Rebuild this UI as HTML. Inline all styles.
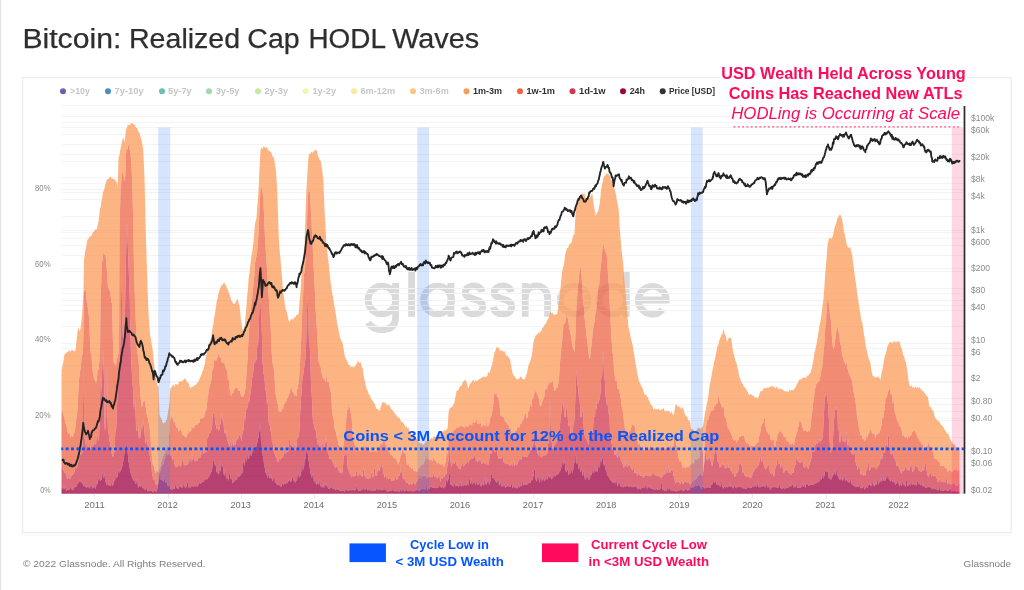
<!DOCTYPE html>
<html><head><meta charset="utf-8"><title>Bitcoin: Realized Cap HODL Waves</title>
<style>html,body{margin:0;padding:0;background:#fff;width:1024px;height:590px;overflow:hidden}svg{display:block;will-change:transform}text{font-family:"Liberation Sans",sans-serif}</style></head>
<body>
<svg width="1024" height="590" viewBox="0 0 1024 590" font-family="Liberation Sans, sans-serif">
<rect width="1024" height="590" fill="#fff"/>
<rect x="0" y="0" width="1.2" height="590" fill="#e4e4e4"/>
<path d="M23,535.6H1011" stroke="#f9f9f9" stroke-width="1.2"/><rect x="22.6" y="77.6" width="988.6" height="455.1" fill="#fff" stroke="#ededed" stroke-width="1.3"/>
<text x="22.4" y="48.1" font-size="28.2" fill="#2e2e2e" textLength="98.9" lengthAdjust="spacingAndGlyphs" stroke="#2e2e2e" stroke-width="0.25">Bitcoin:</text>
<text x="129.0" y="48.1" font-size="28.2" fill="#2e2e2e" textLength="111.1" lengthAdjust="spacingAndGlyphs" stroke="#2e2e2e" stroke-width="0.25">Realized</text>
<text x="247.3" y="48.1" font-size="28.2" fill="#2e2e2e" textLength="52.3" lengthAdjust="spacingAndGlyphs" stroke="#2e2e2e" stroke-width="0.25">Cap</text>
<text x="308.4" y="48.1" font-size="28.2" fill="#2e2e2e" textLength="77.6" lengthAdjust="spacingAndGlyphs" stroke="#2e2e2e" stroke-width="0.25">HODL</text>
<text x="392.2" y="48.1" font-size="28.2" fill="#2e2e2e" textLength="87.0" lengthAdjust="spacingAndGlyphs" stroke="#2e2e2e" stroke-width="0.25">Waves</text>
<g fill="none" stroke="#dadada" stroke-width="6.8"><circle cx="381.9" cy="300.0" r="13.9"/><path d="M395.6,283V317.5Q395.6,329.5 382,329.8Q372.5,329.8 368,322.5"/><path d="M411.6,270.8V316.8"/><circle cx="437.6" cy="300.0" r="13.9"/><path d="M450.9,283V316.8"/><path d="M482.3,292.0 C481.3,288.0 477.8,286.0 473.6,286.0 C468.3,286.0 465.3,288.8 465.3,292.3 C465.3,301.5 482.8,296.3 482.8,307.0 C482.8,311.5 478.8,313.9 473.8,313.9 C468.3,313.9 465.1,311.2 464.3,307.0"/><path d="M511.3,292.0 C510.3,288.0 506.8,286.0 502.6,286.0 C497.3,286.0 494.3,288.8 494.3,292.3 C494.3,301.5 511.8,296.3 511.8,307.0 C511.8,311.5 507.8,313.9 502.8,313.9 C497.3,313.9 494.1,311.2 493.3,307.0"/><path d="M525.2,283V316.8M525.2,298C525.2,290.5 530,286 536.5,286C543,286 547.6,290.5 547.6,298V316.8"/><circle cx="574.2" cy="300.0" r="13.9"/><circle cx="612.6" cy="300.0" r="13.9"/><path d="M626.3,270.8V316.8"/><path d="M639.5,300H666.2A13.9,13.9 0 1 0 662.5,309.7"/></g>
<g stroke="#f4f4f4" stroke-width="1" fill="none"><path d="M61.5,105.5H963.5"/><path d="M61.5,116.5H963.5"/><path d="M61.5,122.5H963.5"/><path d="M61.5,127.5H963.5"/><path d="M61.5,134.5H963.5"/><path d="M61.5,144.5H963.5"/><path d="M61.5,154.5H963.5"/><path d="M61.5,161.5H963.5"/><path d="M61.5,177.5H963.5"/><path d="M61.5,183.5H963.5"/><path d="M61.5,189.5H963.5"/><path d="M61.5,192.5H963.5"/><path d="M61.5,199.5H963.5"/><path d="M61.5,216.5H963.5"/><path d="M61.5,230.5H963.5"/><path d="M61.5,232.5H963.5"/><path d="M61.5,238.5H963.5"/><path d="M61.5,245.5H963.5"/><path d="M61.5,255.5H963.5"/><path d="M61.5,268.5H963.5"/><path d="M61.5,271.5H963.5"/><path d="M61.5,288.5H963.5"/><path d="M61.5,293.5H963.5"/><path d="M61.5,300.5H963.5"/><path d="M61.5,305.5H963.5"/><path d="M61.5,310.5H963.5"/><path d="M61.5,326.5H963.5"/><path d="M61.5,343.5H963.5"/><path d="M61.5,343.5H963.5"/><path d="M61.5,348.5H963.5"/><path d="M61.5,355.5H963.5"/><path d="M61.5,365.5H963.5"/><path d="M61.5,381.5H963.5"/><path d="M61.5,382.5H963.5"/><path d="M61.5,398.5H963.5"/><path d="M61.5,404.5H963.5"/><path d="M61.5,411.5H963.5"/><path d="M61.5,418.5H963.5"/><path d="M61.5,420.5H963.5"/><path d="M61.5,437.5H963.5"/><path d="M61.5,454.5H963.5"/><path d="M61.5,456.5H963.5"/><path d="M61.5,459.5H963.5"/><path d="M61.5,466.5H963.5"/><path d="M61.5,476.5H963.5"/><path d="M61.5,492.5H963.5"/></g>
<g fill-opacity="0.75" stroke="none">
<path fill="#FA9B58" d="M61.5,369.5L62.0,368.7L62.5,365.6L63.0,363.2L63.5,360.9L64.0,357.1L64.5,354.4L65.0,353.8L65.5,353.9L66.0,352.7L66.5,352.4L67.0,352.2L67.5,352.1L68.0,351.9L68.5,350.7L69.0,350.6L69.5,350.8L70.0,351.3L70.5,351.9L71.0,351.0L71.5,350.1L72.0,350.1L72.5,350.5L73.0,349.8L73.5,350.8L74.0,351.5L74.5,351.2L75.0,350.4L75.5,350.3L76.0,346.0L76.5,340.8L77.0,337.7L77.5,332.2L78.0,327.9L78.5,328.6L79.0,329.8L79.5,331.0L80.0,330.6L80.5,328.3L81.0,324.1L81.5,319.5L82.0,315.2L82.5,309.0L83.0,299.8L83.5,291.4L84.0,260.0L84.5,256.4L85.0,253.1L85.5,250.1L86.0,247.3L86.5,245.3L87.0,241.4L87.5,239.6L88.0,239.7L88.5,238.6L89.0,237.9L89.5,236.8L90.0,236.2L90.5,236.4L91.0,235.6L91.5,235.9L92.0,235.2L92.5,232.6L93.0,232.2L93.5,231.7L94.0,230.9L94.5,230.8L95.0,230.3L95.5,229.1L96.0,229.8L96.5,229.6L97.0,228.1L97.5,226.1L98.0,223.9L98.5,221.2L99.0,217.7L99.5,213.2L100.0,208.2L100.5,207.6L101.0,204.7L101.5,201.2L102.0,198.5L102.5,195.4L103.0,192.8L103.5,191.0L104.0,190.1L104.5,188.5L105.0,185.0L105.5,183.9L106.0,182.8L106.5,180.6L107.0,179.5L107.5,179.2L108.0,178.4L108.5,178.4L109.0,178.4L109.5,177.2L110.0,176.8L110.5,176.7L111.0,177.1L111.5,178.1L112.0,178.4L112.5,178.5L113.0,178.1L113.5,178.7L114.0,179.4L114.5,179.2L115.0,179.8L115.5,180.4L116.0,181.1L116.5,182.6L117.0,183.6L117.5,188.7L118.0,175.7L118.5,158.1L119.0,156.2L119.5,155.0L120.0,151.8L120.5,148.8L121.0,146.3L121.5,143.5L122.0,141.8L122.5,139.2L123.0,137.5L123.5,137.9L124.0,141.1L124.5,142.3L125.0,138.4L125.5,133.5L126.0,129.5L126.5,128.8L127.0,128.0L127.5,125.3L128.0,124.2L128.5,125.1L129.0,125.6L129.5,124.9L130.0,125.0L130.5,124.3L131.0,123.1L131.5,123.0L132.0,123.1L132.5,123.5L133.0,123.8L133.5,124.1L134.0,124.4L134.5,124.5L135.0,125.2L135.5,126.5L136.0,127.7L136.5,127.8L137.0,128.0L137.5,128.9L138.0,130.5L138.5,132.7L139.0,131.6L139.5,132.3L140.0,135.8L140.5,136.9L141.0,138.7L141.5,140.1L142.0,142.4L142.5,145.4L143.0,148.1L143.5,155.4L144.0,166.6L144.5,178.3L145.0,199.0L145.5,220.7L146.0,240.2L146.5,254.7L147.0,270.3L147.5,286.2L148.0,300.2L148.5,312.2L149.0,321.0L149.5,327.6L150.0,333.7L150.5,337.5L151.0,339.7L151.5,342.8L152.0,346.7L152.5,349.1L153.0,352.6L153.5,357.8L154.0,362.9L154.5,368.0L155.0,371.2L155.5,375.6L156.0,378.7L156.5,380.9L157.0,383.6L157.5,385.6L158.0,386.3L158.5,386.8L159.0,400.6L159.5,414.4L160.0,416.3L160.5,417.6L161.0,418.1L161.5,419.4L162.0,420.6L162.5,422.1L163.0,423.5L163.5,423.4L164.0,422.5L164.5,422.3L165.0,422.9L165.5,422.2L166.0,420.2L166.5,420.1L167.0,418.3L167.5,415.4L168.0,412.4L168.5,409.0L169.0,406.7L169.5,402.4L170.0,392.2L170.5,388.1L171.0,388.2L171.5,387.0L172.0,386.5L172.5,385.3L173.0,384.8L173.5,384.7L174.0,385.5L174.5,386.9L175.0,385.7L175.5,383.8L176.0,384.0L176.5,384.3L177.0,384.3L177.5,385.1L178.0,384.8L178.5,383.4L179.0,381.8L179.5,381.4L180.0,381.6L180.5,381.2L181.0,381.5L181.5,382.0L182.0,381.1L182.5,380.3L183.0,380.3L183.5,380.5L184.0,378.9L184.5,378.4L185.0,379.1L185.5,379.1L186.0,379.6L186.5,380.6L187.0,382.2L187.5,382.6L188.0,382.4L188.5,383.3L189.0,383.9L189.5,387.1L190.0,387.5L190.5,387.9L191.0,387.8L191.5,387.0L192.0,386.6L192.5,387.0L193.0,386.8L193.5,386.2L194.0,385.6L194.5,385.4L195.0,384.8L195.5,384.6L196.0,384.7L196.5,384.5L197.0,382.7L197.5,382.1L198.0,382.6L198.5,381.6L199.0,379.8L199.5,379.4L200.0,378.0L200.5,376.5L201.0,376.0L201.5,375.1L202.0,373.0L202.5,370.7L203.0,370.7L203.5,369.4L204.0,366.2L204.5,365.4L205.0,362.9L205.5,358.1L206.0,356.5L206.5,355.0L207.0,350.7L207.5,350.0L208.0,348.2L208.5,345.9L209.0,344.4L209.5,342.0L210.0,340.7L210.5,339.7L211.0,338.5L211.5,336.2L212.0,331.8L212.5,327.9L213.0,325.9L213.5,322.9L214.0,318.7L214.5,315.9L215.0,313.5L215.5,310.5L216.0,306.5L216.5,302.7L217.0,300.3L217.5,298.9L218.0,296.1L218.5,293.4L219.0,291.5L219.5,290.8L220.0,288.4L220.5,287.4L221.0,287.1L221.5,284.7L222.0,285.0L222.5,285.4L223.0,284.0L223.5,283.1L224.0,282.6L224.5,283.1L225.0,283.7L225.5,285.2L226.0,285.6L226.5,287.0L227.0,288.7L227.5,288.6L228.0,290.1L228.5,291.9L229.0,293.2L229.5,294.6L230.0,295.5L230.5,297.5L231.0,300.1L231.5,300.6L232.0,300.8L232.5,302.8L233.0,304.0L233.5,303.8L234.0,303.3L234.5,303.8L235.0,303.8L235.5,302.7L236.0,301.5L236.5,300.6L237.0,300.0L237.5,298.8L238.0,300.2L238.5,303.0L239.0,304.4L239.5,305.9L240.0,310.5L240.5,316.1L241.0,319.9L241.5,323.7L242.0,327.1L242.5,329.6L243.0,329.9L243.5,329.0L244.0,329.3L244.5,327.9L245.0,323.5L245.5,317.3L246.0,312.1L246.5,305.6L247.0,298.6L247.5,293.4L248.0,288.3L248.5,280.1L249.0,275.5L249.5,272.8L250.0,267.8L250.5,263.6L251.0,260.1L251.5,255.8L252.0,252.8L252.5,250.4L253.0,245.8L253.5,241.3L254.0,235.8L254.5,229.1L255.0,224.0L255.5,221.7L256.0,220.0L256.5,217.8L257.0,210.7L257.5,203.7L258.0,197.8L258.5,190.6L259.0,180.1L259.5,168.9L260.0,159.7L260.5,150.2L261.0,149.0L261.5,147.4L262.0,148.5L262.5,148.4L263.0,147.8L263.5,146.5L264.0,146.3L264.5,147.0L265.0,147.7L265.5,148.3L266.0,147.5L266.5,146.9L267.0,147.5L267.5,148.8L268.0,150.2L268.5,150.3L269.0,150.9L269.5,150.9L270.0,151.3L270.5,152.1L271.0,152.3L271.5,152.7L272.0,154.7L272.5,156.4L273.0,156.4L273.5,156.7L274.0,158.6L274.5,161.8L275.0,164.6L275.5,167.4L276.0,171.7L276.5,180.0L277.0,186.4L277.5,198.2L278.0,214.8L278.5,228.7L279.0,242.3L279.5,249.2L280.0,254.1L280.5,259.4L281.0,264.8L281.5,271.2L282.0,277.6L282.5,283.3L283.0,289.5L283.5,294.0L284.0,298.1L284.5,302.1L285.0,305.6L285.5,308.7L286.0,309.8L286.5,310.8L287.0,312.5L287.5,314.5L288.0,317.7L288.5,319.5L289.0,321.8L289.5,321.6L290.0,320.9L290.5,320.2L291.0,319.2L291.5,319.0L292.0,318.7L292.5,319.5L293.0,319.9L293.5,319.2L294.0,318.1L294.5,317.4L295.0,317.0L295.5,317.3L296.0,316.0L296.5,314.8L297.0,314.8L297.5,315.1L298.0,314.6L298.5,314.2L299.0,308.3L299.5,302.0L300.0,297.8L300.5,291.3L301.0,282.9L301.5,274.4L302.0,267.9L302.5,264.4L303.0,259.9L303.5,253.7L304.0,249.7L304.5,246.0L305.0,230.1L305.5,214.4L306.0,199.9L306.5,187.3L307.0,180.4L307.5,172.1L308.0,163.9L308.5,157.5L309.0,154.5L309.5,153.9L310.0,153.6L310.5,153.4L311.0,152.3L311.5,151.4L312.0,152.1L312.5,153.0L313.0,152.7L313.5,151.5L314.0,150.9L314.5,150.4L315.0,150.4L315.5,150.1L316.0,150.1L316.5,150.3L317.0,151.0L317.5,153.5L318.0,156.3L318.5,157.3L319.0,158.0L319.5,160.1L320.0,160.1L320.5,160.5L321.0,162.6L321.5,166.0L322.0,168.9L322.5,172.3L323.0,177.7L323.5,183.1L324.0,197.2L324.5,209.8L325.0,218.0L325.5,226.4L326.0,237.2L326.5,246.6L327.0,250.1L327.5,253.4L328.0,258.4L328.5,262.4L329.0,266.6L329.5,271.8L330.0,277.0L330.5,281.4L331.0,284.5L331.5,288.8L332.0,292.3L332.5,294.4L333.0,296.5L333.5,300.7L334.0,304.2L334.5,306.7L335.0,309.1L335.5,312.0L336.0,315.3L336.5,318.6L337.0,322.4L337.5,325.6L338.0,327.6L338.5,330.3L339.0,332.2L339.5,334.5L340.0,337.8L340.5,338.4L341.0,339.7L341.5,341.0L342.0,341.9L342.5,343.1L343.0,345.8L343.5,348.4L344.0,351.3L344.5,354.8L345.0,356.7L345.5,358.5L346.0,358.8L346.5,359.9L347.0,360.8L347.5,361.6L348.0,363.5L348.5,365.0L349.0,365.1L349.5,364.7L350.0,365.2L350.5,367.1L351.0,367.5L351.5,366.3L352.0,366.1L352.5,366.5L353.0,367.4L353.5,367.5L354.0,366.3L354.5,366.3L355.0,366.8L355.5,365.9L356.0,364.2L356.5,363.5L357.0,363.5L357.5,361.8L358.0,359.9L358.5,361.6L359.0,363.0L359.5,362.7L360.0,362.3L360.5,362.2L361.0,363.2L361.5,365.8L362.0,367.6L362.5,367.9L363.0,370.3L363.5,374.0L364.0,377.3L364.5,379.7L365.0,382.6L365.5,384.5L366.0,386.3L366.5,388.8L367.0,389.6L367.5,389.8L368.0,392.0L368.5,393.5L369.0,394.6L369.5,395.0L370.0,396.0L370.5,397.3L371.0,398.2L371.5,399.6L372.0,400.1L372.5,400.4L373.0,401.5L373.5,402.3L374.0,403.3L374.5,403.6L375.0,404.1L375.5,406.2L376.0,407.8L376.5,408.9L377.0,408.8L377.5,408.4L378.0,409.4L378.5,410.0L379.0,410.2L379.5,411.3L380.0,410.0L380.5,407.5L381.0,406.3L381.5,405.1L382.0,403.3L382.5,402.2L383.0,402.4L383.5,401.9L384.0,401.5L384.5,402.6L385.0,403.1L385.5,403.1L386.0,403.5L386.5,404.8L387.0,405.9L387.5,404.5L388.0,404.7L388.5,405.4L389.0,403.7L389.5,405.3L390.0,407.2L390.5,407.4L391.0,408.5L391.5,409.2L392.0,409.4L392.5,410.0L393.0,410.9L393.5,411.7L394.0,412.5L394.5,412.9L395.0,414.1L395.5,415.0L396.0,414.9L396.5,415.3L397.0,415.9L397.5,416.4L398.0,417.8L398.5,417.7L399.0,417.0L399.5,418.2L400.0,419.1L400.5,420.0L401.0,421.4L401.5,421.8L402.0,422.0L402.5,422.2L403.0,422.5L403.5,423.2L404.0,424.2L404.5,424.8L405.0,426.0L405.5,427.5L406.0,427.0L406.5,425.9L407.0,427.6L407.5,428.8L408.0,427.4L408.5,427.6L409.0,429.7L409.5,431.6L410.0,432.5L410.5,433.0L411.0,433.9L411.5,434.8L412.0,434.0L412.5,433.6L413.0,434.3L413.5,435.0L414.0,435.8L414.5,436.4L415.0,438.1L415.5,438.2L416.0,438.3L416.5,438.8L417.0,438.4L417.5,440.0L418.0,441.3L418.5,441.4L419.0,442.8L419.5,442.8L420.0,442.5L420.5,444.0L421.0,443.5L421.5,443.1L422.0,444.2L422.5,444.6L423.0,444.6L423.5,444.8L424.0,444.3L424.5,443.7L425.0,443.1L425.5,441.8L426.0,441.1L426.5,441.0L427.0,441.3L427.5,441.4L428.0,440.9L428.5,440.6L429.0,440.5L429.5,439.8L430.0,439.3L430.5,438.8L431.0,438.2L431.5,437.6L432.0,438.5L432.5,439.0L433.0,437.1L433.5,436.3L434.0,436.8L434.5,436.6L435.0,436.7L435.5,437.0L436.0,437.0L436.5,435.2L437.0,434.9L437.5,436.3L438.0,436.2L438.5,435.7L439.0,434.7L439.5,434.2L440.0,434.7L440.5,434.6L441.0,432.9L441.5,431.9L442.0,432.2L442.5,431.6L443.0,431.1L443.5,431.3L444.0,430.9L444.5,429.8L445.0,430.3L445.5,430.9L446.0,430.2L446.5,429.4L447.0,429.0L447.5,428.6L448.0,421.4L448.5,413.0L449.0,411.1L449.5,409.1L450.0,407.8L450.5,408.0L451.0,407.9L451.5,406.7L452.0,406.7L452.5,406.2L453.0,405.4L453.5,403.9L454.0,403.5L454.5,402.2L455.0,398.7L455.5,396.4L456.0,394.1L456.5,390.9L457.0,390.8L457.5,390.8L458.0,390.1L458.5,390.0L459.0,388.8L459.5,387.4L460.0,386.0L460.5,386.0L461.0,386.7L461.5,385.7L462.0,384.2L462.5,383.0L463.0,381.8L463.5,381.5L464.0,381.8L464.5,380.2L465.0,379.4L465.5,379.5L466.0,380.7L466.5,381.8L467.0,383.5L467.5,385.3L468.0,387.9L468.5,388.3L469.0,386.4L469.5,384.8L470.0,383.6L470.5,383.3L471.0,383.5L471.5,382.2L472.0,380.7L472.5,380.5L473.0,379.9L473.5,380.0L474.0,381.5L474.5,382.1L475.0,381.2L475.5,380.3L476.0,380.6L476.5,380.9L477.0,381.2L477.5,380.6L478.0,379.8L478.5,379.5L479.0,379.8L479.5,378.8L480.0,378.3L480.5,378.8L481.0,378.3L481.5,377.7L482.0,377.5L482.5,377.4L483.0,376.1L483.5,376.6L484.0,377.2L484.5,377.0L485.0,377.0L485.5,376.7L486.0,377.1L486.5,376.4L487.0,375.9L487.5,375.7L488.0,372.0L488.5,372.3L489.0,373.2L489.5,373.1L490.0,371.4L490.5,369.9L491.0,368.0L491.5,366.3L492.0,365.3L492.5,363.0L493.0,360.1L493.5,358.0L494.0,354.8L494.5,352.5L495.0,351.6L495.5,350.5L496.0,349.0L496.5,346.8L497.0,347.2L497.5,347.8L498.0,346.9L498.5,347.5L499.0,348.4L499.5,349.5L500.0,350.6L500.5,350.8L501.0,351.0L501.5,350.7L502.0,351.1L502.5,350.7L503.0,351.0L503.5,351.9L504.0,350.8L504.5,351.3L505.0,353.2L505.5,353.8L506.0,354.8L506.5,356.3L507.0,356.1L507.5,355.6L508.0,356.3L508.5,356.9L509.0,357.9L509.5,359.1L510.0,359.6L510.5,361.9L511.0,364.7L511.5,367.4L512.0,370.2L512.5,372.7L513.0,374.7L513.5,375.2L514.0,375.7L514.5,376.0L515.0,377.3L515.5,378.0L516.0,378.3L516.5,379.0L517.0,379.2L517.5,379.3L518.0,379.8L518.5,379.3L519.0,378.5L519.5,378.0L520.0,377.4L520.5,376.6L521.0,376.4L521.5,377.1L522.0,377.9L522.5,378.9L523.0,379.1L523.5,379.3L524.0,379.5L524.5,379.2L525.0,378.2L525.5,377.1L526.0,376.1L526.5,374.2L527.0,372.8L527.5,370.1L528.0,366.9L528.5,365.3L529.0,364.4L529.5,363.0L530.0,361.7L530.5,360.5L531.0,358.8L531.5,356.7L532.0,354.0L532.5,350.5L533.0,345.8L533.5,342.2L534.0,340.3L534.5,338.5L535.0,337.2L535.5,335.5L536.0,335.3L536.5,334.4L537.0,334.9L537.5,334.5L538.0,332.6L538.5,332.6L539.0,333.0L539.5,333.2L540.0,332.5L540.5,331.5L541.0,331.1L541.5,330.7L542.0,329.0L542.5,328.0L543.0,327.5L543.5,327.1L544.0,326.4L544.5,324.7L545.0,324.4L545.5,323.9L546.0,322.7L546.5,322.2L547.0,321.1L547.5,319.6L548.0,319.3L548.5,318.3L549.0,316.9L549.5,315.6L550.0,312.6L550.5,311.7L551.0,313.1L551.5,312.9L552.0,313.7L552.5,312.5L553.0,313.7L553.5,314.6L554.0,314.4L554.5,314.7L555.0,315.4L555.5,314.6L556.0,313.7L556.5,314.2L557.0,313.9L557.5,312.0L558.0,309.3L558.5,304.4L559.0,301.3L559.5,298.4L560.0,293.7L560.5,287.9L561.0,282.8L561.5,277.4L562.0,272.8L562.5,269.5L563.0,267.6L563.5,266.5L564.0,264.4L564.5,260.4L565.0,255.8L565.5,252.9L566.0,251.4L566.5,249.4L567.0,248.4L567.5,247.7L568.0,247.8L568.5,246.9L569.0,245.1L569.5,244.4L570.0,243.4L570.5,243.7L571.0,243.5L571.5,242.5L572.0,240.9L572.5,238.6L573.0,236.1L573.5,234.7L574.0,235.0L574.5,234.0L575.0,224.3L575.5,215.4L576.0,211.4L576.5,206.7L577.0,204.2L577.5,201.0L578.0,200.7L578.5,200.9L579.0,198.4L579.5,196.7L580.0,196.2L580.5,196.0L581.0,195.0L581.5,194.6L582.0,193.3L582.5,193.6L583.0,194.5L583.5,193.9L584.0,193.6L584.5,193.2L585.0,196.4L585.5,197.8L586.0,199.1L586.5,198.3L587.0,197.3L587.5,198.1L588.0,198.7L588.5,198.1L589.0,197.8L589.5,198.4L590.0,197.4L590.5,196.1L591.0,195.6L591.5,194.5L592.0,192.8L592.5,195.0L593.0,199.2L593.5,203.3L594.0,206.2L594.5,208.8L595.0,211.7L595.5,215.7L596.0,215.6L596.5,213.7L597.0,212.6L597.5,212.0L598.0,212.2L598.5,210.0L599.0,207.0L599.5,204.4L600.0,200.9L600.5,196.2L601.0,190.3L601.5,188.2L602.0,184.6L602.5,183.2L603.0,180.7L603.5,178.3L604.0,177.3L604.5,176.2L605.0,175.6L605.5,175.7L606.0,174.0L606.5,173.1L607.0,173.9L607.5,174.1L608.0,173.4L608.5,174.0L609.0,175.5L609.5,175.7L610.0,176.2L610.5,178.0L611.0,179.9L611.5,180.2L612.0,182.3L612.5,183.7L613.0,184.5L613.5,185.9L614.0,186.8L614.5,188.9L615.0,190.8L615.5,192.8L616.0,195.0L616.5,197.6L617.0,200.9L617.5,203.3L618.0,205.5L618.5,208.0L619.0,216.0L619.5,224.5L620.0,232.1L620.5,237.5L621.0,243.5L621.5,249.3L622.0,253.4L622.5,257.9L623.0,262.2L623.5,267.8L624.0,276.2L624.5,282.4L625.0,286.0L625.5,292.0L626.0,298.4L626.5,304.3L627.0,310.4L627.5,315.1L628.0,322.0L628.5,327.4L629.0,329.4L629.5,331.4L630.0,333.4L630.5,336.7L631.0,339.0L631.5,340.3L632.0,342.6L632.5,345.0L633.0,346.7L633.5,350.6L634.0,353.9L634.5,355.8L635.0,360.5L635.5,363.8L636.0,365.1L636.5,368.5L637.0,372.4L637.5,374.5L638.0,376.7L638.5,379.3L639.0,381.1L639.5,382.3L640.0,382.7L640.5,384.1L641.0,385.8L641.5,386.4L642.0,386.9L642.5,388.3L643.0,389.0L643.5,391.9L644.0,392.7L644.5,394.2L645.0,394.9L645.5,394.2L646.0,394.2L646.5,395.3L647.0,397.0L647.5,396.7L648.0,397.2L648.5,399.4L649.0,400.5L649.5,401.4L650.0,402.7L650.5,404.5L651.0,404.6L651.5,404.5L652.0,405.6L652.5,406.2L653.0,408.5L653.5,409.6L654.0,409.0L654.5,408.6L655.0,408.4L655.5,409.6L656.0,409.2L656.5,408.9L657.0,410.1L657.5,409.1L658.0,408.8L658.5,408.8L659.0,408.8L659.5,409.9L660.0,410.1L660.5,410.3L661.0,410.6L661.5,408.9L662.0,409.0L662.5,409.6L663.0,407.8L663.5,408.3L664.0,409.5L664.5,410.8L665.0,411.6L665.5,411.1L666.0,410.7L666.5,410.9L667.0,410.7L667.5,411.0L668.0,411.2L668.5,410.8L669.0,411.3L669.5,411.2L670.0,412.7L670.5,413.4L671.0,411.8L671.5,411.7L672.0,412.2L672.5,413.4L673.0,414.9L673.5,415.0L674.0,414.1L674.5,411.2L675.0,406.9L675.5,404.4L676.0,404.4L676.5,404.7L677.0,405.3L677.5,406.5L678.0,407.4L678.5,406.3L679.0,405.4L679.5,406.9L680.0,407.4L680.5,407.9L681.0,409.1L681.5,408.6L682.0,407.3L682.5,407.3L683.0,408.6L683.5,409.8L684.0,411.3L684.5,413.2L685.0,414.3L685.5,415.4L686.0,415.9L686.5,416.8L687.0,416.7L687.5,417.1L688.0,419.7L688.5,420.7L689.0,420.0L689.5,419.8L690.0,421.9L690.5,424.4L691.0,427.4L691.5,429.5L692.0,429.0L692.5,429.1L693.0,429.9L693.5,430.1L694.0,430.6L694.5,432.1L695.0,431.3L695.5,430.8L696.0,431.0L696.5,430.2L697.0,429.3L697.5,428.4L698.0,428.0L698.5,427.6L699.0,428.1L699.5,428.1L700.0,428.8L700.5,429.2L701.0,428.4L701.5,427.5L702.0,427.4L702.5,427.2L703.0,425.5L703.5,422.7L704.0,419.5L704.5,416.2L705.0,412.7L705.5,411.1L706.0,409.1L706.5,405.6L707.0,403.0L707.5,400.6L708.0,397.4L708.5,394.9L709.0,390.6L709.5,386.0L710.0,384.1L710.5,381.0L711.0,378.7L711.5,376.3L712.0,373.0L712.5,369.9L713.0,368.0L713.5,365.7L714.0,362.5L714.5,360.5L715.0,358.7L715.5,356.2L716.0,353.5L716.5,351.2L717.0,348.2L717.5,345.2L718.0,345.9L718.5,344.0L719.0,341.1L719.5,340.1L720.0,338.9L720.5,336.9L721.0,336.9L721.5,335.1L722.0,334.1L722.5,333.7L723.0,331.1L723.5,329.4L724.0,330.4L724.5,332.7L725.0,335.4L725.5,335.0L726.0,336.5L726.5,339.7L727.0,342.4L727.5,340.8L728.0,339.6L728.5,338.3L729.0,337.9L729.5,337.3L730.0,337.3L730.5,338.0L731.0,338.6L731.5,340.7L732.0,344.1L732.5,348.1L733.0,351.3L733.5,352.5L734.0,354.9L734.5,356.9L735.0,358.7L735.5,361.1L736.0,361.9L736.5,363.0L737.0,365.4L737.5,368.1L738.0,369.4L738.5,371.3L739.0,375.3L739.5,377.7L740.0,377.8L740.5,379.7L741.0,381.8L741.5,381.7L742.0,382.7L742.5,383.7L743.0,384.6L743.5,385.8L744.0,386.9L744.5,386.9L745.0,387.1L745.5,388.8L746.0,389.0L746.5,389.8L747.0,391.5L747.5,391.6L748.0,392.7L748.5,393.9L749.0,394.3L749.5,395.1L750.0,395.0L750.5,393.9L751.0,393.9L751.5,394.2L752.0,395.2L752.5,395.8L753.0,395.3L753.5,395.5L754.0,396.5L754.5,397.3L755.0,397.4L755.5,397.7L756.0,397.3L756.5,397.1L757.0,398.4L757.5,399.0L758.0,397.8L758.5,397.1L759.0,395.1L759.5,393.9L760.0,391.9L760.5,391.1L761.0,391.5L761.5,390.7L762.0,391.0L762.5,390.9L763.0,388.7L763.5,388.7L764.0,388.5L764.5,387.8L765.0,388.3L765.5,388.7L766.0,388.6L766.5,387.3L767.0,387.4L767.5,387.7L768.0,387.7L768.5,388.1L769.0,387.5L769.5,386.4L770.0,386.7L770.5,387.1L771.0,386.6L771.5,386.6L772.0,386.2L772.5,385.6L773.0,385.9L773.5,386.7L774.0,387.0L774.5,387.4L775.0,388.1L775.5,388.2L776.0,387.5L776.5,386.7L777.0,386.9L777.5,387.2L778.0,388.3L778.5,389.5L779.0,388.4L779.5,388.0L780.0,388.9L780.5,388.8L781.0,388.9L781.5,389.1L782.0,389.2L782.5,389.5L783.0,390.1L783.5,390.4L784.0,391.0L784.5,391.3L785.0,391.2L785.5,391.5L786.0,391.2L786.5,391.4L787.0,391.7L787.5,390.8L788.0,391.8L788.5,392.0L789.0,390.8L789.5,389.6L790.0,389.5L790.5,391.1L791.0,390.8L791.5,389.6L792.0,390.0L792.5,390.3L793.0,390.2L793.5,389.9L794.0,389.0L794.5,388.0L795.0,387.9L795.5,387.5L796.0,386.5L796.5,384.9L797.0,383.4L797.5,383.4L798.0,382.5L798.5,381.0L799.0,380.6L799.5,379.3L800.0,379.3L800.5,379.3L801.0,379.6L801.5,379.7L802.0,378.3L802.5,377.7L803.0,377.6L803.5,377.8L804.0,377.4L804.5,378.0L805.0,378.1L805.5,377.7L806.0,377.5L806.5,377.3L807.0,375.5L807.5,375.2L808.0,376.7L808.5,374.9L809.0,374.5L809.5,374.0L810.0,373.0L810.5,373.0L811.0,371.1L811.5,369.3L812.0,367.6L812.5,364.7L813.0,362.3L813.5,359.4L814.0,355.9L814.5,352.2L815.0,351.0L815.5,348.7L816.0,346.1L816.5,344.3L817.0,341.2L817.5,338.2L818.0,335.0L818.5,331.6L819.0,329.4L819.5,325.0L820.0,323.3L820.5,320.9L821.0,317.7L821.5,314.1L822.0,310.1L822.5,305.7L823.0,303.0L823.5,298.6L824.0,291.4L824.5,284.9L825.0,277.4L825.5,270.4L826.0,264.7L826.5,259.4L827.0,252.3L827.5,245.3L828.0,242.8L828.5,240.5L829.0,238.5L829.5,238.7L830.0,238.0L830.5,237.9L831.0,238.8L831.5,238.4L832.0,238.0L832.5,237.0L833.0,235.4L833.5,233.6L834.0,230.8L834.5,227.7L835.0,226.6L835.5,224.4L836.0,224.5L836.5,222.4L837.0,219.2L837.5,217.7L838.0,217.6L838.5,216.8L839.0,215.3L839.5,215.2L840.0,214.9L840.5,215.0L841.0,215.9L841.5,216.8L842.0,219.0L842.5,221.5L843.0,225.0L843.5,228.4L844.0,231.2L844.5,233.4L845.0,235.6L845.5,238.6L846.0,241.2L846.5,243.0L847.0,245.1L847.5,246.4L848.0,247.3L848.5,248.0L849.0,247.3L849.5,247.3L850.0,247.2L850.5,248.0L851.0,250.9L851.5,252.4L852.0,253.9L852.5,257.4L853.0,262.3L853.5,265.3L854.0,269.9L854.5,273.8L855.0,277.3L855.5,280.8L856.0,283.7L856.5,287.3L857.0,291.8L857.5,296.1L858.0,298.7L858.5,302.0L859.0,305.5L859.5,308.9L860.0,311.7L860.5,314.4L861.0,318.4L861.5,320.8L862.0,321.9L862.5,324.0L863.0,326.6L863.5,330.9L864.0,334.8L864.5,336.8L865.0,340.5L865.5,344.2L866.0,346.7L866.5,349.3L867.0,351.1L867.5,354.0L868.0,356.1L868.5,357.8L869.0,359.6L869.5,360.5L870.0,361.1L870.5,363.6L871.0,367.7L871.5,370.8L872.0,373.1L872.5,374.9L873.0,376.3L873.5,376.4L874.0,376.0L874.5,376.4L875.0,377.8L875.5,377.6L876.0,377.1L876.5,378.0L877.0,377.0L877.5,376.7L878.0,376.4L878.5,376.3L879.0,378.0L879.5,378.1L880.0,379.2L880.5,379.7L881.0,377.0L881.5,373.1L882.0,371.1L882.5,369.6L883.0,366.0L883.5,363.1L884.0,360.5L884.5,357.1L885.0,355.8L885.5,354.5L886.0,352.9L886.5,351.2L887.0,348.3L887.5,346.4L888.0,345.3L888.5,343.8L889.0,343.5L889.5,342.8L890.0,342.3L890.5,341.8L891.0,342.1L891.5,342.9L892.0,342.7L892.5,343.0L893.0,342.5L893.5,341.9L894.0,341.1L894.5,341.3L895.0,341.4L895.5,341.9L896.0,342.7L896.5,341.9L897.0,341.7L897.5,341.3L898.0,341.3L898.5,341.4L899.0,341.5L899.5,341.6L900.0,343.0L900.5,346.1L901.0,347.0L901.5,347.8L902.0,349.7L902.5,351.7L903.0,354.3L903.5,355.6L904.0,356.4L904.5,357.9L905.0,360.0L905.5,361.2L906.0,361.9L906.5,365.7L907.0,369.2L907.5,371.8L908.0,376.6L908.5,380.9L909.0,382.8L909.5,385.2L910.0,386.2L910.5,386.2L911.0,386.7L911.5,385.8L912.0,385.3L912.5,387.6L913.0,388.4L913.5,386.8L914.0,387.2L914.5,388.4L915.0,387.4L915.5,386.4L916.0,386.8L916.5,388.0L917.0,387.9L917.5,387.1L918.0,387.5L918.5,388.4L919.0,387.6L919.5,386.9L920.0,387.6L920.5,389.2L921.0,389.6L921.5,389.6L922.0,390.8L922.5,390.9L923.0,390.8L923.5,391.3L924.0,392.4L924.5,393.0L925.0,392.9L925.5,394.4L926.0,394.6L926.5,396.3L927.0,395.9L927.5,396.5L928.0,397.5L928.5,400.6L929.0,404.9L929.5,406.8L930.0,407.4L930.5,406.6L931.0,406.8L931.5,408.8L932.0,410.1L932.5,410.6L933.0,410.0L933.5,411.6L934.0,412.6L934.5,416.3L935.0,417.5L935.5,418.0L936.0,419.0L936.5,419.5L937.0,419.6L937.5,420.7L938.0,420.8L938.5,420.9L939.0,422.1L939.5,422.2L940.0,422.2L940.5,424.0L941.0,424.8L941.5,425.3L942.0,425.8L942.5,425.9L943.0,426.5L943.5,426.9L944.0,428.7L944.5,430.0L945.0,429.7L945.5,430.9L946.0,432.0L946.5,432.4L947.0,433.0L947.5,434.0L948.0,434.3L948.5,434.2L949.0,435.7L949.5,437.5L950.0,438.8L950.5,439.4L951.0,440.7L951.5,441.9L952.0,442.3L952.5,442.7L953.0,444.0L953.5,444.6L954.0,444.0L954.5,444.2L955.0,446.0L955.5,446.9L956.0,447.1L956.5,447.9L957.0,448.3L957.5,448.2L958.0,448.6L958.5,448.6L959.0,449.6L959.5,449.6L959.5,469.7L959.0,470.7L958.5,470.3L958.0,470.6L957.5,470.9L957.0,468.4L956.5,469.2L956.0,468.9L955.5,469.7L955.0,470.7L954.5,469.6L954.0,469.6L953.5,470.2L953.0,470.0L952.5,472.0L952.0,471.8L951.5,471.3L951.0,471.5L950.5,469.8L950.0,470.5L949.5,469.8L949.0,469.5L948.5,471.1L948.0,471.8L947.5,471.4L947.0,469.4L946.5,467.8L946.0,467.8L945.5,468.3L945.0,468.2L944.5,466.4L944.0,465.7L943.5,465.8L943.0,465.0L942.5,466.2L942.0,465.8L941.5,464.9L941.0,466.1L940.5,466.6L940.0,464.1L939.5,461.9L939.0,462.0L938.5,461.3L938.0,461.2L937.5,460.2L937.0,458.3L936.5,459.6L936.0,459.6L935.5,458.7L935.0,457.6L934.5,458.3L934.0,459.1L933.5,450.9L933.0,447.6L932.5,452.1L932.0,451.2L931.5,448.1L931.0,446.5L930.5,447.4L930.0,446.1L929.5,445.8L929.0,441.9L928.5,441.3L928.0,445.0L927.5,445.8L927.0,446.9L926.5,445.3L926.0,446.1L925.5,447.7L925.0,447.7L924.5,447.5L924.0,447.8L923.5,447.4L923.0,445.3L922.5,443.7L922.0,444.2L921.5,443.3L921.0,441.3L920.5,442.5L920.0,441.7L919.5,440.0L919.0,439.5L918.5,438.5L918.0,438.1L917.5,436.7L917.0,434.9L916.5,434.7L916.0,433.8L915.5,431.2L915.0,431.0L914.5,430.6L914.0,429.9L913.5,430.6L913.0,432.1L912.5,431.2L912.0,432.7L911.5,435.4L911.0,434.9L910.5,435.4L910.0,435.6L909.5,437.6L909.0,437.4L908.5,435.6L908.0,436.5L907.5,439.9L907.0,437.6L906.5,435.4L906.0,437.9L905.5,438.1L905.0,438.1L904.5,436.2L904.0,433.7L903.5,434.8L903.0,436.3L902.5,435.7L902.0,432.1L901.5,429.4L901.0,428.3L900.5,426.3L900.0,425.9L899.5,426.5L899.0,424.2L898.5,422.8L898.0,421.9L897.5,420.2L897.0,420.2L896.5,418.3L896.0,415.7L895.5,414.0L895.0,413.0L894.5,409.6L894.0,398.8L893.5,400.0L893.0,404.6L892.5,401.6L892.0,395.9L891.5,393.1L891.0,394.4L890.5,393.4L890.0,389.6L889.5,388.1L889.0,390.6L888.5,391.3L888.0,391.1L887.5,393.7L887.0,396.2L886.5,398.2L886.0,397.6L885.5,398.8L885.0,405.1L884.5,409.8L884.0,411.5L883.5,415.5L883.0,419.8L882.5,416.3L882.0,419.6L881.5,425.5L881.0,426.8L880.5,428.4L880.0,431.6L879.5,432.3L879.0,433.9L878.5,431.8L878.0,432.7L877.5,435.0L877.0,434.1L876.5,434.7L876.0,435.1L875.5,437.4L875.0,437.5L874.5,433.2L874.0,434.0L873.5,433.5L873.0,432.2L872.5,433.7L872.0,433.2L871.5,430.4L871.0,429.9L870.5,430.3L870.0,429.7L869.5,431.6L869.0,433.7L868.5,433.7L868.0,435.2L867.5,438.2L867.0,434.9L866.5,435.3L866.0,439.2L865.5,439.7L865.0,440.8L864.5,440.7L864.0,440.1L863.5,438.9L863.0,438.0L862.5,438.9L862.0,435.8L861.5,435.1L861.0,435.5L860.5,434.8L860.0,432.6L859.5,430.2L859.0,428.0L858.5,425.2L858.0,421.5L857.5,418.7L857.0,415.7L856.5,409.7L856.0,405.3L855.5,401.5L855.0,398.4L854.5,397.1L854.0,394.4L853.5,390.8L853.0,387.7L852.5,383.6L852.0,381.1L851.5,379.0L851.0,377.5L850.5,377.2L850.0,375.9L849.5,374.3L849.0,373.7L848.5,372.2L848.0,370.0L847.5,369.1L847.0,364.1L846.5,361.4L846.0,364.7L845.5,365.4L845.0,363.8L844.5,362.3L844.0,360.9L843.5,360.0L843.0,357.3L842.5,356.2L842.0,355.5L841.5,347.5L841.0,342.6L840.5,345.4L840.0,342.7L839.5,335.1L839.0,332.8L838.5,331.9L838.0,328.0L837.5,326.2L837.0,329.0L836.5,329.8L836.0,333.6L835.5,338.1L835.0,340.4L834.5,346.5L834.0,346.6L833.5,349.3L833.0,347.4L832.5,342.9L832.0,337.7L831.5,329.2L831.0,321.0L830.5,317.2L830.0,315.4L829.5,309.8L829.0,305.3L828.5,300.6L828.0,297.3L827.5,298.2L827.0,305.7L826.5,312.6L826.0,322.9L825.5,325.8L825.0,331.1L824.5,341.6L824.0,348.1L823.5,352.6L823.0,358.4L822.5,364.5L822.0,368.2L821.5,368.9L821.0,372.0L820.5,375.8L820.0,377.6L819.5,380.6L819.0,381.9L818.5,382.1L818.0,381.8L817.5,383.3L817.0,383.5L816.5,382.9L816.0,385.3L815.5,388.0L815.0,388.4L814.5,391.1L814.0,398.0L813.5,400.6L813.0,403.4L812.5,410.5L812.0,413.6L811.5,416.6L811.0,421.5L810.5,427.1L810.0,429.7L809.5,431.8L809.0,431.0L808.5,430.9L808.0,431.4L807.5,431.6L807.0,431.7L806.5,431.1L806.0,429.8L805.5,430.3L805.0,431.3L804.5,430.9L804.0,431.0L803.5,430.2L803.0,428.6L802.5,427.4L802.0,426.7L801.5,422.8L801.0,421.6L800.5,421.8L800.0,419.5L799.5,419.9L799.0,423.3L798.5,427.1L798.0,427.1L797.5,431.0L797.0,432.6L796.5,432.7L796.0,436.0L795.5,436.5L795.0,438.4L794.5,441.7L794.0,443.9L793.5,445.6L793.0,443.7L792.5,442.2L792.0,443.0L791.5,444.9L791.0,444.8L790.5,442.7L790.0,444.4L789.5,443.6L789.0,442.0L788.5,441.9L788.0,441.1L787.5,441.8L787.0,440.9L786.5,439.8L786.0,438.8L785.5,435.7L785.0,435.6L784.5,437.0L784.0,437.4L783.5,436.1L783.0,435.1L782.5,433.3L782.0,431.5L781.5,432.6L781.0,432.5L780.5,430.5L780.0,431.5L779.5,431.8L779.0,431.1L778.5,433.6L778.0,433.3L777.5,433.3L777.0,438.0L776.5,440.9L776.0,440.9L775.5,443.8L775.0,447.6L774.5,445.3L774.0,440.7L773.5,439.0L773.0,439.3L772.5,439.9L772.0,440.2L771.5,440.3L771.0,440.1L770.5,438.7L770.0,435.9L769.5,433.6L769.0,434.3L768.5,434.8L768.0,431.1L767.5,432.5L767.0,432.1L766.5,430.4L766.0,428.8L765.5,426.0L765.0,419.3L764.5,418.6L764.0,418.5L763.5,422.2L763.0,422.9L762.5,423.7L762.0,423.3L761.5,424.9L761.0,427.6L760.5,431.0L760.0,433.8L759.5,435.3L759.0,436.9L758.5,440.5L758.0,443.6L757.5,442.5L757.0,442.6L756.5,442.7L756.0,443.7L755.5,444.8L755.0,445.9L754.5,446.0L754.0,446.5L753.5,446.2L753.0,445.5L752.5,446.3L752.0,445.1L751.5,445.7L751.0,445.9L750.5,445.8L750.0,446.8L749.5,444.8L749.0,443.8L748.5,443.9L748.0,441.2L747.5,442.8L747.0,443.8L746.5,442.6L746.0,442.2L745.5,441.4L745.0,440.2L744.5,437.6L744.0,436.2L743.5,435.2L743.0,435.5L742.5,435.7L742.0,435.9L741.5,435.6L741.0,436.1L740.5,437.5L740.0,436.5L739.5,435.8L739.0,437.7L738.5,439.8L738.0,440.3L737.5,439.7L737.0,441.9L736.5,443.1L736.0,440.3L735.5,439.0L735.0,440.4L734.5,440.5L734.0,440.5L733.5,438.9L733.0,438.4L732.5,439.2L732.0,436.6L731.5,434.6L731.0,433.3L730.5,433.3L730.0,432.0L729.5,429.9L729.0,429.2L728.5,428.6L728.0,428.5L727.5,426.0L727.0,423.6L726.5,420.7L726.0,419.0L725.5,418.0L725.0,416.4L724.5,416.2L724.0,407.3L723.5,407.3L723.0,405.3L722.5,409.1L722.0,407.0L721.5,405.9L721.0,405.1L720.5,402.9L720.0,401.6L719.5,400.6L719.0,398.6L718.5,390.4L718.0,399.6L717.5,402.7L717.0,404.3L716.5,403.8L716.0,403.3L715.5,405.5L715.0,406.1L714.5,405.9L714.0,406.9L713.5,409.6L713.0,410.5L712.5,410.2L712.0,411.5L711.5,410.8L711.0,410.0L710.5,410.3L710.0,414.2L709.5,416.3L709.0,415.6L708.5,418.9L708.0,420.5L707.5,418.5L707.0,421.5L706.5,425.6L706.0,425.4L705.5,429.0L705.0,438.3L704.5,460.5L704.0,465.3L703.5,469.8L703.0,453.7L702.5,449.0L702.0,450.1L701.5,450.1L701.0,451.0L700.5,450.2L700.0,452.5L699.5,457.8L699.0,457.2L698.5,457.6L698.0,458.7L697.5,458.9L697.0,460.0L696.5,459.7L696.0,459.2L695.5,459.6L695.0,458.3L694.5,459.6L694.0,463.4L693.5,463.5L693.0,464.1L692.5,462.0L692.0,463.4L691.5,464.7L691.0,463.0L690.5,464.3L690.0,465.5L689.5,466.2L689.0,465.7L688.5,466.7L688.0,467.8L687.5,466.2L687.0,466.7L686.5,466.9L686.0,468.6L685.5,467.8L685.0,467.4L684.5,467.7L684.0,464.8L683.5,465.4L683.0,467.9L682.5,467.1L682.0,464.8L681.5,462.2L681.0,461.6L680.5,460.9L680.0,460.5L679.5,462.0L679.0,459.9L678.5,457.6L678.0,454.7L677.5,450.7L677.0,448.9L676.5,444.4L676.0,441.4L675.5,440.6L675.0,436.0L674.5,436.3L674.0,439.4L673.5,444.9L673.0,446.1L672.5,447.8L672.0,448.5L671.5,447.6L671.0,446.1L670.5,445.7L670.0,445.7L669.5,448.1L669.0,446.1L668.5,445.7L668.0,447.2L667.5,448.7L667.0,448.0L666.5,449.3L666.0,449.3L665.5,449.3L665.0,448.8L664.5,447.7L664.0,448.3L663.5,449.4L663.0,449.8L662.5,450.1L662.0,449.4L661.5,448.2L661.0,447.9L660.5,448.0L660.0,447.8L659.5,446.9L659.0,445.9L658.5,448.7L658.0,447.4L657.5,445.8L657.0,448.1L656.5,450.2L656.0,448.8L655.5,448.1L655.0,447.8L654.5,447.8L654.0,448.4L653.5,449.3L653.0,448.2L652.5,446.9L652.0,447.9L651.5,449.3L651.0,447.5L650.5,444.5L650.0,445.3L649.5,448.2L649.0,449.2L648.5,446.5L648.0,446.6L647.5,447.6L647.0,448.1L646.5,447.9L646.0,447.0L645.5,445.6L645.0,446.5L644.5,450.4L644.0,450.2L643.5,448.5L643.0,447.3L642.5,445.7L642.0,446.5L641.5,447.5L641.0,447.9L640.5,445.7L640.0,444.1L639.5,444.1L639.0,442.8L638.5,444.9L638.0,444.2L637.5,439.9L637.0,437.2L636.5,435.4L636.0,434.2L635.5,430.9L635.0,427.4L634.5,425.2L634.0,425.0L633.5,425.3L633.0,424.6L632.5,425.0L632.0,424.4L631.5,425.5L631.0,428.4L630.5,429.5L630.0,430.5L629.5,430.7L629.0,432.6L628.5,434.4L628.0,435.0L627.5,433.9L627.0,431.7L626.5,431.6L626.0,432.9L625.5,432.5L625.0,429.1L624.5,425.0L624.0,421.6L623.5,417.3L623.0,412.9L622.5,408.8L622.0,408.0L621.5,405.3L621.0,399.9L620.5,397.3L620.0,394.4L619.5,391.4L619.0,389.6L618.5,389.0L618.0,389.6L617.5,387.4L617.0,380.7L616.5,380.0L616.0,381.9L615.5,379.4L615.0,377.5L614.5,374.0L614.0,371.0L613.5,360.4L613.0,353.6L612.5,354.1L612.0,344.5L611.5,340.6L611.0,330.5L610.5,318.9L610.0,309.2L609.5,300.6L609.0,288.9L608.5,282.0L608.0,275.0L607.5,265.3L607.0,257.5L606.5,253.6L606.0,252.6L605.5,252.2L605.0,250.0L604.5,248.5L604.0,247.5L603.5,243.9L603.0,244.6L602.5,248.2L602.0,253.7L601.5,259.9L601.0,264.3L600.5,268.6L600.0,273.8L599.5,280.1L599.0,285.9L598.5,283.9L598.0,291.2L597.5,297.2L597.0,303.7L596.5,307.3L596.0,311.4L595.5,312.5L595.0,316.6L594.5,322.0L594.0,323.9L593.5,326.3L593.0,329.1L592.5,334.8L592.0,340.3L591.5,344.5L591.0,349.7L590.5,353.7L590.0,358.6L589.5,359.1L589.0,356.0L588.5,351.4L588.0,347.4L587.5,343.4L587.0,338.9L586.5,335.2L586.0,330.4L585.5,324.9L585.0,321.2L584.5,316.6L584.0,308.9L583.5,305.4L583.0,300.1L582.5,291.5L582.0,282.9L581.5,274.2L581.0,269.5L580.5,266.0L580.0,270.1L579.5,271.6L579.0,275.1L578.5,282.0L578.0,287.0L577.5,292.5L577.0,298.6L576.5,304.9L576.0,319.1L575.5,333.6L575.0,342.7L574.5,352.3L574.0,350.6L573.5,348.7L573.0,347.4L572.5,346.8L572.0,342.7L571.5,338.5L571.0,336.0L570.5,333.0L570.0,330.5L569.5,328.9L569.0,325.8L568.5,321.9L568.0,319.6L567.5,316.9L567.0,315.4L566.5,315.0L566.0,318.2L565.5,320.9L565.0,323.7L564.5,324.3L564.0,323.4L563.5,324.3L563.0,331.3L562.5,336.4L562.0,342.4L561.5,345.7L561.0,352.2L560.5,358.1L560.0,361.7L559.5,368.7L559.0,378.5L558.5,382.8L558.0,384.5L557.5,386.9L557.0,388.7L556.5,387.5L556.0,388.5L555.5,389.9L555.0,390.3L554.5,391.2L554.0,388.4L553.5,386.6L553.0,380.5L552.5,379.9L552.0,383.5L551.5,381.0L551.0,381.9L550.5,383.7L550.0,381.7L549.5,382.1L549.0,383.8L548.5,384.7L548.0,384.8L547.5,386.2L547.0,388.2L546.5,389.5L546.0,389.2L545.5,389.7L545.0,385.7L544.5,395.7L544.0,397.6L543.5,398.5L543.0,400.5L542.5,400.6L542.0,402.5L541.5,405.4L541.0,404.8L540.5,406.2L540.0,406.8L539.5,403.1L539.0,396.0L538.5,399.0L538.0,395.6L537.5,394.9L537.0,394.7L536.5,391.1L536.0,390.3L535.5,391.2L535.0,391.7L534.5,392.9L534.0,394.7L533.5,396.1L533.0,399.7L532.5,398.4L532.0,399.8L531.5,407.0L531.0,406.1L530.5,403.3L530.0,405.7L529.5,407.1L529.0,412.9L528.5,409.3L528.0,411.9L527.5,417.5L527.0,418.5L526.5,417.6L526.0,415.3L525.5,412.0L525.0,413.8L524.5,413.9L524.0,419.0L523.5,420.0L523.0,417.5L522.5,419.9L522.0,422.6L521.5,423.1L521.0,423.6L520.5,424.2L520.0,424.2L519.5,427.3L519.0,427.3L518.5,427.9L518.0,426.0L517.5,425.8L517.0,429.0L516.5,430.5L516.0,431.2L515.5,431.0L515.0,430.7L514.5,432.4L514.0,434.0L513.5,433.7L513.0,432.9L512.5,433.1L512.0,433.5L511.5,433.1L511.0,428.9L510.5,426.5L510.0,429.2L509.5,428.7L509.0,426.5L508.5,425.6L508.0,424.1L507.5,424.5L507.0,423.8L506.5,421.2L506.0,421.4L505.5,422.5L505.0,421.9L504.5,419.2L504.0,418.2L503.5,417.5L503.0,415.7L502.5,416.5L502.0,416.6L501.5,416.3L501.0,416.2L500.5,414.9L500.0,408.6L499.5,404.9L499.0,402.6L498.5,398.1L498.0,396.8L497.5,397.2L497.0,396.7L496.5,392.7L496.0,392.9L495.5,394.4L495.0,394.0L494.5,392.6L494.0,395.7L493.5,403.2L493.0,407.2L492.5,409.6L492.0,413.1L491.5,415.5L491.0,416.3L490.5,417.2L490.0,419.3L489.5,422.1L489.0,424.7L488.5,424.6L488.0,427.2L487.5,425.3L487.0,418.5L486.5,420.6L486.0,427.0L485.5,425.4L485.0,425.9L484.5,424.7L484.0,423.9L483.5,424.9L483.0,425.1L482.5,426.1L482.0,426.9L481.5,426.6L481.0,423.5L480.5,422.1L480.0,424.6L479.5,423.7L479.0,422.6L478.5,423.6L478.0,423.8L477.5,423.4L477.0,423.0L476.5,418.8L476.0,418.6L475.5,421.6L475.0,423.1L474.5,422.4L474.0,423.3L473.5,422.0L473.0,419.5L472.5,422.1L472.0,426.0L471.5,425.2L471.0,423.5L470.5,424.1L470.0,424.9L469.5,425.0L469.0,424.9L468.5,426.6L468.0,426.8L467.5,425.3L467.0,427.1L466.5,426.1L466.0,424.0L465.5,425.6L465.0,427.3L464.5,427.8L464.0,428.1L463.5,426.2L463.0,425.9L462.5,426.4L462.0,425.1L461.5,427.1L461.0,426.3L460.5,424.9L460.0,426.2L459.5,426.8L459.0,427.4L458.5,426.5L458.0,427.3L457.5,428.8L457.0,426.8L456.5,427.4L456.0,428.1L455.5,429.2L455.0,429.4L454.5,429.4L454.0,429.9L453.5,430.5L453.0,431.4L452.5,433.1L452.0,432.8L451.5,431.1L451.0,432.4L450.5,433.2L450.0,434.8L449.5,435.8L449.0,436.8L448.5,439.0L448.0,448.0L447.5,455.7L447.0,451.4L446.5,450.6L446.0,459.5L445.5,463.0L445.0,463.4L444.5,465.4L444.0,467.0L443.5,466.9L443.0,465.1L442.5,463.4L442.0,462.9L441.5,464.2L441.0,464.7L440.5,464.0L440.0,464.5L439.5,463.2L439.0,461.6L438.5,463.1L438.0,463.0L437.5,463.1L437.0,464.4L436.5,461.7L436.0,460.8L435.5,461.0L435.0,459.2L434.5,460.6L434.0,460.5L433.5,457.1L433.0,458.1L432.5,461.5L432.0,460.7L431.5,459.1L431.0,459.4L430.5,459.7L430.0,460.3L429.5,460.4L429.0,460.0L428.5,458.5L428.0,458.1L427.5,456.8L427.0,460.2L426.5,454.0L426.0,454.6L425.5,455.0L425.0,461.4L424.5,460.7L424.0,462.9L423.5,464.8L423.0,463.8L422.5,464.0L422.0,465.9L421.5,463.9L421.0,464.4L420.5,466.2L420.0,467.0L419.5,467.6L419.0,468.1L418.5,468.4L418.0,469.4L417.5,471.5L417.0,471.9L416.5,471.4L416.0,471.3L415.5,471.1L415.0,471.5L414.5,471.0L414.0,470.9L413.5,470.8L413.0,468.5L412.5,467.6L412.0,468.2L411.5,469.0L411.0,468.2L410.5,466.5L410.0,466.0L409.5,467.4L409.0,466.2L408.5,462.6L408.0,462.8L407.5,464.6L407.0,464.8L406.5,460.1L406.0,457.6L405.5,452.6L405.0,452.3L404.5,454.1L404.0,452.0L403.5,452.2L403.0,451.5L402.5,450.0L402.0,450.7L401.5,454.4L401.0,453.9L400.5,455.8L400.0,459.8L399.5,461.2L399.0,462.2L398.5,464.3L398.0,464.5L397.5,461.4L397.0,460.7L396.5,460.2L396.0,457.9L395.5,458.0L395.0,459.2L394.5,458.3L394.0,458.5L393.5,457.2L393.0,456.1L392.5,456.4L392.0,455.4L391.5,455.1L391.0,454.8L390.5,454.5L390.0,454.4L389.5,450.3L389.0,452.2L388.5,450.0L388.0,450.5L387.5,450.3L387.0,448.3L386.5,444.8L386.0,444.6L385.5,445.3L385.0,442.5L384.5,439.7L384.0,440.1L383.5,439.4L383.0,440.4L382.5,442.9L382.0,445.0L381.5,443.4L381.0,442.4L380.5,443.3L380.0,445.4L379.5,448.0L379.0,448.1L378.5,447.4L378.0,448.3L377.5,449.9L377.0,450.2L376.5,451.8L376.0,451.8L375.5,450.7L375.0,451.0L374.5,450.8L374.0,451.6L373.5,451.2L373.0,450.2L372.5,449.7L372.0,450.2L371.5,451.5L371.0,452.3L370.5,451.4L370.0,450.3L369.5,450.3L369.0,450.4L368.5,448.5L368.0,447.5L367.5,447.8L367.0,448.0L366.5,446.7L366.0,446.0L365.5,446.7L365.0,447.1L364.5,447.5L364.0,445.6L363.5,446.0L363.0,447.9L362.5,447.9L362.0,447.7L361.5,447.5L361.0,448.3L360.5,450.5L360.0,451.8L359.5,449.5L359.0,449.0L358.5,449.0L358.0,449.0L357.5,450.3L357.0,449.4L356.5,449.3L356.0,452.4L355.5,449.3L355.0,446.6L354.5,443.5L354.0,442.2L353.5,440.2L353.0,438.5L352.5,432.7L352.0,423.8L351.5,416.4L351.0,413.3L350.5,411.0L350.0,408.8L349.5,407.7L349.0,402.4L348.5,404.1L348.0,410.2L347.5,408.9L347.0,411.6L346.5,415.9L346.0,423.0L345.5,428.0L345.0,432.4L344.5,437.7L344.0,441.3L343.5,443.7L343.0,447.5L342.5,450.6L342.0,447.7L341.5,448.8L341.0,449.6L340.5,443.8L340.0,446.1L339.5,446.4L339.0,445.7L338.5,444.9L338.0,441.4L337.5,438.2L337.0,437.3L336.5,434.7L336.0,432.1L335.5,430.7L335.0,430.1L334.5,427.8L334.0,421.9L333.5,418.9L333.0,417.4L332.5,413.5L332.0,409.7L331.5,400.6L331.0,392.6L330.5,391.5L330.0,388.5L329.5,385.7L329.0,383.1L328.5,381.6L328.0,382.2L327.5,382.1L327.0,380.9L326.5,373.9L326.0,375.5L325.5,381.8L325.0,382.2L324.5,375.2L324.0,379.0L323.5,379.2L323.0,378.3L322.5,375.7L322.0,375.0L321.5,372.0L321.0,369.1L320.5,366.5L320.0,366.2L319.5,362.9L319.0,363.1L318.5,360.7L318.0,350.5L317.5,339.2L317.0,330.4L316.5,322.9L316.0,315.1L315.5,308.7L315.0,293.3L314.5,283.6L314.0,273.7L313.5,266.3L313.0,252.9L312.5,240.7L312.0,232.3L311.5,221.7L311.0,212.4L310.5,201.4L310.0,193.1L309.5,191.6L309.0,191.4L308.5,187.0L308.0,197.0L307.5,206.5L307.0,221.8L306.5,241.0L306.0,250.0L305.5,258.7L305.0,268.4L304.5,273.6L304.0,273.3L303.5,283.1L303.0,297.4L302.5,304.8L302.0,318.3L301.5,332.2L301.0,342.2L300.5,352.5L300.0,363.2L299.5,371.2L299.0,378.3L298.5,383.6L298.0,385.9L297.5,389.4L297.0,389.2L296.5,396.3L296.0,396.2L295.5,393.6L295.0,394.4L294.5,396.3L294.0,393.0L293.5,392.4L293.0,391.5L292.5,392.0L292.0,391.2L291.5,387.2L291.0,387.1L290.5,389.0L290.0,390.4L289.5,393.3L289.0,394.5L288.5,394.9L288.0,397.3L287.5,398.1L287.0,398.7L286.5,401.0L286.0,401.7L285.5,402.2L285.0,402.9L284.5,404.1L284.0,404.3L283.5,405.2L283.0,409.0L282.5,408.2L282.0,409.1L281.5,411.1L281.0,412.1L280.5,411.4L280.0,409.8L279.5,411.0L279.0,412.2L278.5,409.1L278.0,405.2L277.5,403.3L277.0,402.2L276.5,397.8L276.0,395.2L275.5,392.3L275.0,386.2L274.5,376.2L274.0,370.7L273.5,366.3L273.0,366.0L272.5,361.3L272.0,356.9L271.5,346.5L271.0,334.8L270.5,321.8L270.0,316.4L269.5,307.9L269.0,300.8L268.5,293.4L268.0,286.2L267.5,277.4L267.0,268.8L266.5,261.1L266.0,253.2L265.5,246.3L265.0,237.5L264.5,226.5L264.0,213.5L263.5,203.4L263.0,195.4L262.5,192.2L262.0,190.3L261.5,187.8L261.0,186.8L260.5,187.2L260.0,199.6L259.5,210.7L259.0,221.3L258.5,232.4L258.0,242.4L257.5,246.8L257.0,253.4L256.5,257.5L256.0,255.0L255.5,260.2L255.0,263.6L254.5,274.0L254.0,278.3L253.5,284.4L253.0,288.9L252.5,294.1L252.0,299.9L251.5,303.7L251.0,308.6L250.5,315.8L250.0,320.5L249.5,324.4L249.0,329.5L248.5,338.0L248.0,348.5L247.5,359.3L247.0,366.7L246.5,373.7L246.0,381.2L245.5,388.3L245.0,390.6L244.5,393.0L244.0,394.8L243.5,396.9L243.0,395.6L242.5,396.8L242.0,397.2L241.5,395.9L241.0,395.2L240.5,393.6L240.0,391.0L239.5,390.8L239.0,391.2L238.5,390.4L238.0,389.0L237.5,387.5L237.0,387.1L236.5,387.2L236.0,388.8L235.5,386.9L235.0,387.4L234.5,389.2L234.0,390.5L233.5,389.1L233.0,394.5L232.5,392.3L232.0,392.7L231.5,394.8L231.0,396.1L230.5,392.2L230.0,391.5L229.5,387.2L229.0,379.5L228.5,379.8L228.0,380.4L227.5,373.4L227.0,369.8L226.5,370.2L226.0,368.4L225.5,367.5L225.0,366.2L224.5,362.5L224.0,360.6L223.5,362.4L223.0,363.2L222.5,362.2L222.0,362.7L221.5,360.7L221.0,358.4L220.5,357.7L220.0,357.4L219.5,356.5L219.0,352.3L218.5,353.6L218.0,356.2L217.5,357.2L217.0,358.8L216.5,360.4L216.0,360.3L215.5,359.8L215.0,361.0L214.5,360.0L214.0,356.8L213.5,366.3L213.0,369.5L212.5,369.1L212.0,373.1L211.5,377.7L211.0,382.6L210.5,383.3L210.0,384.8L209.5,386.9L209.0,388.7L208.5,392.6L208.0,396.4L207.5,398.4L207.0,403.8L206.5,409.2L206.0,411.0L205.5,411.2L205.0,412.1L204.5,415.3L204.0,418.4L203.5,417.0L203.0,416.7L202.5,418.1L202.0,418.4L201.5,418.6L201.0,419.1L200.5,417.8L200.0,419.2L199.5,422.3L199.0,422.8L198.5,423.8L198.0,420.1L197.5,424.7L197.0,424.6L196.5,424.7L196.0,424.2L195.5,425.4L195.0,424.5L194.5,426.3L194.0,428.1L193.5,427.8L193.0,427.7L192.5,428.4L192.0,427.3L191.5,426.7L191.0,432.0L190.5,431.7L190.0,429.7L189.5,430.9L189.0,431.5L188.5,432.7L188.0,433.8L187.5,432.4L187.0,435.1L186.5,437.4L186.0,436.4L185.5,437.6L185.0,436.8L184.5,436.2L184.0,436.2L183.5,434.7L183.0,434.3L182.5,435.4L182.0,433.9L181.5,430.2L181.0,430.0L180.5,430.2L180.0,429.7L179.5,429.7L179.0,431.5L178.5,431.2L178.0,428.1L177.5,427.7L177.0,428.4L176.5,427.1L176.0,426.0L175.5,425.2L175.0,421.3L174.5,421.7L174.0,422.7L173.5,421.5L173.0,419.9L172.5,417.3L172.0,416.9L171.5,417.1L171.0,418.1L170.5,418.6L170.0,422.4L169.5,430.1L169.0,436.4L168.5,445.4L168.0,448.4L167.5,449.1L167.0,441.9L166.5,448.1L166.0,449.3L165.5,450.0L165.0,451.3L164.5,453.0L164.0,454.3L163.5,455.4L163.0,456.5L162.5,458.0L162.0,459.7L161.5,461.2L161.0,462.8L160.5,465.5L160.0,468.1L159.5,468.6L159.0,469.4L158.5,471.9L158.0,471.5L157.5,471.4L157.0,470.9L156.5,469.4L156.0,472.4L155.5,472.9L155.0,471.4L154.5,468.8L154.0,466.4L153.5,465.6L153.0,465.3L152.5,462.4L152.0,457.5L151.5,450.7L151.0,443.4L150.5,437.2L150.0,431.7L149.5,426.9L149.0,424.3L148.5,422.1L148.0,419.3L147.5,416.6L147.0,415.0L146.5,413.3L146.0,409.1L145.5,405.2L145.0,401.5L144.5,400.6L144.0,401.5L143.5,401.9L143.0,401.2L142.5,404.9L142.0,407.5L141.5,406.0L141.0,400.7L140.5,396.0L140.0,388.4L139.5,379.0L139.0,365.8L138.5,361.6L138.0,354.7L137.5,354.7L137.0,350.2L136.5,337.4L136.0,326.5L135.5,313.6L135.0,299.3L134.5,286.1L134.0,267.5L133.5,235.4L133.0,213.0L132.5,192.9L132.0,178.7L131.5,165.3L131.0,159.0L130.5,154.5L130.0,150.4L129.5,148.7L129.0,145.3L128.5,145.4L128.0,145.0L127.5,150.1L127.0,149.2L126.5,147.6L126.0,154.8L125.5,168.7L125.0,180.4L124.5,180.6L124.0,178.3L123.5,174.4L123.0,171.8L122.5,171.9L122.0,174.3L121.5,178.5L121.0,186.8L120.5,190.5L120.0,211.0L119.5,231.5L119.0,349.8L118.5,352.7L118.0,355.6L117.5,357.5L117.0,359.4L116.5,361.8L116.0,364.8L115.5,365.9L115.0,363.8L114.5,363.4L114.0,363.8L113.5,360.3L113.0,342.6L112.5,321.7L112.0,303.0L111.5,303.0L111.0,299.0L110.5,293.5L110.0,291.3L109.5,290.0L109.0,288.4L108.5,288.3L108.0,287.5L107.5,279.2L107.0,272.1L106.5,265.8L106.0,259.0L105.5,254.2L105.0,254.4L104.5,254.4L104.0,252.8L103.5,252.5L103.0,255.2L102.5,260.8L102.0,262.6L101.5,274.9L101.0,288.1L100.5,300.4L100.0,353.8L99.5,359.3L99.0,364.3L98.5,370.4L98.0,367.4L97.5,369.7L97.0,376.7L96.5,380.2L96.0,384.0L95.5,380.8L95.0,379.8L94.5,380.1L94.0,378.2L93.5,376.1L93.0,373.1L92.5,369.3L92.0,362.1L91.5,355.1L91.0,354.4L90.5,350.4L90.0,342.5L89.5,326.7L89.0,316.0L88.5,314.5L88.0,307.2L87.5,307.1L87.0,303.5L86.5,299.0L86.0,292.6L85.5,289.3L85.0,289.8L84.5,290.7L84.0,291.9L83.5,329.2L83.0,349.8L82.5,354.4L82.0,355.9L81.5,357.8L81.0,364.5L80.5,368.7L80.0,371.8L79.5,375.5L79.0,379.5L78.5,388.2L78.0,399.3L77.5,409.2L77.0,415.1L76.5,417.5L76.0,420.5L75.5,424.7L75.0,430.2L74.5,433.1L74.0,432.5L73.5,434.4L73.0,437.0L72.5,437.1L72.0,435.4L71.5,435.1L71.0,437.5L70.5,437.3L70.0,434.7L69.5,432.7L69.0,432.4L68.5,434.1L68.0,433.5L67.5,431.5L67.0,428.4L66.5,425.7L66.0,424.8L65.5,422.7L65.0,420.7L64.5,418.9L64.0,416.8L63.5,413.5L63.0,411.9L62.5,411.8L62.0,411.3L61.5,410.1Z"/>
<path fill="#EE6445" d="M61.5,410.1L62.0,411.3L62.5,411.8L63.0,411.9L63.5,413.5L64.0,416.8L64.5,418.9L65.0,420.7L65.5,422.7L66.0,424.8L66.5,425.7L67.0,428.4L67.5,431.5L68.0,433.5L68.5,434.1L69.0,432.4L69.5,432.7L70.0,434.7L70.5,437.3L71.0,437.5L71.5,435.1L72.0,435.4L72.5,437.1L73.0,437.0L73.5,434.4L74.0,432.5L74.5,433.1L75.0,430.2L75.5,424.7L76.0,420.5L76.5,417.5L77.0,415.1L77.5,409.2L78.0,399.3L78.5,388.2L79.0,379.5L79.5,375.5L80.0,371.8L80.5,368.7L81.0,364.5L81.5,357.8L82.0,355.9L82.5,354.4L83.0,349.8L83.5,329.2L84.0,291.9L84.5,290.7L85.0,289.8L85.5,289.3L86.0,292.6L86.5,299.0L87.0,303.5L87.5,307.1L88.0,307.2L88.5,314.5L89.0,316.0L89.5,326.7L90.0,342.5L90.5,350.4L91.0,354.4L91.5,355.1L92.0,362.1L92.5,369.3L93.0,373.1L93.5,376.1L94.0,378.2L94.5,380.1L95.0,379.8L95.5,380.8L96.0,384.0L96.5,380.2L97.0,376.7L97.5,369.7L98.0,367.4L98.5,370.4L99.0,364.3L99.5,359.3L100.0,353.8L100.5,300.4L101.0,288.1L101.5,274.9L102.0,262.6L102.5,260.8L103.0,255.2L103.5,252.5L104.0,252.8L104.5,254.4L105.0,254.4L105.5,254.2L106.0,259.0L106.5,265.8L107.0,272.1L107.5,279.2L108.0,287.5L108.5,288.3L109.0,288.4L109.5,290.0L110.0,291.3L110.5,293.5L111.0,299.0L111.5,303.0L112.0,303.0L112.5,321.7L113.0,342.6L113.5,360.3L114.0,363.8L114.5,363.4L115.0,363.8L115.5,365.9L116.0,364.8L116.5,361.8L117.0,359.4L117.5,357.5L118.0,355.6L118.5,352.7L119.0,349.8L119.5,231.5L120.0,211.0L120.5,190.5L121.0,186.8L121.5,178.5L122.0,174.3L122.5,171.9L123.0,171.8L123.5,174.4L124.0,178.3L124.5,180.6L125.0,180.4L125.5,168.7L126.0,154.8L126.5,147.6L127.0,149.2L127.5,150.1L128.0,145.0L128.5,145.4L129.0,145.3L129.5,148.7L130.0,150.4L130.5,154.5L131.0,159.0L131.5,165.3L132.0,178.7L132.5,192.9L133.0,213.0L133.5,235.4L134.0,267.5L134.5,286.1L135.0,299.3L135.5,313.6L136.0,326.5L136.5,337.4L137.0,350.2L137.5,354.7L138.0,354.7L138.5,361.6L139.0,365.8L139.5,379.0L140.0,388.4L140.5,396.0L141.0,400.7L141.5,406.0L142.0,407.5L142.5,404.9L143.0,401.2L143.5,401.9L144.0,401.5L144.5,400.6L145.0,401.5L145.5,405.2L146.0,409.1L146.5,413.3L147.0,415.0L147.5,416.6L148.0,419.3L148.5,422.1L149.0,424.3L149.5,426.9L150.0,431.7L150.5,437.2L151.0,443.4L151.5,450.7L152.0,457.5L152.5,462.4L153.0,465.3L153.5,465.6L154.0,466.4L154.5,468.8L155.0,471.4L155.5,472.9L156.0,472.4L156.5,469.4L157.0,470.9L157.5,471.4L158.0,471.5L158.5,471.9L159.0,469.4L159.5,468.6L160.0,468.1L160.5,465.5L161.0,462.8L161.5,461.2L162.0,459.7L162.5,458.0L163.0,456.5L163.5,455.4L164.0,454.3L164.5,453.0L165.0,451.3L165.5,450.0L166.0,449.3L166.5,448.1L167.0,441.9L167.5,449.1L168.0,448.4L168.5,445.4L169.0,436.4L169.5,430.1L170.0,422.4L170.5,418.6L171.0,418.1L171.5,417.1L172.0,416.9L172.5,417.3L173.0,419.9L173.5,421.5L174.0,422.7L174.5,421.7L175.0,421.3L175.5,425.2L176.0,426.0L176.5,427.1L177.0,428.4L177.5,427.7L178.0,428.1L178.5,431.2L179.0,431.5L179.5,429.7L180.0,429.7L180.5,430.2L181.0,430.0L181.5,430.2L182.0,433.9L182.5,435.4L183.0,434.3L183.5,434.7L184.0,436.2L184.5,436.2L185.0,436.8L185.5,437.6L186.0,436.4L186.5,437.4L187.0,435.1L187.5,432.4L188.0,433.8L188.5,432.7L189.0,431.5L189.5,430.9L190.0,429.7L190.5,431.7L191.0,432.0L191.5,426.7L192.0,427.3L192.5,428.4L193.0,427.7L193.5,427.8L194.0,428.1L194.5,426.3L195.0,424.5L195.5,425.4L196.0,424.2L196.5,424.7L197.0,424.6L197.5,424.7L198.0,420.1L198.5,423.8L199.0,422.8L199.5,422.3L200.0,419.2L200.5,417.8L201.0,419.1L201.5,418.6L202.0,418.4L202.5,418.1L203.0,416.7L203.5,417.0L204.0,418.4L204.5,415.3L205.0,412.1L205.5,411.2L206.0,411.0L206.5,409.2L207.0,403.8L207.5,398.4L208.0,396.4L208.5,392.6L209.0,388.7L209.5,386.9L210.0,384.8L210.5,383.3L211.0,382.6L211.5,377.7L212.0,373.1L212.5,369.1L213.0,369.5L213.5,366.3L214.0,356.8L214.5,360.0L215.0,361.0L215.5,359.8L216.0,360.3L216.5,360.4L217.0,358.8L217.5,357.2L218.0,356.2L218.5,353.6L219.0,352.3L219.5,356.5L220.0,357.4L220.5,357.7L221.0,358.4L221.5,360.7L222.0,362.7L222.5,362.2L223.0,363.2L223.5,362.4L224.0,360.6L224.5,362.5L225.0,366.2L225.5,367.5L226.0,368.4L226.5,370.2L227.0,369.8L227.5,373.4L228.0,380.4L228.5,379.8L229.0,379.5L229.5,387.2L230.0,391.5L230.5,392.2L231.0,396.1L231.5,394.8L232.0,392.7L232.5,392.3L233.0,394.5L233.5,389.1L234.0,390.5L234.5,389.2L235.0,387.4L235.5,386.9L236.0,388.8L236.5,387.2L237.0,387.1L237.5,387.5L238.0,389.0L238.5,390.4L239.0,391.2L239.5,390.8L240.0,391.0L240.5,393.6L241.0,395.2L241.5,395.9L242.0,397.2L242.5,396.8L243.0,395.6L243.5,396.9L244.0,394.8L244.5,393.0L245.0,390.6L245.5,388.3L246.0,381.2L246.5,373.7L247.0,366.7L247.5,359.3L248.0,348.5L248.5,338.0L249.0,329.5L249.5,324.4L250.0,320.5L250.5,315.8L251.0,308.6L251.5,303.7L252.0,299.9L252.5,294.1L253.0,288.9L253.5,284.4L254.0,278.3L254.5,274.0L255.0,263.6L255.5,260.2L256.0,255.0L256.5,257.5L257.0,253.4L257.5,246.8L258.0,242.4L258.5,232.4L259.0,221.3L259.5,210.7L260.0,199.6L260.5,187.2L261.0,186.8L261.5,187.8L262.0,190.3L262.5,192.2L263.0,195.4L263.5,203.4L264.0,213.5L264.5,226.5L265.0,237.5L265.5,246.3L266.0,253.2L266.5,261.1L267.0,268.8L267.5,277.4L268.0,286.2L268.5,293.4L269.0,300.8L269.5,307.9L270.0,316.4L270.5,321.8L271.0,334.8L271.5,346.5L272.0,356.9L272.5,361.3L273.0,366.0L273.5,366.3L274.0,370.7L274.5,376.2L275.0,386.2L275.5,392.3L276.0,395.2L276.5,397.8L277.0,402.2L277.5,403.3L278.0,405.2L278.5,409.1L279.0,412.2L279.5,411.0L280.0,409.8L280.5,411.4L281.0,412.1L281.5,411.1L282.0,409.1L282.5,408.2L283.0,409.0L283.5,405.2L284.0,404.3L284.5,404.1L285.0,402.9L285.5,402.2L286.0,401.7L286.5,401.0L287.0,398.7L287.5,398.1L288.0,397.3L288.5,394.9L289.0,394.5L289.5,393.3L290.0,390.4L290.5,389.0L291.0,387.1L291.5,387.2L292.0,391.2L292.5,392.0L293.0,391.5L293.5,392.4L294.0,393.0L294.5,396.3L295.0,394.4L295.5,393.6L296.0,396.2L296.5,396.3L297.0,389.2L297.5,389.4L298.0,385.9L298.5,383.6L299.0,378.3L299.5,371.2L300.0,363.2L300.5,352.5L301.0,342.2L301.5,332.2L302.0,318.3L302.5,304.8L303.0,297.4L303.5,283.1L304.0,273.3L304.5,273.6L305.0,268.4L305.5,258.7L306.0,250.0L306.5,241.0L307.0,221.8L307.5,206.5L308.0,197.0L308.5,187.0L309.0,191.4L309.5,191.6L310.0,193.1L310.5,201.4L311.0,212.4L311.5,221.7L312.0,232.3L312.5,240.7L313.0,252.9L313.5,266.3L314.0,273.7L314.5,283.6L315.0,293.3L315.5,308.7L316.0,315.1L316.5,322.9L317.0,330.4L317.5,339.2L318.0,350.5L318.5,360.7L319.0,363.1L319.5,362.9L320.0,366.2L320.5,366.5L321.0,369.1L321.5,372.0L322.0,375.0L322.5,375.7L323.0,378.3L323.5,379.2L324.0,379.0L324.5,375.2L325.0,382.2L325.5,381.8L326.0,375.5L326.5,373.9L327.0,380.9L327.5,382.1L328.0,382.2L328.5,381.6L329.0,383.1L329.5,385.7L330.0,388.5L330.5,391.5L331.0,392.6L331.5,400.6L332.0,409.7L332.5,413.5L333.0,417.4L333.5,418.9L334.0,421.9L334.5,427.8L335.0,430.1L335.5,430.7L336.0,432.1L336.5,434.7L337.0,437.3L337.5,438.2L338.0,441.4L338.5,444.9L339.0,445.7L339.5,446.4L340.0,446.1L340.5,443.8L341.0,449.6L341.5,448.8L342.0,447.7L342.5,450.6L343.0,447.5L343.5,443.7L344.0,441.3L344.5,437.7L345.0,432.4L345.5,428.0L346.0,423.0L346.5,415.9L347.0,411.6L347.5,408.9L348.0,410.2L348.5,404.1L349.0,402.4L349.5,407.7L350.0,408.8L350.5,411.0L351.0,413.3L351.5,416.4L352.0,423.8L352.5,432.7L353.0,438.5L353.5,440.2L354.0,442.2L354.5,443.5L355.0,446.6L355.5,449.3L356.0,452.4L356.5,449.3L357.0,449.4L357.5,450.3L358.0,449.0L358.5,449.0L359.0,449.0L359.5,449.5L360.0,451.8L360.5,450.5L361.0,448.3L361.5,447.5L362.0,447.7L362.5,447.9L363.0,447.9L363.5,446.0L364.0,445.6L364.5,447.5L365.0,447.1L365.5,446.7L366.0,446.0L366.5,446.7L367.0,448.0L367.5,447.8L368.0,447.5L368.5,448.5L369.0,450.4L369.5,450.3L370.0,450.3L370.5,451.4L371.0,452.3L371.5,451.5L372.0,450.2L372.5,449.7L373.0,450.2L373.5,451.2L374.0,451.6L374.5,450.8L375.0,451.0L375.5,450.7L376.0,451.8L376.5,451.8L377.0,450.2L377.5,449.9L378.0,448.3L378.5,447.4L379.0,448.1L379.5,448.0L380.0,445.4L380.5,443.3L381.0,442.4L381.5,443.4L382.0,445.0L382.5,442.9L383.0,440.4L383.5,439.4L384.0,440.1L384.5,439.7L385.0,442.5L385.5,445.3L386.0,444.6L386.5,444.8L387.0,448.3L387.5,450.3L388.0,450.5L388.5,450.0L389.0,452.2L389.5,450.3L390.0,454.4L390.5,454.5L391.0,454.8L391.5,455.1L392.0,455.4L392.5,456.4L393.0,456.1L393.5,457.2L394.0,458.5L394.5,458.3L395.0,459.2L395.5,458.0L396.0,457.9L396.5,460.2L397.0,460.7L397.5,461.4L398.0,464.5L398.5,464.3L399.0,462.2L399.5,461.2L400.0,459.8L400.5,455.8L401.0,453.9L401.5,454.4L402.0,450.7L402.5,450.0L403.0,451.5L403.5,452.2L404.0,452.0L404.5,454.1L405.0,452.3L405.5,452.6L406.0,457.6L406.5,460.1L407.0,464.8L407.5,464.6L408.0,462.8L408.5,462.6L409.0,466.2L409.5,467.4L410.0,466.0L410.5,466.5L411.0,468.2L411.5,469.0L412.0,468.2L412.5,467.6L413.0,468.5L413.5,470.8L414.0,470.9L414.5,471.0L415.0,471.5L415.5,471.1L416.0,471.3L416.5,471.4L417.0,471.9L417.5,471.5L418.0,469.4L418.5,468.4L419.0,468.1L419.5,467.6L420.0,467.0L420.5,466.2L421.0,464.4L421.5,463.9L422.0,465.9L422.5,464.0L423.0,463.8L423.5,464.8L424.0,462.9L424.5,460.7L425.0,461.4L425.5,455.0L426.0,454.6L426.5,454.0L427.0,460.2L427.5,456.8L428.0,458.1L428.5,458.5L429.0,460.0L429.5,460.4L430.0,460.3L430.5,459.7L431.0,459.4L431.5,459.1L432.0,460.7L432.5,461.5L433.0,458.1L433.5,457.1L434.0,460.5L434.5,460.6L435.0,459.2L435.5,461.0L436.0,460.8L436.5,461.7L437.0,464.4L437.5,463.1L438.0,463.0L438.5,463.1L439.0,461.6L439.5,463.2L440.0,464.5L440.5,464.0L441.0,464.7L441.5,464.2L442.0,462.9L442.5,463.4L443.0,465.1L443.5,466.9L444.0,467.0L444.5,465.4L445.0,463.4L445.5,463.0L446.0,459.5L446.5,450.6L447.0,451.4L447.5,455.7L448.0,448.0L448.5,439.0L449.0,436.8L449.5,435.8L450.0,434.8L450.5,433.2L451.0,432.4L451.5,431.1L452.0,432.8L452.5,433.1L453.0,431.4L453.5,430.5L454.0,429.9L454.5,429.4L455.0,429.4L455.5,429.2L456.0,428.1L456.5,427.4L457.0,426.8L457.5,428.8L458.0,427.3L458.5,426.5L459.0,427.4L459.5,426.8L460.0,426.2L460.5,424.9L461.0,426.3L461.5,427.1L462.0,425.1L462.5,426.4L463.0,425.9L463.5,426.2L464.0,428.1L464.5,427.8L465.0,427.3L465.5,425.6L466.0,424.0L466.5,426.1L467.0,427.1L467.5,425.3L468.0,426.8L468.5,426.6L469.0,424.9L469.5,425.0L470.0,424.9L470.5,424.1L471.0,423.5L471.5,425.2L472.0,426.0L472.5,422.1L473.0,419.5L473.5,422.0L474.0,423.3L474.5,422.4L475.0,423.1L475.5,421.6L476.0,418.6L476.5,418.8L477.0,423.0L477.5,423.4L478.0,423.8L478.5,423.6L479.0,422.6L479.5,423.7L480.0,424.6L480.5,422.1L481.0,423.5L481.5,426.6L482.0,426.9L482.5,426.1L483.0,425.1L483.5,424.9L484.0,423.9L484.5,424.7L485.0,425.9L485.5,425.4L486.0,427.0L486.5,420.6L487.0,418.5L487.5,425.3L488.0,427.2L488.5,424.6L489.0,424.7L489.5,422.1L490.0,419.3L490.5,417.2L491.0,416.3L491.5,415.5L492.0,413.1L492.5,409.6L493.0,407.2L493.5,403.2L494.0,395.7L494.5,392.6L495.0,394.0L495.5,394.4L496.0,392.9L496.5,392.7L497.0,396.7L497.5,397.2L498.0,396.8L498.5,398.1L499.0,402.6L499.5,404.9L500.0,408.6L500.5,414.9L501.0,416.2L501.5,416.3L502.0,416.6L502.5,416.5L503.0,415.7L503.5,417.5L504.0,418.2L504.5,419.2L505.0,421.9L505.5,422.5L506.0,421.4L506.5,421.2L507.0,423.8L507.5,424.5L508.0,424.1L508.5,425.6L509.0,426.5L509.5,428.7L510.0,429.2L510.5,426.5L511.0,428.9L511.5,433.1L512.0,433.5L512.5,433.1L513.0,432.9L513.5,433.7L514.0,434.0L514.5,432.4L515.0,430.7L515.5,431.0L516.0,431.2L516.5,430.5L517.0,429.0L517.5,425.8L518.0,426.0L518.5,427.9L519.0,427.3L519.5,427.3L520.0,424.2L520.5,424.2L521.0,423.6L521.5,423.1L522.0,422.6L522.5,419.9L523.0,417.5L523.5,420.0L524.0,419.0L524.5,413.9L525.0,413.8L525.5,412.0L526.0,415.3L526.5,417.6L527.0,418.5L527.5,417.5L528.0,411.9L528.5,409.3L529.0,412.9L529.5,407.1L530.0,405.7L530.5,403.3L531.0,406.1L531.5,407.0L532.0,399.8L532.5,398.4L533.0,399.7L533.5,396.1L534.0,394.7L534.5,392.9L535.0,391.7L535.5,391.2L536.0,390.3L536.5,391.1L537.0,394.7L537.5,394.9L538.0,395.6L538.5,399.0L539.0,396.0L539.5,403.1L540.0,406.8L540.5,406.2L541.0,404.8L541.5,405.4L542.0,402.5L542.5,400.6L543.0,400.5L543.5,398.5L544.0,397.6L544.5,395.7L545.0,385.7L545.5,389.7L546.0,389.2L546.5,389.5L547.0,388.2L547.5,386.2L548.0,384.8L548.5,384.7L549.0,383.8L549.5,382.1L550.0,381.7L550.5,383.7L551.0,381.9L551.5,381.0L552.0,383.5L552.5,379.9L553.0,380.5L553.5,386.6L554.0,388.4L554.5,391.2L555.0,390.3L555.5,389.9L556.0,388.5L556.5,387.5L557.0,388.7L557.5,386.9L558.0,384.5L558.5,382.8L559.0,378.5L559.5,368.7L560.0,361.7L560.5,358.1L561.0,352.2L561.5,345.7L562.0,342.4L562.5,336.4L563.0,331.3L563.5,324.3L564.0,323.4L564.5,324.3L565.0,323.7L565.5,320.9L566.0,318.2L566.5,315.0L567.0,315.4L567.5,316.9L568.0,319.6L568.5,321.9L569.0,325.8L569.5,328.9L570.0,330.5L570.5,333.0L571.0,336.0L571.5,338.5L572.0,342.7L572.5,346.8L573.0,347.4L573.5,348.7L574.0,350.6L574.5,352.3L575.0,342.7L575.5,333.6L576.0,319.1L576.5,304.9L577.0,298.6L577.5,292.5L578.0,287.0L578.5,282.0L579.0,275.1L579.5,271.6L580.0,270.1L580.5,266.0L581.0,269.5L581.5,274.2L582.0,282.9L582.5,291.5L583.0,300.1L583.5,305.4L584.0,308.9L584.5,316.6L585.0,321.2L585.5,324.9L586.0,330.4L586.5,335.2L587.0,338.9L587.5,343.4L588.0,347.4L588.5,351.4L589.0,356.0L589.5,359.1L590.0,358.6L590.5,353.7L591.0,349.7L591.5,344.5L592.0,340.3L592.5,334.8L593.0,329.1L593.5,326.3L594.0,323.9L594.5,322.0L595.0,316.6L595.5,312.5L596.0,311.4L596.5,307.3L597.0,303.7L597.5,297.2L598.0,291.2L598.5,283.9L599.0,285.9L599.5,280.1L600.0,273.8L600.5,268.6L601.0,264.3L601.5,259.9L602.0,253.7L602.5,248.2L603.0,244.6L603.5,243.9L604.0,247.5L604.5,248.5L605.0,250.0L605.5,252.2L606.0,252.6L606.5,253.6L607.0,257.5L607.5,265.3L608.0,275.0L608.5,282.0L609.0,288.9L609.5,300.6L610.0,309.2L610.5,318.9L611.0,330.5L611.5,340.6L612.0,344.5L612.5,354.1L613.0,353.6L613.5,360.4L614.0,371.0L614.5,374.0L615.0,377.5L615.5,379.4L616.0,381.9L616.5,380.0L617.0,380.7L617.5,387.4L618.0,389.6L618.5,389.0L619.0,389.6L619.5,391.4L620.0,394.4L620.5,397.3L621.0,399.9L621.5,405.3L622.0,408.0L622.5,408.8L623.0,412.9L623.5,417.3L624.0,421.6L624.5,425.0L625.0,429.1L625.5,432.5L626.0,432.9L626.5,431.6L627.0,431.7L627.5,433.9L628.0,435.0L628.5,434.4L629.0,432.6L629.5,430.7L630.0,430.5L630.5,429.5L631.0,428.4L631.5,425.5L632.0,424.4L632.5,425.0L633.0,424.6L633.5,425.3L634.0,425.0L634.5,425.2L635.0,427.4L635.5,430.9L636.0,434.2L636.5,435.4L637.0,437.2L637.5,439.9L638.0,444.2L638.5,444.9L639.0,442.8L639.5,444.1L640.0,444.1L640.5,445.7L641.0,447.9L641.5,447.5L642.0,446.5L642.5,445.7L643.0,447.3L643.5,448.5L644.0,450.2L644.5,450.4L645.0,446.5L645.5,445.6L646.0,447.0L646.5,447.9L647.0,448.1L647.5,447.6L648.0,446.6L648.5,446.5L649.0,449.2L649.5,448.2L650.0,445.3L650.5,444.5L651.0,447.5L651.5,449.3L652.0,447.9L652.5,446.9L653.0,448.2L653.5,449.3L654.0,448.4L654.5,447.8L655.0,447.8L655.5,448.1L656.0,448.8L656.5,450.2L657.0,448.1L657.5,445.8L658.0,447.4L658.5,448.7L659.0,445.9L659.5,446.9L660.0,447.8L660.5,448.0L661.0,447.9L661.5,448.2L662.0,449.4L662.5,450.1L663.0,449.8L663.5,449.4L664.0,448.3L664.5,447.7L665.0,448.8L665.5,449.3L666.0,449.3L666.5,449.3L667.0,448.0L667.5,448.7L668.0,447.2L668.5,445.7L669.0,446.1L669.5,448.1L670.0,445.7L670.5,445.7L671.0,446.1L671.5,447.6L672.0,448.5L672.5,447.8L673.0,446.1L673.5,444.9L674.0,439.4L674.5,436.3L675.0,436.0L675.5,440.6L676.0,441.4L676.5,444.4L677.0,448.9L677.5,450.7L678.0,454.7L678.5,457.6L679.0,459.9L679.5,462.0L680.0,460.5L680.5,460.9L681.0,461.6L681.5,462.2L682.0,464.8L682.5,467.1L683.0,467.9L683.5,465.4L684.0,464.8L684.5,467.7L685.0,467.4L685.5,467.8L686.0,468.6L686.5,466.9L687.0,466.7L687.5,466.2L688.0,467.8L688.5,466.7L689.0,465.7L689.5,466.2L690.0,465.5L690.5,464.3L691.0,463.0L691.5,464.7L692.0,463.4L692.5,462.0L693.0,464.1L693.5,463.5L694.0,463.4L694.5,459.6L695.0,458.3L695.5,459.6L696.0,459.2L696.5,459.7L697.0,460.0L697.5,458.9L698.0,458.7L698.5,457.6L699.0,457.2L699.5,457.8L700.0,452.5L700.5,450.2L701.0,451.0L701.5,450.1L702.0,450.1L702.5,449.0L703.0,453.7L703.5,469.8L704.0,465.3L704.5,460.5L705.0,438.3L705.5,429.0L706.0,425.4L706.5,425.6L707.0,421.5L707.5,418.5L708.0,420.5L708.5,418.9L709.0,415.6L709.5,416.3L710.0,414.2L710.5,410.3L711.0,410.0L711.5,410.8L712.0,411.5L712.5,410.2L713.0,410.5L713.5,409.6L714.0,406.9L714.5,405.9L715.0,406.1L715.5,405.5L716.0,403.3L716.5,403.8L717.0,404.3L717.5,402.7L718.0,399.6L718.5,390.4L719.0,398.6L719.5,400.6L720.0,401.6L720.5,402.9L721.0,405.1L721.5,405.9L722.0,407.0L722.5,409.1L723.0,405.3L723.5,407.3L724.0,407.3L724.5,416.2L725.0,416.4L725.5,418.0L726.0,419.0L726.5,420.7L727.0,423.6L727.5,426.0L728.0,428.5L728.5,428.6L729.0,429.2L729.5,429.9L730.0,432.0L730.5,433.3L731.0,433.3L731.5,434.6L732.0,436.6L732.5,439.2L733.0,438.4L733.5,438.9L734.0,440.5L734.5,440.5L735.0,440.4L735.5,439.0L736.0,440.3L736.5,443.1L737.0,441.9L737.5,439.7L738.0,440.3L738.5,439.8L739.0,437.7L739.5,435.8L740.0,436.5L740.5,437.5L741.0,436.1L741.5,435.6L742.0,435.9L742.5,435.7L743.0,435.5L743.5,435.2L744.0,436.2L744.5,437.6L745.0,440.2L745.5,441.4L746.0,442.2L746.5,442.6L747.0,443.8L747.5,442.8L748.0,441.2L748.5,443.9L749.0,443.8L749.5,444.8L750.0,446.8L750.5,445.8L751.0,445.9L751.5,445.7L752.0,445.1L752.5,446.3L753.0,445.5L753.5,446.2L754.0,446.5L754.5,446.0L755.0,445.9L755.5,444.8L756.0,443.7L756.5,442.7L757.0,442.6L757.5,442.5L758.0,443.6L758.5,440.5L759.0,436.9L759.5,435.3L760.0,433.8L760.5,431.0L761.0,427.6L761.5,424.9L762.0,423.3L762.5,423.7L763.0,422.9L763.5,422.2L764.0,418.5L764.5,418.6L765.0,419.3L765.5,426.0L766.0,428.8L766.5,430.4L767.0,432.1L767.5,432.5L768.0,431.1L768.5,434.8L769.0,434.3L769.5,433.6L770.0,435.9L770.5,438.7L771.0,440.1L771.5,440.3L772.0,440.2L772.5,439.9L773.0,439.3L773.5,439.0L774.0,440.7L774.5,445.3L775.0,447.6L775.5,443.8L776.0,440.9L776.5,440.9L777.0,438.0L777.5,433.3L778.0,433.3L778.5,433.6L779.0,431.1L779.5,431.8L780.0,431.5L780.5,430.5L781.0,432.5L781.5,432.6L782.0,431.5L782.5,433.3L783.0,435.1L783.5,436.1L784.0,437.4L784.5,437.0L785.0,435.6L785.5,435.7L786.0,438.8L786.5,439.8L787.0,440.9L787.5,441.8L788.0,441.1L788.5,441.9L789.0,442.0L789.5,443.6L790.0,444.4L790.5,442.7L791.0,444.8L791.5,444.9L792.0,443.0L792.5,442.2L793.0,443.7L793.5,445.6L794.0,443.9L794.5,441.7L795.0,438.4L795.5,436.5L796.0,436.0L796.5,432.7L797.0,432.6L797.5,431.0L798.0,427.1L798.5,427.1L799.0,423.3L799.5,419.9L800.0,419.5L800.5,421.8L801.0,421.6L801.5,422.8L802.0,426.7L802.5,427.4L803.0,428.6L803.5,430.2L804.0,431.0L804.5,430.9L805.0,431.3L805.5,430.3L806.0,429.8L806.5,431.1L807.0,431.7L807.5,431.6L808.0,431.4L808.5,430.9L809.0,431.0L809.5,431.8L810.0,429.7L810.5,427.1L811.0,421.5L811.5,416.6L812.0,413.6L812.5,410.5L813.0,403.4L813.5,400.6L814.0,398.0L814.5,391.1L815.0,388.4L815.5,388.0L816.0,385.3L816.5,382.9L817.0,383.5L817.5,383.3L818.0,381.8L818.5,382.1L819.0,381.9L819.5,380.6L820.0,377.6L820.5,375.8L821.0,372.0L821.5,368.9L822.0,368.2L822.5,364.5L823.0,358.4L823.5,352.6L824.0,348.1L824.5,341.6L825.0,331.1L825.5,325.8L826.0,322.9L826.5,312.6L827.0,305.7L827.5,298.2L828.0,297.3L828.5,300.6L829.0,305.3L829.5,309.8L830.0,315.4L830.5,317.2L831.0,321.0L831.5,329.2L832.0,337.7L832.5,342.9L833.0,347.4L833.5,349.3L834.0,346.6L834.5,346.5L835.0,340.4L835.5,338.1L836.0,333.6L836.5,329.8L837.0,329.0L837.5,326.2L838.0,328.0L838.5,331.9L839.0,332.8L839.5,335.1L840.0,342.7L840.5,345.4L841.0,342.6L841.5,347.5L842.0,355.5L842.5,356.2L843.0,357.3L843.5,360.0L844.0,360.9L844.5,362.3L845.0,363.8L845.5,365.4L846.0,364.7L846.5,361.4L847.0,364.1L847.5,369.1L848.0,370.0L848.5,372.2L849.0,373.7L849.5,374.3L850.0,375.9L850.5,377.2L851.0,377.5L851.5,379.0L852.0,381.1L852.5,383.6L853.0,387.7L853.5,390.8L854.0,394.4L854.5,397.1L855.0,398.4L855.5,401.5L856.0,405.3L856.5,409.7L857.0,415.7L857.5,418.7L858.0,421.5L858.5,425.2L859.0,428.0L859.5,430.2L860.0,432.6L860.5,434.8L861.0,435.5L861.5,435.1L862.0,435.8L862.5,438.9L863.0,438.0L863.5,438.9L864.0,440.1L864.5,440.7L865.0,440.8L865.5,439.7L866.0,439.2L866.5,435.3L867.0,434.9L867.5,438.2L868.0,435.2L868.5,433.7L869.0,433.7L869.5,431.6L870.0,429.7L870.5,430.3L871.0,429.9L871.5,430.4L872.0,433.2L872.5,433.7L873.0,432.2L873.5,433.5L874.0,434.0L874.5,433.2L875.0,437.5L875.5,437.4L876.0,435.1L876.5,434.7L877.0,434.1L877.5,435.0L878.0,432.7L878.5,431.8L879.0,433.9L879.5,432.3L880.0,431.6L880.5,428.4L881.0,426.8L881.5,425.5L882.0,419.6L882.5,416.3L883.0,419.8L883.5,415.5L884.0,411.5L884.5,409.8L885.0,405.1L885.5,398.8L886.0,397.6L886.5,398.2L887.0,396.2L887.5,393.7L888.0,391.1L888.5,391.3L889.0,390.6L889.5,388.1L890.0,389.6L890.5,393.4L891.0,394.4L891.5,393.1L892.0,395.9L892.5,401.6L893.0,404.6L893.5,400.0L894.0,398.8L894.5,409.6L895.0,413.0L895.5,414.0L896.0,415.7L896.5,418.3L897.0,420.2L897.5,420.2L898.0,421.9L898.5,422.8L899.0,424.2L899.5,426.5L900.0,425.9L900.5,426.3L901.0,428.3L901.5,429.4L902.0,432.1L902.5,435.7L903.0,436.3L903.5,434.8L904.0,433.7L904.5,436.2L905.0,438.1L905.5,438.1L906.0,437.9L906.5,435.4L907.0,437.6L907.5,439.9L908.0,436.5L908.5,435.6L909.0,437.4L909.5,437.6L910.0,435.6L910.5,435.4L911.0,434.9L911.5,435.4L912.0,432.7L912.5,431.2L913.0,432.1L913.5,430.6L914.0,429.9L914.5,430.6L915.0,431.0L915.5,431.2L916.0,433.8L916.5,434.7L917.0,434.9L917.5,436.7L918.0,438.1L918.5,438.5L919.0,439.5L919.5,440.0L920.0,441.7L920.5,442.5L921.0,441.3L921.5,443.3L922.0,444.2L922.5,443.7L923.0,445.3L923.5,447.4L924.0,447.8L924.5,447.5L925.0,447.7L925.5,447.7L926.0,446.1L926.5,445.3L927.0,446.9L927.5,445.8L928.0,445.0L928.5,441.3L929.0,441.9L929.5,445.8L930.0,446.1L930.5,447.4L931.0,446.5L931.5,448.1L932.0,451.2L932.5,452.1L933.0,447.6L933.5,450.9L934.0,459.1L934.5,458.3L935.0,457.6L935.5,458.7L936.0,459.6L936.5,459.6L937.0,458.3L937.5,460.2L938.0,461.2L938.5,461.3L939.0,462.0L939.5,461.9L940.0,464.1L940.5,466.6L941.0,466.1L941.5,464.9L942.0,465.8L942.5,466.2L943.0,465.0L943.5,465.8L944.0,465.7L944.5,466.4L945.0,468.2L945.5,468.3L946.0,467.8L946.5,467.8L947.0,469.4L947.5,471.4L948.0,471.8L948.5,471.1L949.0,469.5L949.5,469.8L950.0,470.5L950.5,469.8L951.0,471.5L951.5,471.3L952.0,471.8L952.5,472.0L953.0,470.0L953.5,470.2L954.0,469.6L954.5,469.6L955.0,470.7L955.5,469.7L956.0,468.9L956.5,469.2L957.0,468.4L957.5,470.9L958.0,470.6L958.5,470.3L959.0,470.7L959.5,469.7L959.5,483.6L959.0,483.9L958.5,483.2L958.0,485.6L957.5,486.3L957.0,484.5L956.5,484.5L956.0,486.2L955.5,486.1L955.0,481.2L954.5,481.4L954.0,484.5L953.5,483.4L953.0,484.0L952.5,483.2L952.0,482.9L951.5,483.8L951.0,485.1L950.5,484.3L950.0,483.9L949.5,483.2L949.0,484.3L948.5,482.2L948.0,482.2L947.5,484.7L947.0,477.6L946.5,475.4L946.0,481.7L945.5,481.4L945.0,482.5L944.5,481.9L944.0,481.3L943.5,482.2L943.0,482.3L942.5,481.3L942.0,481.0L941.5,482.3L941.0,481.8L940.5,479.8L940.0,480.4L939.5,477.4L939.0,481.9L938.5,482.5L938.0,482.3L937.5,480.8L937.0,478.7L936.5,477.9L936.0,477.1L935.5,475.5L935.0,476.0L934.5,474.9L934.0,476.4L933.5,476.5L933.0,475.9L932.5,474.9L932.0,475.0L931.5,476.4L931.0,474.6L930.5,472.6L930.0,473.1L929.5,474.7L929.0,475.2L928.5,477.0L928.0,476.7L927.5,473.8L927.0,472.3L926.5,468.8L926.0,463.4L925.5,462.3L925.0,464.0L924.5,466.8L924.0,470.7L923.5,471.0L923.0,469.3L922.5,469.6L922.0,470.8L921.5,472.0L921.0,471.9L920.5,471.2L920.0,470.8L919.5,470.3L919.0,470.2L918.5,470.5L918.0,468.3L917.5,466.7L917.0,466.9L916.5,466.5L916.0,465.0L915.5,464.9L915.0,467.1L914.5,468.1L914.0,470.3L913.5,470.9L913.0,471.2L912.5,472.2L912.0,468.3L911.5,463.1L911.0,460.4L910.5,465.8L910.0,468.3L909.5,470.3L909.0,471.3L908.5,469.0L908.0,468.1L907.5,469.5L907.0,470.2L906.5,468.0L906.0,465.5L905.5,466.4L905.0,468.4L904.5,469.4L904.0,470.4L903.5,470.6L903.0,471.8L902.5,469.9L902.0,470.4L901.5,474.0L901.0,472.8L900.5,471.6L900.0,469.9L899.5,469.3L899.0,467.4L898.5,465.7L898.0,467.4L897.5,462.6L897.0,466.4L896.5,465.4L896.0,462.3L895.5,460.4L895.0,459.5L894.5,458.5L894.0,457.5L893.5,456.4L893.0,453.9L892.5,454.1L892.0,452.5L891.5,454.7L891.0,454.3L890.5,453.0L890.0,451.6L889.5,447.5L889.0,435.3L888.5,436.9L888.0,433.8L887.5,447.0L887.0,445.9L886.5,443.9L886.0,443.7L885.5,446.9L885.0,446.0L884.5,452.7L884.0,452.4L883.5,453.1L883.0,453.3L882.5,456.2L882.0,460.8L881.5,454.8L881.0,453.4L880.5,458.8L880.0,461.4L879.5,464.4L879.0,464.3L878.5,465.2L878.0,467.4L877.5,464.4L877.0,468.9L876.5,469.7L876.0,468.8L875.5,467.2L875.0,467.9L874.5,468.1L874.0,467.7L873.5,464.7L873.0,467.4L872.5,467.5L872.0,465.7L871.5,467.1L871.0,467.2L870.5,467.6L870.0,470.6L869.5,471.3L869.0,465.0L868.5,459.2L868.0,464.2L867.5,466.5L867.0,470.6L866.5,469.7L866.0,471.2L865.5,474.6L865.0,475.7L864.5,474.5L864.0,474.3L863.5,475.9L863.0,475.4L862.5,472.9L862.0,472.9L861.5,474.2L861.0,474.7L860.5,473.2L860.0,471.1L859.5,465.6L859.0,466.5L858.5,464.2L858.0,469.5L857.5,470.1L857.0,465.9L856.5,465.5L856.0,463.7L855.5,461.6L855.0,453.9L854.5,451.8L854.0,454.1L853.5,454.4L853.0,455.1L852.5,452.9L852.0,453.8L851.5,453.1L851.0,450.5L850.5,451.7L850.0,450.0L849.5,449.1L849.0,447.6L848.5,438.3L848.0,446.6L847.5,445.1L847.0,434.8L846.5,431.2L846.0,442.8L845.5,438.2L845.0,442.6L844.5,442.0L844.0,442.0L843.5,440.4L843.0,440.2L842.5,440.4L842.0,438.6L841.5,432.2L841.0,430.2L840.5,441.8L840.0,441.9L839.5,442.6L839.0,432.5L838.5,428.4L838.0,428.0L837.5,415.3L837.0,410.7L836.5,407.5L836.0,406.1L835.5,408.6L835.0,411.4L834.5,416.4L834.0,419.9L833.5,428.2L833.0,439.3L832.5,447.2L832.0,449.4L831.5,446.1L831.0,452.7L830.5,452.8L830.0,448.8L829.5,436.2L829.0,420.4L828.5,413.7L828.0,405.7L827.5,399.0L827.0,396.1L826.5,393.7L826.0,393.9L825.5,395.8L825.0,398.0L824.5,402.1L824.0,413.0L823.5,423.1L823.0,434.1L822.5,437.9L822.0,439.6L821.5,441.3L821.0,438.9L820.5,439.9L820.0,442.9L819.5,439.2L819.0,438.5L818.5,440.2L818.0,443.3L817.5,443.9L817.0,443.4L816.5,443.2L816.0,441.6L815.5,444.6L815.0,446.4L814.5,451.0L814.0,451.4L813.5,451.3L813.0,452.3L812.5,448.9L812.0,452.9L811.5,456.7L811.0,460.5L810.5,462.8L810.0,461.6L809.5,464.8L809.0,465.8L808.5,468.2L808.0,469.2L807.5,466.9L807.0,464.2L806.5,465.3L806.0,466.5L805.5,467.1L805.0,467.5L804.5,467.3L804.0,467.7L803.5,466.0L803.0,462.9L802.5,462.3L802.0,461.7L801.5,461.4L801.0,462.0L800.5,463.1L800.0,463.1L799.5,463.1L799.0,461.8L798.5,462.2L798.0,461.6L797.5,459.9L797.0,454.7L796.5,455.5L796.0,461.7L795.5,465.1L795.0,465.1L794.5,467.7L794.0,468.3L793.5,472.8L793.0,473.1L792.5,473.1L792.0,472.3L791.5,473.1L791.0,475.1L790.5,475.0L790.0,473.8L789.5,472.7L789.0,473.1L788.5,472.5L788.0,471.8L787.5,470.2L787.0,469.8L786.5,468.1L786.0,470.6L785.5,470.9L785.0,469.1L784.5,470.0L784.0,473.2L783.5,472.1L783.0,469.6L782.5,464.0L782.0,464.0L781.5,462.6L781.0,468.3L780.5,468.1L780.0,463.8L779.5,463.0L779.0,463.8L778.5,464.7L778.0,462.0L777.5,458.0L777.0,461.3L776.5,464.7L776.0,467.3L775.5,467.8L775.0,468.9L774.5,472.6L774.0,477.0L773.5,475.6L773.0,474.1L772.5,471.9L772.0,472.5L771.5,474.4L771.0,474.0L770.5,473.0L770.0,472.5L769.5,468.7L769.0,465.8L768.5,465.0L768.0,463.3L767.5,465.5L767.0,467.7L766.5,468.5L766.0,468.4L765.5,469.6L765.0,468.0L764.5,467.4L764.0,466.6L763.5,462.6L763.0,463.5L762.5,456.2L762.0,456.8L761.5,462.1L761.0,460.3L760.5,456.3L760.0,456.1L759.5,460.5L759.0,464.8L758.5,466.4L758.0,464.4L757.5,464.2L757.0,468.0L756.5,467.8L756.0,468.4L755.5,468.5L755.0,467.2L754.5,469.6L754.0,471.1L753.5,471.8L753.0,471.4L752.5,472.8L752.0,476.7L751.5,477.8L751.0,476.5L750.5,477.1L750.0,478.6L749.5,477.1L749.0,475.3L748.5,476.5L748.0,476.7L747.5,475.8L747.0,477.0L746.5,476.9L746.0,475.1L745.5,476.4L745.0,476.1L744.5,474.8L744.0,472.3L743.5,471.4L743.0,473.6L742.5,472.7L742.0,469.6L741.5,463.9L741.0,461.1L740.5,462.2L740.0,464.4L739.5,463.2L739.0,465.5L738.5,467.8L738.0,472.4L737.5,472.5L737.0,471.3L736.5,472.5L736.0,474.7L735.5,475.8L735.0,477.0L734.5,476.7L734.0,474.6L733.5,472.0L733.0,473.4L732.5,474.6L732.0,472.6L731.5,469.5L731.0,471.1L730.5,469.7L730.0,468.3L729.5,466.8L729.0,467.7L728.5,468.0L728.0,461.6L727.5,462.7L727.0,468.4L726.5,467.5L726.0,467.3L725.5,468.4L725.0,468.2L724.5,467.1L724.0,466.6L723.5,464.7L723.0,462.6L722.5,463.8L722.0,465.4L721.5,466.8L721.0,466.5L720.5,466.8L720.0,467.5L719.5,467.0L719.0,464.7L718.5,461.6L718.0,461.0L717.5,461.8L717.0,454.9L716.5,451.5L716.0,448.6L715.5,451.3L715.0,451.1L714.5,452.8L714.0,455.8L713.5,459.3L713.0,462.7L712.5,466.5L712.0,466.1L711.5,463.0L711.0,461.9L710.5,459.9L710.0,455.8L709.5,457.1L709.0,459.9L708.5,458.1L708.0,459.1L707.5,460.9L707.0,459.7L706.5,459.1L706.0,456.5L705.5,450.1L705.0,452.8L704.5,460.8L704.0,465.6L703.5,470.1L703.0,473.4L702.5,475.5L702.0,476.3L701.5,473.6L701.0,471.8L700.5,472.4L700.0,474.5L699.5,475.1L699.0,475.6L698.5,475.4L698.0,475.6L697.5,477.4L697.0,476.8L696.5,477.5L696.0,479.4L695.5,479.7L695.0,479.3L694.5,479.0L694.0,480.1L693.5,481.9L693.0,479.9L692.5,481.5L692.0,481.6L691.5,483.0L691.0,483.8L690.5,483.1L690.0,485.0L689.5,483.1L689.0,481.6L688.5,482.0L688.0,482.5L687.5,482.6L687.0,480.8L686.5,480.9L686.0,482.9L685.5,481.1L685.0,479.9L684.5,481.3L684.0,482.2L683.5,483.8L683.0,483.9L682.5,483.0L682.0,481.3L681.5,481.5L681.0,481.6L680.5,483.1L680.0,484.7L679.5,481.4L679.0,480.7L678.5,481.7L678.0,482.4L677.5,481.7L677.0,482.8L676.5,480.9L676.0,481.9L675.5,484.0L675.0,481.9L674.5,477.8L674.0,476.9L673.5,475.7L673.0,472.2L672.5,469.5L672.0,468.7L671.5,470.1L671.0,470.9L670.5,472.4L670.0,473.6L669.5,471.6L669.0,464.4L668.5,467.7L668.0,472.9L667.5,472.7L667.0,467.4L666.5,466.6L666.0,474.3L665.5,473.7L665.0,473.6L664.5,473.8L664.0,474.9L663.5,474.1L663.0,475.0L662.5,476.9L662.0,476.4L661.5,476.4L661.0,478.2L660.5,477.8L660.0,475.6L659.5,476.1L659.0,477.2L658.5,474.2L658.0,474.5L657.5,476.3L657.0,475.9L656.5,475.8L656.0,475.4L655.5,475.2L655.0,474.8L654.5,474.4L654.0,472.8L653.5,472.9L653.0,473.5L652.5,474.6L652.0,474.4L651.5,473.4L651.0,475.4L650.5,476.4L650.0,476.4L649.5,475.6L649.0,476.4L648.5,474.2L648.0,475.7L647.5,475.2L647.0,475.2L646.5,475.4L646.0,474.2L645.5,475.2L645.0,475.3L644.5,475.8L644.0,477.3L643.5,477.8L643.0,477.3L642.5,475.3L642.0,474.7L641.5,475.2L641.0,476.1L640.5,475.6L640.0,475.3L639.5,475.1L639.0,472.7L638.5,472.5L638.0,474.2L637.5,475.8L637.0,474.6L636.5,473.4L636.0,473.4L635.5,472.3L635.0,472.8L634.5,472.6L634.0,468.7L633.5,467.6L633.0,467.9L632.5,470.7L632.0,469.7L631.5,468.4L631.0,467.7L630.5,467.2L630.0,465.8L629.5,464.1L629.0,465.5L628.5,466.1L628.0,465.6L627.5,466.8L627.0,467.8L626.5,460.9L626.0,460.4L625.5,467.0L625.0,462.5L624.5,464.6L624.0,468.2L623.5,467.1L623.0,465.6L622.5,463.3L622.0,461.0L621.5,461.4L621.0,461.6L620.5,458.3L620.0,456.8L619.5,457.3L619.0,456.3L618.5,454.9L618.0,454.8L617.5,458.1L617.0,457.3L616.5,452.8L616.0,450.1L615.5,455.4L615.0,454.8L614.5,454.1L614.0,450.9L613.5,450.7L613.0,449.1L612.5,450.2L612.0,445.2L611.5,441.9L611.0,440.4L610.5,436.7L610.0,430.0L609.5,415.4L609.0,410.0L608.5,414.9L608.0,405.7L607.5,404.5L607.0,405.7L606.5,401.4L606.0,398.9L605.5,393.6L605.0,382.8L604.5,377.4L604.0,374.6L603.5,361.6L603.0,349.1L602.5,361.1L602.0,377.7L601.5,375.6L601.0,380.5L600.5,392.5L600.0,397.0L599.5,399.6L599.0,400.4L598.5,400.6L598.0,404.1L597.5,401.6L597.0,404.1L596.5,410.4L596.0,405.9L595.5,407.8L595.0,416.8L594.5,417.0L594.0,415.7L593.5,421.0L593.0,428.5L592.5,432.7L592.0,435.6L591.5,435.9L591.0,437.5L590.5,439.4L590.0,438.8L589.5,428.5L589.0,442.3L588.5,444.4L588.0,443.1L587.5,441.0L587.0,439.6L586.5,439.1L586.0,437.9L585.5,438.6L585.0,437.3L584.5,434.7L584.0,430.6L583.5,425.3L583.0,408.4L582.5,410.9L582.0,413.5L581.5,417.0L581.0,416.8L580.5,418.0L580.0,405.5L579.5,399.0L579.0,399.4L578.5,391.7L578.0,386.9L577.5,384.4L577.0,376.4L576.5,370.4L576.0,380.0L575.5,393.0L575.0,406.6L574.5,419.6L574.0,423.6L573.5,422.4L573.0,428.6L572.5,430.7L572.0,436.1L571.5,440.8L571.0,437.9L570.5,434.9L570.0,425.0L569.5,423.6L569.0,427.3L568.5,424.6L568.0,421.0L567.5,410.6L567.0,404.0L566.5,404.8L566.0,412.4L565.5,415.8L565.0,418.0L564.5,416.4L564.0,411.1L563.5,406.0L563.0,401.2L562.5,401.9L562.0,407.0L561.5,411.2L561.0,415.5L560.5,419.5L560.0,424.3L559.5,428.2L559.0,431.5L558.5,436.2L558.0,438.7L557.5,437.6L557.0,439.2L556.5,440.4L556.0,443.2L555.5,444.6L555.0,444.4L554.5,445.0L554.0,445.6L553.5,447.6L553.0,449.8L552.5,446.9L552.0,444.0L551.5,441.3L551.0,439.2L550.5,411.8L550.0,398.1L549.5,425.3L549.0,443.9L548.5,441.7L548.0,443.7L547.5,450.3L547.0,454.5L546.5,455.3L546.0,455.3L545.5,454.9L545.0,454.4L544.5,455.6L544.0,456.3L543.5,455.6L543.0,456.2L542.5,456.1L542.0,456.6L541.5,458.0L541.0,457.0L540.5,456.7L540.0,457.2L539.5,449.2L539.0,448.7L538.5,456.7L538.0,454.4L537.5,452.6L537.0,444.7L536.5,447.9L536.0,446.3L535.5,443.6L535.0,440.5L534.5,437.8L534.0,441.9L533.5,443.9L533.0,443.4L532.5,445.4L532.0,448.5L531.5,449.7L531.0,448.8L530.5,449.6L530.0,451.5L529.5,452.9L529.0,452.2L528.5,453.6L528.0,455.8L527.5,456.9L527.0,456.4L526.5,456.6L526.0,456.7L525.5,456.1L525.0,457.0L524.5,456.6L524.0,456.8L523.5,457.1L523.0,456.4L522.5,455.4L522.0,456.8L521.5,459.1L521.0,460.3L520.5,458.2L520.0,457.5L519.5,459.0L519.0,459.9L518.5,460.5L518.0,462.2L517.5,464.1L517.0,464.7L516.5,465.6L516.0,464.1L515.5,463.9L515.0,465.0L514.5,466.6L514.0,459.4L513.5,460.4L513.0,466.1L512.5,466.1L512.0,465.4L511.5,460.5L511.0,466.2L510.5,464.9L510.0,464.4L509.5,465.3L509.0,465.0L508.5,464.1L508.0,463.5L507.5,464.0L507.0,464.5L506.5,462.9L506.0,463.1L505.5,463.9L505.0,462.4L504.5,462.5L504.0,463.4L503.5,461.0L503.0,457.3L502.5,456.5L502.0,457.0L501.5,459.3L501.0,459.0L500.5,457.7L500.0,456.5L499.5,458.1L499.0,458.8L498.5,458.4L498.0,456.8L497.5,454.0L497.0,443.1L496.5,440.5L496.0,452.7L495.5,451.5L495.0,452.1L494.5,451.1L494.0,450.5L493.5,448.7L493.0,446.9L492.5,445.2L492.0,451.8L491.5,454.4L491.0,453.5L490.5,453.7L490.0,450.2L489.5,453.4L489.0,463.6L488.5,464.5L488.0,464.2L487.5,464.7L487.0,464.5L486.5,461.8L486.0,461.5L485.5,464.7L485.0,463.7L484.5,462.7L484.0,462.7L483.5,461.5L483.0,462.3L482.5,463.5L482.0,463.6L481.5,463.5L481.0,462.4L480.5,459.9L480.0,460.1L479.5,461.3L479.0,456.8L478.5,459.3L478.0,462.7L477.5,461.0L477.0,459.7L476.5,460.2L476.0,461.4L475.5,457.7L475.0,455.8L474.5,453.4L474.0,457.6L473.5,457.5L473.0,456.8L472.5,458.7L472.0,459.2L471.5,457.8L471.0,457.7L470.5,459.4L470.0,459.6L469.5,459.4L469.0,461.0L468.5,463.4L468.0,461.4L467.5,459.5L467.0,463.3L466.5,462.4L466.0,463.6L465.5,463.5L465.0,463.6L464.5,465.7L464.0,465.8L463.5,466.7L463.0,464.8L462.5,463.7L462.0,464.4L461.5,466.2L461.0,467.0L460.5,469.4L460.0,469.1L459.5,468.6L459.0,468.4L458.5,467.9L458.0,467.2L457.5,466.1L457.0,466.3L456.5,463.7L456.0,461.5L455.5,460.2L455.0,462.9L454.5,463.7L454.0,462.6L453.5,463.6L453.0,461.1L452.5,461.8L452.0,465.4L451.5,466.8L451.0,464.4L450.5,460.1L450.0,449.6L449.5,448.2L449.0,456.7L448.5,460.3L448.0,463.4L447.5,465.5L447.0,469.1L446.5,473.3L446.0,475.1L445.5,474.2L445.0,473.6L444.5,475.9L444.0,477.6L443.5,477.1L443.0,477.0L442.5,479.0L442.0,477.9L441.5,477.3L441.0,479.6L440.5,481.8L440.0,480.6L439.5,473.4L439.0,471.8L438.5,476.3L438.0,477.2L437.5,478.6L437.0,478.5L436.5,476.8L436.0,476.3L435.5,476.8L435.0,476.7L434.5,477.3L434.0,472.7L433.5,472.5L433.0,476.3L432.5,477.0L432.0,477.2L431.5,476.8L431.0,476.7L430.5,477.6L430.0,476.6L429.5,476.9L429.0,477.3L428.5,476.4L428.0,477.8L427.5,478.2L427.0,477.9L426.5,477.9L426.0,477.1L425.5,475.0L425.0,474.5L424.5,476.1L424.0,476.7L423.5,476.2L423.0,474.8L422.5,475.1L422.0,477.3L421.5,478.2L421.0,478.0L420.5,473.0L420.0,473.2L419.5,473.8L419.0,479.3L418.5,478.1L418.0,478.6L417.5,480.8L417.0,481.4L416.5,482.4L416.0,482.3L415.5,483.1L415.0,485.2L414.5,483.6L414.0,481.5L413.5,481.6L413.0,483.4L412.5,483.2L412.0,484.1L411.5,485.2L411.0,483.1L410.5,483.7L410.0,484.6L409.5,483.7L409.0,484.4L408.5,484.0L408.0,482.9L407.5,482.7L407.0,481.4L406.5,482.7L406.0,482.5L405.5,480.0L405.0,480.2L404.5,478.7L404.0,478.5L403.5,478.3L403.0,479.0L402.5,475.4L402.0,475.1L401.5,467.0L401.0,464.1L400.5,472.3L400.0,473.5L399.5,476.0L399.0,475.7L398.5,475.7L398.0,479.0L397.5,478.6L397.0,480.2L396.5,479.5L396.0,476.8L395.5,477.0L395.0,478.8L394.5,480.6L394.0,480.7L393.5,480.0L393.0,479.5L392.5,480.1L392.0,481.4L391.5,480.3L391.0,479.0L390.5,478.9L390.0,478.2L389.5,478.3L389.0,478.8L388.5,479.4L388.0,477.8L387.5,476.5L387.0,477.7L386.5,479.0L386.0,477.4L385.5,474.8L385.0,477.1L384.5,478.1L384.0,474.9L383.5,473.2L383.0,471.1L382.5,466.8L382.0,464.9L381.5,464.4L381.0,466.8L380.5,467.6L380.0,467.5L379.5,470.0L379.0,471.2L378.5,471.0L378.0,463.6L377.5,468.1L377.0,475.9L376.5,475.4L376.0,475.4L375.5,476.1L375.0,470.0L374.5,467.2L374.0,469.6L373.5,477.1L373.0,477.3L372.5,476.9L372.0,474.5L371.5,470.7L371.0,474.3L370.5,478.4L370.0,478.1L369.5,477.5L369.0,478.3L368.5,479.3L368.0,478.9L367.5,478.4L367.0,476.4L366.5,475.7L366.0,478.7L365.5,476.4L365.0,475.9L364.5,475.5L364.0,467.8L363.5,469.8L363.0,471.1L362.5,476.8L362.0,477.3L361.5,475.8L361.0,474.3L360.5,475.1L360.0,472.3L359.5,472.4L359.0,475.9L358.5,476.6L358.0,476.0L357.5,475.3L357.0,472.2L356.5,471.8L356.0,471.6L355.5,474.9L355.0,476.2L354.5,475.6L354.0,476.8L353.5,477.0L353.0,475.7L352.5,476.0L352.0,476.3L351.5,477.6L351.0,475.9L350.5,474.2L350.0,473.7L349.5,472.9L349.0,472.8L348.5,467.4L348.0,469.3L347.5,464.9L347.0,458.8L346.5,451.5L346.0,449.8L345.5,450.1L345.0,456.6L344.5,454.5L344.0,454.4L343.5,457.9L343.0,466.9L342.5,470.8L342.0,474.9L341.5,469.8L341.0,469.4L340.5,473.6L340.0,471.2L339.5,472.9L339.0,472.0L338.5,470.1L338.0,467.9L337.5,467.6L337.0,467.2L336.5,466.4L336.0,465.4L335.5,467.9L335.0,467.7L334.5,466.2L334.0,465.3L333.5,463.2L333.0,461.4L332.5,462.6L332.0,460.9L331.5,457.4L331.0,458.4L330.5,458.3L330.0,459.4L329.5,459.3L329.0,456.0L328.5,454.4L328.0,453.2L327.5,447.7L327.0,442.3L326.5,442.0L326.0,434.3L325.5,442.7L325.0,444.4L324.5,446.3L324.0,447.1L323.5,449.6L323.0,448.6L322.5,440.2L322.0,443.2L321.5,443.4L321.0,451.2L320.5,444.7L320.0,444.0L319.5,447.2L319.0,445.0L318.5,443.9L318.0,444.5L317.5,442.0L317.0,439.5L316.5,437.2L316.0,428.3L315.5,431.5L315.0,427.9L314.5,428.8L314.0,425.6L313.5,422.7L313.0,421.5L312.5,414.1L312.0,399.1L311.5,391.5L311.0,384.8L310.5,363.3L310.0,352.7L309.5,339.3L309.0,339.7L308.5,324.9L308.0,305.2L307.5,295.0L307.0,311.0L306.5,329.7L306.0,348.3L305.5,356.6L305.0,361.7L304.5,365.7L304.0,368.6L303.5,373.0L303.0,376.6L302.5,377.2L302.0,384.7L301.5,392.2L301.0,397.9L300.5,406.3L300.0,415.8L299.5,428.3L299.0,434.5L298.5,438.0L298.0,434.5L297.5,437.3L297.0,440.2L296.5,448.4L296.0,450.7L295.5,449.9L295.0,449.3L294.5,442.2L294.0,445.9L293.5,450.4L293.0,449.0L292.5,448.4L292.0,446.2L291.5,445.5L291.0,445.2L290.5,445.6L290.0,438.2L289.5,438.5L289.0,441.5L288.5,451.0L288.0,451.7L287.5,452.0L287.0,447.3L286.5,450.3L286.0,454.5L285.5,453.7L285.0,454.2L284.5,446.9L284.0,445.5L283.5,456.5L283.0,456.6L282.5,457.1L282.0,457.7L281.5,457.3L281.0,458.9L280.5,459.9L280.0,457.9L279.5,458.5L279.0,459.8L278.5,461.8L278.0,462.0L277.5,460.4L277.0,460.4L276.5,456.0L276.0,457.3L275.5,456.2L275.0,455.1L274.5,453.0L274.0,452.4L273.5,450.4L273.0,445.6L272.5,442.1L272.0,442.1L271.5,434.3L271.0,429.7L270.5,431.7L270.0,426.8L269.5,423.9L269.0,424.0L268.5,420.3L268.0,403.6L267.5,398.3L267.0,406.0L266.5,394.7L266.0,390.6L265.5,390.9L265.0,385.0L264.5,378.7L264.0,375.4L263.5,373.0L263.0,366.3L262.5,361.4L262.0,338.1L261.5,323.5L261.0,312.2L260.5,299.7L260.0,302.9L259.5,303.0L259.0,318.1L258.5,338.1L258.0,346.5L257.5,341.0L257.0,349.2L256.5,360.8L256.0,359.0L255.5,359.3L255.0,364.1L254.5,361.5L254.0,360.3L253.5,369.8L253.0,373.9L252.5,376.1L252.0,378.6L251.5,384.4L251.0,389.4L250.5,392.0L250.0,396.4L249.5,400.1L249.0,402.6L248.5,398.1L248.0,405.7L247.5,407.3L247.0,408.5L246.5,410.3L246.0,407.2L245.5,414.5L245.0,423.0L244.5,416.8L244.0,419.2L243.5,429.8L243.0,431.3L242.5,432.7L242.0,435.9L241.5,441.2L241.0,438.7L240.5,436.3L240.0,435.6L239.5,434.1L239.0,436.6L238.5,437.7L238.0,438.9L237.5,439.6L237.0,438.7L236.5,440.1L236.0,441.7L235.5,443.9L235.0,445.0L234.5,444.1L234.0,445.6L233.5,446.2L233.0,439.0L232.5,439.7L232.0,446.0L231.5,446.5L231.0,441.9L230.5,440.4L230.0,446.9L229.5,445.4L229.0,444.7L228.5,443.8L228.0,442.5L227.5,440.1L227.0,439.1L226.5,434.8L226.0,429.8L225.5,433.9L225.0,433.6L224.5,432.0L224.0,429.4L223.5,422.2L223.0,418.3L222.5,422.2L222.0,411.8L221.5,417.4L221.0,420.6L220.5,423.6L220.0,425.5L219.5,428.3L219.0,430.4L218.5,431.0L218.0,429.7L217.5,427.2L217.0,428.5L216.5,428.7L216.0,426.3L215.5,423.7L215.0,418.7L214.5,415.9L214.0,415.7L213.5,411.0L213.0,414.1L212.5,416.8L212.0,428.1L211.5,429.5L211.0,431.0L210.5,432.7L210.0,432.7L209.5,432.4L209.0,434.3L208.5,435.2L208.0,438.1L207.5,436.1L207.0,440.5L206.5,450.9L206.0,453.4L205.5,450.2L205.0,450.5L204.5,451.8L204.0,453.4L203.5,453.6L203.0,449.0L202.5,447.7L202.0,452.9L201.5,454.6L201.0,454.7L200.5,457.0L200.0,458.0L199.5,457.3L199.0,457.1L198.5,458.1L198.0,459.0L197.5,460.3L197.0,461.0L196.5,460.1L196.0,461.1L195.5,461.3L195.0,461.2L194.5,460.9L194.0,460.3L193.5,450.5L193.0,459.6L192.5,460.6L192.0,452.4L191.5,455.9L191.0,463.3L190.5,456.0L190.0,455.5L189.5,457.1L189.0,461.4L188.5,462.0L188.0,464.6L187.5,465.1L187.0,465.0L186.5,464.5L186.0,465.3L185.5,465.1L185.0,464.2L184.5,464.6L184.0,466.3L183.5,458.6L183.0,458.4L182.5,454.0L182.0,463.9L181.5,465.2L181.0,464.6L180.5,466.7L180.0,466.0L179.5,463.9L179.0,465.1L178.5,464.8L178.0,465.7L177.5,467.0L177.0,467.0L176.5,466.9L176.0,467.4L175.5,466.9L175.0,466.0L174.5,463.4L174.0,461.4L173.5,457.0L173.0,456.1L172.5,461.0L172.0,458.0L171.5,454.1L171.0,455.5L170.5,455.4L170.0,454.1L169.5,454.3L169.0,454.3L168.5,453.2L168.0,454.0L167.5,456.0L167.0,442.2L166.5,455.6L166.0,449.9L165.5,452.8L165.0,460.4L164.5,459.5L164.0,460.8L163.5,464.3L163.0,464.6L162.5,464.3L162.0,464.7L161.5,465.9L161.0,469.0L160.5,470.9L160.0,471.4L159.5,472.4L159.0,473.6L158.5,481.3L158.0,483.9L157.5,483.0L157.0,485.6L156.5,485.1L156.0,484.9L155.5,482.8L155.0,481.1L154.5,478.4L154.0,478.5L153.5,480.3L153.0,478.1L152.5,474.8L152.0,473.3L151.5,464.7L151.0,459.8L150.5,462.1L150.0,457.0L149.5,454.3L149.0,453.4L148.5,445.4L148.0,445.0L147.5,445.3L147.0,440.7L146.5,441.5L146.0,441.5L145.5,444.1L145.0,439.2L144.5,432.0L144.0,426.9L143.5,423.6L143.0,418.0L142.5,425.0L142.0,432.2L141.5,423.1L141.0,429.0L140.5,437.1L140.0,437.3L139.5,438.5L139.0,438.8L138.5,435.0L138.0,424.1L137.5,422.0L137.0,431.6L136.5,430.5L136.0,426.9L135.5,407.3L135.0,398.0L134.5,402.1L134.0,410.7L133.5,400.0L133.0,388.7L132.5,383.6L132.0,375.6L131.5,364.7L131.0,355.0L130.5,337.0L130.0,311.9L129.5,290.4L129.0,277.6L128.5,263.2L128.0,249.2L127.5,236.1L127.0,222.2L126.5,233.4L126.0,258.9L125.5,283.9L125.0,310.3L124.5,340.4L124.0,349.9L123.5,346.0L123.0,338.0L122.5,329.5L122.0,301.1L121.5,271.6L121.0,301.8L120.5,343.2L120.0,352.7L119.5,358.2L119.0,363.7L118.5,368.8L118.0,378.5L117.5,388.8L117.0,406.7L116.5,422.7L116.0,430.6L115.5,427.5L115.0,438.3L114.5,452.0L114.0,453.4L113.5,454.9L113.0,457.4L112.5,455.4L112.0,455.3L111.5,451.0L111.0,443.8L110.5,447.3L110.0,443.1L109.5,440.7L109.0,435.4L108.5,432.3L108.0,430.5L107.5,415.4L107.0,362.9L106.5,378.6L106.0,425.5L105.5,427.8L105.0,430.9L104.5,421.7L104.0,378.5L103.5,366.7L103.0,349.0L102.5,359.9L102.0,372.8L101.5,392.4L101.0,380.9L100.5,378.9L100.0,404.3L99.5,422.4L99.0,440.4L98.5,439.8L98.0,441.1L97.5,433.2L97.0,436.5L96.5,436.6L96.0,445.1L95.5,442.7L95.0,443.0L94.5,443.6L94.0,443.8L93.5,444.1L93.0,446.5L92.5,446.5L92.0,446.5L91.5,445.4L91.0,446.4L90.5,448.7L90.0,448.4L89.5,449.4L89.0,448.9L88.5,449.9L88.0,449.6L87.5,448.8L87.0,449.4L86.5,439.6L86.0,438.2L85.5,446.5L85.0,438.2L84.5,439.6L84.0,408.6L83.5,363.7L83.0,408.6L82.5,451.1L82.0,453.2L81.5,453.8L81.0,454.9L80.5,454.5L80.0,448.1L79.5,447.7L79.0,461.2L78.5,462.0L78.0,461.5L77.5,465.0L77.0,468.7L76.5,468.4L76.0,466.2L75.5,466.2L75.0,467.7L74.5,472.1L74.0,473.4L73.5,473.7L73.0,473.0L72.5,474.5L72.0,475.4L71.5,476.0L71.0,476.6L70.5,478.1L70.0,479.2L69.5,478.0L69.0,477.7L68.5,477.0L68.0,476.1L67.5,478.9L67.0,478.2L66.5,474.9L66.0,473.2L65.5,473.3L65.0,473.0L64.5,472.8L64.0,470.4L63.5,471.2L63.0,469.7L62.5,466.9L62.0,467.1L61.5,466.6Z"/>
<path fill="#D0384E" d="M61.5,466.6L62.0,467.1L62.5,466.9L63.0,469.7L63.5,471.2L64.0,470.4L64.5,472.8L65.0,473.0L65.5,473.3L66.0,473.2L66.5,474.9L67.0,478.2L67.5,478.9L68.0,476.1L68.5,477.0L69.0,477.7L69.5,478.0L70.0,479.2L70.5,478.1L71.0,476.6L71.5,476.0L72.0,475.4L72.5,474.5L73.0,473.0L73.5,473.7L74.0,473.4L74.5,472.1L75.0,467.7L75.5,466.2L76.0,466.2L76.5,468.4L77.0,468.7L77.5,465.0L78.0,461.5L78.5,462.0L79.0,461.2L79.5,447.7L80.0,448.1L80.5,454.5L81.0,454.9L81.5,453.8L82.0,453.2L82.5,451.1L83.0,408.6L83.5,363.7L84.0,408.6L84.5,439.6L85.0,438.2L85.5,446.5L86.0,438.2L86.5,439.6L87.0,449.4L87.5,448.8L88.0,449.6L88.5,449.9L89.0,448.9L89.5,449.4L90.0,448.4L90.5,448.7L91.0,446.4L91.5,445.4L92.0,446.5L92.5,446.5L93.0,446.5L93.5,444.1L94.0,443.8L94.5,443.6L95.0,443.0L95.5,442.7L96.0,445.1L96.5,436.6L97.0,436.5L97.5,433.2L98.0,441.1L98.5,439.8L99.0,440.4L99.5,422.4L100.0,404.3L100.5,378.9L101.0,380.9L101.5,392.4L102.0,372.8L102.5,359.9L103.0,349.0L103.5,366.7L104.0,378.5L104.5,421.7L105.0,430.9L105.5,427.8L106.0,425.5L106.5,378.6L107.0,362.9L107.5,415.4L108.0,430.5L108.5,432.3L109.0,435.4L109.5,440.7L110.0,443.1L110.5,447.3L111.0,443.8L111.5,451.0L112.0,455.3L112.5,455.4L113.0,457.4L113.5,454.9L114.0,453.4L114.5,452.0L115.0,438.3L115.5,427.5L116.0,430.6L116.5,422.7L117.0,406.7L117.5,388.8L118.0,378.5L118.5,368.8L119.0,363.7L119.5,358.2L120.0,352.7L120.5,343.2L121.0,301.8L121.5,271.6L122.0,301.1L122.5,329.5L123.0,338.0L123.5,346.0L124.0,349.9L124.5,340.4L125.0,310.3L125.5,283.9L126.0,258.9L126.5,233.4L127.0,222.2L127.5,236.1L128.0,249.2L128.5,263.2L129.0,277.6L129.5,290.4L130.0,311.9L130.5,337.0L131.0,355.0L131.5,364.7L132.0,375.6L132.5,383.6L133.0,388.7L133.5,400.0L134.0,410.7L134.5,402.1L135.0,398.0L135.5,407.3L136.0,426.9L136.5,430.5L137.0,431.6L137.5,422.0L138.0,424.1L138.5,435.0L139.0,438.8L139.5,438.5L140.0,437.3L140.5,437.1L141.0,429.0L141.5,423.1L142.0,432.2L142.5,425.0L143.0,418.0L143.5,423.6L144.0,426.9L144.5,432.0L145.0,439.2L145.5,444.1L146.0,441.5L146.5,441.5L147.0,440.7L147.5,445.3L148.0,445.0L148.5,445.4L149.0,453.4L149.5,454.3L150.0,457.0L150.5,462.1L151.0,459.8L151.5,464.7L152.0,473.3L152.5,474.8L153.0,478.1L153.5,480.3L154.0,478.5L154.5,478.4L155.0,481.1L155.5,482.8L156.0,484.9L156.5,485.1L157.0,485.6L157.5,483.0L158.0,483.9L158.5,481.3L159.0,473.6L159.5,472.4L160.0,471.4L160.5,470.9L161.0,469.0L161.5,465.9L162.0,464.7L162.5,464.3L163.0,464.6L163.5,464.3L164.0,460.8L164.5,459.5L165.0,460.4L165.5,452.8L166.0,449.9L166.5,455.6L167.0,442.2L167.5,456.0L168.0,454.0L168.5,453.2L169.0,454.3L169.5,454.3L170.0,454.1L170.5,455.4L171.0,455.5L171.5,454.1L172.0,458.0L172.5,461.0L173.0,456.1L173.5,457.0L174.0,461.4L174.5,463.4L175.0,466.0L175.5,466.9L176.0,467.4L176.5,466.9L177.0,467.0L177.5,467.0L178.0,465.7L178.5,464.8L179.0,465.1L179.5,463.9L180.0,466.0L180.5,466.7L181.0,464.6L181.5,465.2L182.0,463.9L182.5,454.0L183.0,458.4L183.5,458.6L184.0,466.3L184.5,464.6L185.0,464.2L185.5,465.1L186.0,465.3L186.5,464.5L187.0,465.0L187.5,465.1L188.0,464.6L188.5,462.0L189.0,461.4L189.5,457.1L190.0,455.5L190.5,456.0L191.0,463.3L191.5,455.9L192.0,452.4L192.5,460.6L193.0,459.6L193.5,450.5L194.0,460.3L194.5,460.9L195.0,461.2L195.5,461.3L196.0,461.1L196.5,460.1L197.0,461.0L197.5,460.3L198.0,459.0L198.5,458.1L199.0,457.1L199.5,457.3L200.0,458.0L200.5,457.0L201.0,454.7L201.5,454.6L202.0,452.9L202.5,447.7L203.0,449.0L203.5,453.6L204.0,453.4L204.5,451.8L205.0,450.5L205.5,450.2L206.0,453.4L206.5,450.9L207.0,440.5L207.5,436.1L208.0,438.1L208.5,435.2L209.0,434.3L209.5,432.4L210.0,432.7L210.5,432.7L211.0,431.0L211.5,429.5L212.0,428.1L212.5,416.8L213.0,414.1L213.5,411.0L214.0,415.7L214.5,415.9L215.0,418.7L215.5,423.7L216.0,426.3L216.5,428.7L217.0,428.5L217.5,427.2L218.0,429.7L218.5,431.0L219.0,430.4L219.5,428.3L220.0,425.5L220.5,423.6L221.0,420.6L221.5,417.4L222.0,411.8L222.5,422.2L223.0,418.3L223.5,422.2L224.0,429.4L224.5,432.0L225.0,433.6L225.5,433.9L226.0,429.8L226.5,434.8L227.0,439.1L227.5,440.1L228.0,442.5L228.5,443.8L229.0,444.7L229.5,445.4L230.0,446.9L230.5,440.4L231.0,441.9L231.5,446.5L232.0,446.0L232.5,439.7L233.0,439.0L233.5,446.2L234.0,445.6L234.5,444.1L235.0,445.0L235.5,443.9L236.0,441.7L236.5,440.1L237.0,438.7L237.5,439.6L238.0,438.9L238.5,437.7L239.0,436.6L239.5,434.1L240.0,435.6L240.5,436.3L241.0,438.7L241.5,441.2L242.0,435.9L242.5,432.7L243.0,431.3L243.5,429.8L244.0,419.2L244.5,416.8L245.0,423.0L245.5,414.5L246.0,407.2L246.5,410.3L247.0,408.5L247.5,407.3L248.0,405.7L248.5,398.1L249.0,402.6L249.5,400.1L250.0,396.4L250.5,392.0L251.0,389.4L251.5,384.4L252.0,378.6L252.5,376.1L253.0,373.9L253.5,369.8L254.0,360.3L254.5,361.5L255.0,364.1L255.5,359.3L256.0,359.0L256.5,360.8L257.0,349.2L257.5,341.0L258.0,346.5L258.5,338.1L259.0,318.1L259.5,303.0L260.0,302.9L260.5,299.7L261.0,312.2L261.5,323.5L262.0,338.1L262.5,361.4L263.0,366.3L263.5,373.0L264.0,375.4L264.5,378.7L265.0,385.0L265.5,390.9L266.0,390.6L266.5,394.7L267.0,406.0L267.5,398.3L268.0,403.6L268.5,420.3L269.0,424.0L269.5,423.9L270.0,426.8L270.5,431.7L271.0,429.7L271.5,434.3L272.0,442.1L272.5,442.1L273.0,445.6L273.5,450.4L274.0,452.4L274.5,453.0L275.0,455.1L275.5,456.2L276.0,457.3L276.5,456.0L277.0,460.4L277.5,460.4L278.0,462.0L278.5,461.8L279.0,459.8L279.5,458.5L280.0,457.9L280.5,459.9L281.0,458.9L281.5,457.3L282.0,457.7L282.5,457.1L283.0,456.6L283.5,456.5L284.0,445.5L284.5,446.9L285.0,454.2L285.5,453.7L286.0,454.5L286.5,450.3L287.0,447.3L287.5,452.0L288.0,451.7L288.5,451.0L289.0,441.5L289.5,438.5L290.0,438.2L290.5,445.6L291.0,445.2L291.5,445.5L292.0,446.2L292.5,448.4L293.0,449.0L293.5,450.4L294.0,445.9L294.5,442.2L295.0,449.3L295.5,449.9L296.0,450.7L296.5,448.4L297.0,440.2L297.5,437.3L298.0,434.5L298.5,438.0L299.0,434.5L299.5,428.3L300.0,415.8L300.5,406.3L301.0,397.9L301.5,392.2L302.0,384.7L302.5,377.2L303.0,376.6L303.5,373.0L304.0,368.6L304.5,365.7L305.0,361.7L305.5,356.6L306.0,348.3L306.5,329.7L307.0,311.0L307.5,295.0L308.0,305.2L308.5,324.9L309.0,339.7L309.5,339.3L310.0,352.7L310.5,363.3L311.0,384.8L311.5,391.5L312.0,399.1L312.5,414.1L313.0,421.5L313.5,422.7L314.0,425.6L314.5,428.8L315.0,427.9L315.5,431.5L316.0,428.3L316.5,437.2L317.0,439.5L317.5,442.0L318.0,444.5L318.5,443.9L319.0,445.0L319.5,447.2L320.0,444.0L320.5,444.7L321.0,451.2L321.5,443.4L322.0,443.2L322.5,440.2L323.0,448.6L323.5,449.6L324.0,447.1L324.5,446.3L325.0,444.4L325.5,442.7L326.0,434.3L326.5,442.0L327.0,442.3L327.5,447.7L328.0,453.2L328.5,454.4L329.0,456.0L329.5,459.3L330.0,459.4L330.5,458.3L331.0,458.4L331.5,457.4L332.0,460.9L332.5,462.6L333.0,461.4L333.5,463.2L334.0,465.3L334.5,466.2L335.0,467.7L335.5,467.9L336.0,465.4L336.5,466.4L337.0,467.2L337.5,467.6L338.0,467.9L338.5,470.1L339.0,472.0L339.5,472.9L340.0,471.2L340.5,473.6L341.0,469.4L341.5,469.8L342.0,474.9L342.5,470.8L343.0,466.9L343.5,457.9L344.0,454.4L344.5,454.5L345.0,456.6L345.5,450.1L346.0,449.8L346.5,451.5L347.0,458.8L347.5,464.9L348.0,469.3L348.5,467.4L349.0,472.8L349.5,472.9L350.0,473.7L350.5,474.2L351.0,475.9L351.5,477.6L352.0,476.3L352.5,476.0L353.0,475.7L353.5,477.0L354.0,476.8L354.5,475.6L355.0,476.2L355.5,474.9L356.0,471.6L356.5,471.8L357.0,472.2L357.5,475.3L358.0,476.0L358.5,476.6L359.0,475.9L359.5,472.4L360.0,472.3L360.5,475.1L361.0,474.3L361.5,475.8L362.0,477.3L362.5,476.8L363.0,471.1L363.5,469.8L364.0,467.8L364.5,475.5L365.0,475.9L365.5,476.4L366.0,478.7L366.5,475.7L367.0,476.4L367.5,478.4L368.0,478.9L368.5,479.3L369.0,478.3L369.5,477.5L370.0,478.1L370.5,478.4L371.0,474.3L371.5,470.7L372.0,474.5L372.5,476.9L373.0,477.3L373.5,477.1L374.0,469.6L374.5,467.2L375.0,470.0L375.5,476.1L376.0,475.4L376.5,475.4L377.0,475.9L377.5,468.1L378.0,463.6L378.5,471.0L379.0,471.2L379.5,470.0L380.0,467.5L380.5,467.6L381.0,466.8L381.5,464.4L382.0,464.9L382.5,466.8L383.0,471.1L383.5,473.2L384.0,474.9L384.5,478.1L385.0,477.1L385.5,474.8L386.0,477.4L386.5,479.0L387.0,477.7L387.5,476.5L388.0,477.8L388.5,479.4L389.0,478.8L389.5,478.3L390.0,478.2L390.5,478.9L391.0,479.0L391.5,480.3L392.0,481.4L392.5,480.1L393.0,479.5L393.5,480.0L394.0,480.7L394.5,480.6L395.0,478.8L395.5,477.0L396.0,476.8L396.5,479.5L397.0,480.2L397.5,478.6L398.0,479.0L398.5,475.7L399.0,475.7L399.5,476.0L400.0,473.5L400.5,472.3L401.0,464.1L401.5,467.0L402.0,475.1L402.5,475.4L403.0,479.0L403.5,478.3L404.0,478.5L404.5,478.7L405.0,480.2L405.5,480.0L406.0,482.5L406.5,482.7L407.0,481.4L407.5,482.7L408.0,482.9L408.5,484.0L409.0,484.4L409.5,483.7L410.0,484.6L410.5,483.7L411.0,483.1L411.5,485.2L412.0,484.1L412.5,483.2L413.0,483.4L413.5,481.6L414.0,481.5L414.5,483.6L415.0,485.2L415.5,483.1L416.0,482.3L416.5,482.4L417.0,481.4L417.5,480.8L418.0,478.6L418.5,478.1L419.0,479.3L419.5,473.8L420.0,473.2L420.5,473.0L421.0,478.0L421.5,478.2L422.0,477.3L422.5,475.1L423.0,474.8L423.5,476.2L424.0,476.7L424.5,476.1L425.0,474.5L425.5,475.0L426.0,477.1L426.5,477.9L427.0,477.9L427.5,478.2L428.0,477.8L428.5,476.4L429.0,477.3L429.5,476.9L430.0,476.6L430.5,477.6L431.0,476.7L431.5,476.8L432.0,477.2L432.5,477.0L433.0,476.3L433.5,472.5L434.0,472.7L434.5,477.3L435.0,476.7L435.5,476.8L436.0,476.3L436.5,476.8L437.0,478.5L437.5,478.6L438.0,477.2L438.5,476.3L439.0,471.8L439.5,473.4L440.0,480.6L440.5,481.8L441.0,479.6L441.5,477.3L442.0,477.9L442.5,479.0L443.0,477.0L443.5,477.1L444.0,477.6L444.5,475.9L445.0,473.6L445.5,474.2L446.0,475.1L446.5,473.3L447.0,469.1L447.5,465.5L448.0,463.4L448.5,460.3L449.0,456.7L449.5,448.2L450.0,449.6L450.5,460.1L451.0,464.4L451.5,466.8L452.0,465.4L452.5,461.8L453.0,461.1L453.5,463.6L454.0,462.6L454.5,463.7L455.0,462.9L455.5,460.2L456.0,461.5L456.5,463.7L457.0,466.3L457.5,466.1L458.0,467.2L458.5,467.9L459.0,468.4L459.5,468.6L460.0,469.1L460.5,469.4L461.0,467.0L461.5,466.2L462.0,464.4L462.5,463.7L463.0,464.8L463.5,466.7L464.0,465.8L464.5,465.7L465.0,463.6L465.5,463.5L466.0,463.6L466.5,462.4L467.0,463.3L467.5,459.5L468.0,461.4L468.5,463.4L469.0,461.0L469.5,459.4L470.0,459.6L470.5,459.4L471.0,457.7L471.5,457.8L472.0,459.2L472.5,458.7L473.0,456.8L473.5,457.5L474.0,457.6L474.5,453.4L475.0,455.8L475.5,457.7L476.0,461.4L476.5,460.2L477.0,459.7L477.5,461.0L478.0,462.7L478.5,459.3L479.0,456.8L479.5,461.3L480.0,460.1L480.5,459.9L481.0,462.4L481.5,463.5L482.0,463.6L482.5,463.5L483.0,462.3L483.5,461.5L484.0,462.7L484.5,462.7L485.0,463.7L485.5,464.7L486.0,461.5L486.5,461.8L487.0,464.5L487.5,464.7L488.0,464.2L488.5,464.5L489.0,463.6L489.5,453.4L490.0,450.2L490.5,453.7L491.0,453.5L491.5,454.4L492.0,451.8L492.5,445.2L493.0,446.9L493.5,448.7L494.0,450.5L494.5,451.1L495.0,452.1L495.5,451.5L496.0,452.7L496.5,440.5L497.0,443.1L497.5,454.0L498.0,456.8L498.5,458.4L499.0,458.8L499.5,458.1L500.0,456.5L500.5,457.7L501.0,459.0L501.5,459.3L502.0,457.0L502.5,456.5L503.0,457.3L503.5,461.0L504.0,463.4L504.5,462.5L505.0,462.4L505.5,463.9L506.0,463.1L506.5,462.9L507.0,464.5L507.5,464.0L508.0,463.5L508.5,464.1L509.0,465.0L509.5,465.3L510.0,464.4L510.5,464.9L511.0,466.2L511.5,460.5L512.0,465.4L512.5,466.1L513.0,466.1L513.5,460.4L514.0,459.4L514.5,466.6L515.0,465.0L515.5,463.9L516.0,464.1L516.5,465.6L517.0,464.7L517.5,464.1L518.0,462.2L518.5,460.5L519.0,459.9L519.5,459.0L520.0,457.5L520.5,458.2L521.0,460.3L521.5,459.1L522.0,456.8L522.5,455.4L523.0,456.4L523.5,457.1L524.0,456.8L524.5,456.6L525.0,457.0L525.5,456.1L526.0,456.7L526.5,456.6L527.0,456.4L527.5,456.9L528.0,455.8L528.5,453.6L529.0,452.2L529.5,452.9L530.0,451.5L530.5,449.6L531.0,448.8L531.5,449.7L532.0,448.5L532.5,445.4L533.0,443.4L533.5,443.9L534.0,441.9L534.5,437.8L535.0,440.5L535.5,443.6L536.0,446.3L536.5,447.9L537.0,444.7L537.5,452.6L538.0,454.4L538.5,456.7L539.0,448.7L539.5,449.2L540.0,457.2L540.5,456.7L541.0,457.0L541.5,458.0L542.0,456.6L542.5,456.1L543.0,456.2L543.5,455.6L544.0,456.3L544.5,455.6L545.0,454.4L545.5,454.9L546.0,455.3L546.5,455.3L547.0,454.5L547.5,450.3L548.0,443.7L548.5,441.7L549.0,443.9L549.5,425.3L550.0,398.1L550.5,411.8L551.0,439.2L551.5,441.3L552.0,444.0L552.5,446.9L553.0,449.8L553.5,447.6L554.0,445.6L554.5,445.0L555.0,444.4L555.5,444.6L556.0,443.2L556.5,440.4L557.0,439.2L557.5,437.6L558.0,438.7L558.5,436.2L559.0,431.5L559.5,428.2L560.0,424.3L560.5,419.5L561.0,415.5L561.5,411.2L562.0,407.0L562.5,401.9L563.0,401.2L563.5,406.0L564.0,411.1L564.5,416.4L565.0,418.0L565.5,415.8L566.0,412.4L566.5,404.8L567.0,404.0L567.5,410.6L568.0,421.0L568.5,424.6L569.0,427.3L569.5,423.6L570.0,425.0L570.5,434.9L571.0,437.9L571.5,440.8L572.0,436.1L572.5,430.7L573.0,428.6L573.5,422.4L574.0,423.6L574.5,419.6L575.0,406.6L575.5,393.0L576.0,380.0L576.5,370.4L577.0,376.4L577.5,384.4L578.0,386.9L578.5,391.7L579.0,399.4L579.5,399.0L580.0,405.5L580.5,418.0L581.0,416.8L581.5,417.0L582.0,413.5L582.5,410.9L583.0,408.4L583.5,425.3L584.0,430.6L584.5,434.7L585.0,437.3L585.5,438.6L586.0,437.9L586.5,439.1L587.0,439.6L587.5,441.0L588.0,443.1L588.5,444.4L589.0,442.3L589.5,428.5L590.0,438.8L590.5,439.4L591.0,437.5L591.5,435.9L592.0,435.6L592.5,432.7L593.0,428.5L593.5,421.0L594.0,415.7L594.5,417.0L595.0,416.8L595.5,407.8L596.0,405.9L596.5,410.4L597.0,404.1L597.5,401.6L598.0,404.1L598.5,400.6L599.0,400.4L599.5,399.6L600.0,397.0L600.5,392.5L601.0,380.5L601.5,375.6L602.0,377.7L602.5,361.1L603.0,349.1L603.5,361.6L604.0,374.6L604.5,377.4L605.0,382.8L605.5,393.6L606.0,398.9L606.5,401.4L607.0,405.7L607.5,404.5L608.0,405.7L608.5,414.9L609.0,410.0L609.5,415.4L610.0,430.0L610.5,436.7L611.0,440.4L611.5,441.9L612.0,445.2L612.5,450.2L613.0,449.1L613.5,450.7L614.0,450.9L614.5,454.1L615.0,454.8L615.5,455.4L616.0,450.1L616.5,452.8L617.0,457.3L617.5,458.1L618.0,454.8L618.5,454.9L619.0,456.3L619.5,457.3L620.0,456.8L620.5,458.3L621.0,461.6L621.5,461.4L622.0,461.0L622.5,463.3L623.0,465.6L623.5,467.1L624.0,468.2L624.5,464.6L625.0,462.5L625.5,467.0L626.0,460.4L626.5,460.9L627.0,467.8L627.5,466.8L628.0,465.6L628.5,466.1L629.0,465.5L629.5,464.1L630.0,465.8L630.5,467.2L631.0,467.7L631.5,468.4L632.0,469.7L632.5,470.7L633.0,467.9L633.5,467.6L634.0,468.7L634.5,472.6L635.0,472.8L635.5,472.3L636.0,473.4L636.5,473.4L637.0,474.6L637.5,475.8L638.0,474.2L638.5,472.5L639.0,472.7L639.5,475.1L640.0,475.3L640.5,475.6L641.0,476.1L641.5,475.2L642.0,474.7L642.5,475.3L643.0,477.3L643.5,477.8L644.0,477.3L644.5,475.8L645.0,475.3L645.5,475.2L646.0,474.2L646.5,475.4L647.0,475.2L647.5,475.2L648.0,475.7L648.5,474.2L649.0,476.4L649.5,475.6L650.0,476.4L650.5,476.4L651.0,475.4L651.5,473.4L652.0,474.4L652.5,474.6L653.0,473.5L653.5,472.9L654.0,472.8L654.5,474.4L655.0,474.8L655.5,475.2L656.0,475.4L656.5,475.8L657.0,475.9L657.5,476.3L658.0,474.5L658.5,474.2L659.0,477.2L659.5,476.1L660.0,475.6L660.5,477.8L661.0,478.2L661.5,476.4L662.0,476.4L662.5,476.9L663.0,475.0L663.5,474.1L664.0,474.9L664.5,473.8L665.0,473.6L665.5,473.7L666.0,474.3L666.5,466.6L667.0,467.4L667.5,472.7L668.0,472.9L668.5,467.7L669.0,464.4L669.5,471.6L670.0,473.6L670.5,472.4L671.0,470.9L671.5,470.1L672.0,468.7L672.5,469.5L673.0,472.2L673.5,475.7L674.0,476.9L674.5,477.8L675.0,481.9L675.5,484.0L676.0,481.9L676.5,480.9L677.0,482.8L677.5,481.7L678.0,482.4L678.5,481.7L679.0,480.7L679.5,481.4L680.0,484.7L680.5,483.1L681.0,481.6L681.5,481.5L682.0,481.3L682.5,483.0L683.0,483.9L683.5,483.8L684.0,482.2L684.5,481.3L685.0,479.9L685.5,481.1L686.0,482.9L686.5,480.9L687.0,480.8L687.5,482.6L688.0,482.5L688.5,482.0L689.0,481.6L689.5,483.1L690.0,485.0L690.5,483.1L691.0,483.8L691.5,483.0L692.0,481.6L692.5,481.5L693.0,479.9L693.5,481.9L694.0,480.1L694.5,479.0L695.0,479.3L695.5,479.7L696.0,479.4L696.5,477.5L697.0,476.8L697.5,477.4L698.0,475.6L698.5,475.4L699.0,475.6L699.5,475.1L700.0,474.5L700.5,472.4L701.0,471.8L701.5,473.6L702.0,476.3L702.5,475.5L703.0,473.4L703.5,470.1L704.0,465.6L704.5,460.8L705.0,452.8L705.5,450.1L706.0,456.5L706.5,459.1L707.0,459.7L707.5,460.9L708.0,459.1L708.5,458.1L709.0,459.9L709.5,457.1L710.0,455.8L710.5,459.9L711.0,461.9L711.5,463.0L712.0,466.1L712.5,466.5L713.0,462.7L713.5,459.3L714.0,455.8L714.5,452.8L715.0,451.1L715.5,451.3L716.0,448.6L716.5,451.5L717.0,454.9L717.5,461.8L718.0,461.0L718.5,461.6L719.0,464.7L719.5,467.0L720.0,467.5L720.5,466.8L721.0,466.5L721.5,466.8L722.0,465.4L722.5,463.8L723.0,462.6L723.5,464.7L724.0,466.6L724.5,467.1L725.0,468.2L725.5,468.4L726.0,467.3L726.5,467.5L727.0,468.4L727.5,462.7L728.0,461.6L728.5,468.0L729.0,467.7L729.5,466.8L730.0,468.3L730.5,469.7L731.0,471.1L731.5,469.5L732.0,472.6L732.5,474.6L733.0,473.4L733.5,472.0L734.0,474.6L734.5,476.7L735.0,477.0L735.5,475.8L736.0,474.7L736.5,472.5L737.0,471.3L737.5,472.5L738.0,472.4L738.5,467.8L739.0,465.5L739.5,463.2L740.0,464.4L740.5,462.2L741.0,461.1L741.5,463.9L742.0,469.6L742.5,472.7L743.0,473.6L743.5,471.4L744.0,472.3L744.5,474.8L745.0,476.1L745.5,476.4L746.0,475.1L746.5,476.9L747.0,477.0L747.5,475.8L748.0,476.7L748.5,476.5L749.0,475.3L749.5,477.1L750.0,478.6L750.5,477.1L751.0,476.5L751.5,477.8L752.0,476.7L752.5,472.8L753.0,471.4L753.5,471.8L754.0,471.1L754.5,469.6L755.0,467.2L755.5,468.5L756.0,468.4L756.5,467.8L757.0,468.0L757.5,464.2L758.0,464.4L758.5,466.4L759.0,464.8L759.5,460.5L760.0,456.1L760.5,456.3L761.0,460.3L761.5,462.1L762.0,456.8L762.5,456.2L763.0,463.5L763.5,462.6L764.0,466.6L764.5,467.4L765.0,468.0L765.5,469.6L766.0,468.4L766.5,468.5L767.0,467.7L767.5,465.5L768.0,463.3L768.5,465.0L769.0,465.8L769.5,468.7L770.0,472.5L770.5,473.0L771.0,474.0L771.5,474.4L772.0,472.5L772.5,471.9L773.0,474.1L773.5,475.6L774.0,477.0L774.5,472.6L775.0,468.9L775.5,467.8L776.0,467.3L776.5,464.7L777.0,461.3L777.5,458.0L778.0,462.0L778.5,464.7L779.0,463.8L779.5,463.0L780.0,463.8L780.5,468.1L781.0,468.3L781.5,462.6L782.0,464.0L782.5,464.0L783.0,469.6L783.5,472.1L784.0,473.2L784.5,470.0L785.0,469.1L785.5,470.9L786.0,470.6L786.5,468.1L787.0,469.8L787.5,470.2L788.0,471.8L788.5,472.5L789.0,473.1L789.5,472.7L790.0,473.8L790.5,475.0L791.0,475.1L791.5,473.1L792.0,472.3L792.5,473.1L793.0,473.1L793.5,472.8L794.0,468.3L794.5,467.7L795.0,465.1L795.5,465.1L796.0,461.7L796.5,455.5L797.0,454.7L797.5,459.9L798.0,461.6L798.5,462.2L799.0,461.8L799.5,463.1L800.0,463.1L800.5,463.1L801.0,462.0L801.5,461.4L802.0,461.7L802.5,462.3L803.0,462.9L803.5,466.0L804.0,467.7L804.5,467.3L805.0,467.5L805.5,467.1L806.0,466.5L806.5,465.3L807.0,464.2L807.5,466.9L808.0,469.2L808.5,468.2L809.0,465.8L809.5,464.8L810.0,461.6L810.5,462.8L811.0,460.5L811.5,456.7L812.0,452.9L812.5,448.9L813.0,452.3L813.5,451.3L814.0,451.4L814.5,451.0L815.0,446.4L815.5,444.6L816.0,441.6L816.5,443.2L817.0,443.4L817.5,443.9L818.0,443.3L818.5,440.2L819.0,438.5L819.5,439.2L820.0,442.9L820.5,439.9L821.0,438.9L821.5,441.3L822.0,439.6L822.5,437.9L823.0,434.1L823.5,423.1L824.0,413.0L824.5,402.1L825.0,398.0L825.5,395.8L826.0,393.9L826.5,393.7L827.0,396.1L827.5,399.0L828.0,405.7L828.5,413.7L829.0,420.4L829.5,436.2L830.0,448.8L830.5,452.8L831.0,452.7L831.5,446.1L832.0,449.4L832.5,447.2L833.0,439.3L833.5,428.2L834.0,419.9L834.5,416.4L835.0,411.4L835.5,408.6L836.0,406.1L836.5,407.5L837.0,410.7L837.5,415.3L838.0,428.0L838.5,428.4L839.0,432.5L839.5,442.6L840.0,441.9L840.5,441.8L841.0,430.2L841.5,432.2L842.0,438.6L842.5,440.4L843.0,440.2L843.5,440.4L844.0,442.0L844.5,442.0L845.0,442.6L845.5,438.2L846.0,442.8L846.5,431.2L847.0,434.8L847.5,445.1L848.0,446.6L848.5,438.3L849.0,447.6L849.5,449.1L850.0,450.0L850.5,451.7L851.0,450.5L851.5,453.1L852.0,453.8L852.5,452.9L853.0,455.1L853.5,454.4L854.0,454.1L854.5,451.8L855.0,453.9L855.5,461.6L856.0,463.7L856.5,465.5L857.0,465.9L857.5,470.1L858.0,469.5L858.5,464.2L859.0,466.5L859.5,465.6L860.0,471.1L860.5,473.2L861.0,474.7L861.5,474.2L862.0,472.9L862.5,472.9L863.0,475.4L863.5,475.9L864.0,474.3L864.5,474.5L865.0,475.7L865.5,474.6L866.0,471.2L866.5,469.7L867.0,470.6L867.5,466.5L868.0,464.2L868.5,459.2L869.0,465.0L869.5,471.3L870.0,470.6L870.5,467.6L871.0,467.2L871.5,467.1L872.0,465.7L872.5,467.5L873.0,467.4L873.5,464.7L874.0,467.7L874.5,468.1L875.0,467.9L875.5,467.2L876.0,468.8L876.5,469.7L877.0,468.9L877.5,464.4L878.0,467.4L878.5,465.2L879.0,464.3L879.5,464.4L880.0,461.4L880.5,458.8L881.0,453.4L881.5,454.8L882.0,460.8L882.5,456.2L883.0,453.3L883.5,453.1L884.0,452.4L884.5,452.7L885.0,446.0L885.5,446.9L886.0,443.7L886.5,443.9L887.0,445.9L887.5,447.0L888.0,433.8L888.5,436.9L889.0,435.3L889.5,447.5L890.0,451.6L890.5,453.0L891.0,454.3L891.5,454.7L892.0,452.5L892.5,454.1L893.0,453.9L893.5,456.4L894.0,457.5L894.5,458.5L895.0,459.5L895.5,460.4L896.0,462.3L896.5,465.4L897.0,466.4L897.5,462.6L898.0,467.4L898.5,465.7L899.0,467.4L899.5,469.3L900.0,469.9L900.5,471.6L901.0,472.8L901.5,474.0L902.0,470.4L902.5,469.9L903.0,471.8L903.5,470.6L904.0,470.4L904.5,469.4L905.0,468.4L905.5,466.4L906.0,465.5L906.5,468.0L907.0,470.2L907.5,469.5L908.0,468.1L908.5,469.0L909.0,471.3L909.5,470.3L910.0,468.3L910.5,465.8L911.0,460.4L911.5,463.1L912.0,468.3L912.5,472.2L913.0,471.2L913.5,470.9L914.0,470.3L914.5,468.1L915.0,467.1L915.5,464.9L916.0,465.0L916.5,466.5L917.0,466.9L917.5,466.7L918.0,468.3L918.5,470.5L919.0,470.2L919.5,470.3L920.0,470.8L920.5,471.2L921.0,471.9L921.5,472.0L922.0,470.8L922.5,469.6L923.0,469.3L923.5,471.0L924.0,470.7L924.5,466.8L925.0,464.0L925.5,462.3L926.0,463.4L926.5,468.8L927.0,472.3L927.5,473.8L928.0,476.7L928.5,477.0L929.0,475.2L929.5,474.7L930.0,473.1L930.5,472.6L931.0,474.6L931.5,476.4L932.0,475.0L932.5,474.9L933.0,475.9L933.5,476.5L934.0,476.4L934.5,474.9L935.0,476.0L935.5,475.5L936.0,477.1L936.5,477.9L937.0,478.7L937.5,480.8L938.0,482.3L938.5,482.5L939.0,481.9L939.5,477.4L940.0,480.4L940.5,479.8L941.0,481.8L941.5,482.3L942.0,481.0L942.5,481.3L943.0,482.3L943.5,482.2L944.0,481.3L944.5,481.9L945.0,482.5L945.5,481.4L946.0,481.7L946.5,475.4L947.0,477.6L947.5,484.7L948.0,482.2L948.5,482.2L949.0,484.3L949.5,483.2L950.0,483.9L950.5,484.3L951.0,485.1L951.5,483.8L952.0,482.9L952.5,483.2L953.0,484.0L953.5,483.4L954.0,484.5L954.5,481.4L955.0,481.2L955.5,486.1L956.0,486.2L956.5,484.5L957.0,484.5L957.5,486.3L958.0,485.6L958.5,483.2L959.0,483.9L959.5,483.6L959.5,491.9L959.0,491.3L958.5,491.3L958.0,491.2L957.5,491.0L957.0,491.4L956.5,491.3L956.0,491.4L955.5,491.3L955.0,491.0L954.5,491.1L954.0,490.9L953.5,490.8L953.0,491.0L952.5,491.3L952.0,491.0L951.5,491.2L951.0,490.8L950.5,487.8L950.0,489.1L949.5,488.3L949.0,491.0L948.5,491.0L948.0,491.0L947.5,490.7L947.0,490.4L946.5,490.3L946.0,490.1L945.5,489.9L945.0,489.9L944.5,490.4L944.0,490.6L943.5,490.5L943.0,490.6L942.5,490.5L942.0,490.9L941.5,490.2L941.0,489.9L940.5,490.8L940.0,489.2L939.5,487.9L939.0,488.2L938.5,490.0L938.0,490.6L937.5,489.8L937.0,488.7L936.5,489.5L936.0,489.3L935.5,488.5L935.0,489.7L934.5,488.0L934.0,487.6L933.5,488.6L933.0,488.5L932.5,489.2L932.0,489.2L931.5,486.9L931.0,486.2L930.5,487.6L930.0,487.4L929.5,486.0L929.0,486.6L928.5,487.2L928.0,485.6L927.5,486.1L927.0,488.3L926.5,487.6L926.0,487.6L925.5,488.0L925.0,486.6L924.5,487.0L924.0,487.3L923.5,485.3L923.0,481.6L922.5,486.4L922.0,486.0L921.5,483.1L921.0,483.2L920.5,485.8L920.0,484.6L919.5,484.2L919.0,484.1L918.5,484.1L918.0,480.2L917.5,482.0L917.0,481.6L916.5,486.6L916.0,484.0L915.5,483.5L915.0,485.8L914.5,484.4L914.0,483.8L913.5,484.3L913.0,484.6L912.5,485.0L912.0,481.9L911.5,482.1L911.0,484.9L910.5,485.5L910.0,485.3L909.5,482.5L909.0,485.3L908.5,484.7L908.0,486.3L907.5,486.3L907.0,480.3L906.5,481.2L906.0,479.6L905.5,487.2L905.0,485.6L904.5,485.3L904.0,482.8L903.5,485.6L903.0,482.1L902.5,480.8L902.0,484.8L901.5,486.0L901.0,485.5L900.5,484.3L900.0,481.0L899.5,486.4L899.0,486.1L898.5,482.1L898.0,480.5L897.5,480.8L897.0,483.6L896.5,483.7L896.0,484.3L895.5,484.7L895.0,484.0L894.5,481.7L894.0,480.7L893.5,481.7L893.0,482.3L892.5,481.4L892.0,479.9L891.5,479.9L891.0,481.1L890.5,481.4L890.0,480.0L889.5,480.2L889.0,480.3L888.5,475.7L888.0,474.2L887.5,474.0L887.0,478.5L886.5,477.7L886.0,478.5L885.5,479.8L885.0,480.9L884.5,480.0L884.0,480.7L883.5,481.0L883.0,474.5L882.5,475.7L882.0,482.1L881.5,481.4L881.0,476.6L880.5,481.9L880.0,479.5L879.5,482.6L879.0,482.3L878.5,484.8L878.0,482.9L877.5,479.5L877.0,480.2L876.5,484.3L876.0,484.9L875.5,484.8L875.0,478.6L874.5,486.2L874.0,486.5L873.5,484.9L873.0,482.2L872.5,481.2L872.0,485.0L871.5,485.6L871.0,486.0L870.5,485.9L870.0,482.6L869.5,484.3L869.0,485.3L868.5,483.4L868.0,486.8L867.5,487.6L867.0,487.8L866.5,486.7L866.0,487.1L865.5,487.2L865.0,489.4L864.5,489.6L864.0,487.5L863.5,486.6L863.0,487.3L862.5,488.2L862.0,488.0L861.5,487.2L861.0,488.5L860.5,488.0L860.0,486.5L859.5,485.9L859.0,485.5L858.5,487.0L858.0,487.0L857.5,486.5L857.0,484.9L856.5,486.3L856.0,487.5L855.5,486.5L855.0,486.0L854.5,486.0L854.0,484.8L853.5,485.8L853.0,486.0L852.5,483.1L852.0,483.3L851.5,484.5L851.0,479.2L850.5,478.1L850.0,482.5L849.5,482.8L849.0,481.3L848.5,481.6L848.0,482.8L847.5,480.2L847.0,480.4L846.5,479.0L846.0,480.2L845.5,481.4L845.0,474.9L844.5,474.1L844.0,481.2L843.5,477.8L843.0,477.8L842.5,481.3L842.0,478.5L841.5,477.9L841.0,481.1L840.5,476.6L840.0,480.3L839.5,479.4L839.0,478.5L838.5,478.1L838.0,476.8L837.5,474.9L837.0,473.5L836.5,468.2L836.0,468.2L835.5,474.5L835.0,475.2L834.5,469.7L834.0,471.7L833.5,475.6L833.0,472.6L832.5,476.7L832.0,477.5L831.5,478.9L831.0,479.5L830.5,479.5L830.0,479.3L829.5,475.6L829.0,479.2L828.5,476.5L828.0,469.1L827.5,471.6L827.0,471.4L826.5,471.9L826.0,472.4L825.5,468.9L825.0,471.2L824.5,475.9L824.0,476.6L823.5,477.5L823.0,478.4L822.5,474.0L822.0,475.6L821.5,479.7L821.0,479.0L820.5,479.2L820.0,479.6L819.5,480.4L819.0,481.9L818.5,482.1L818.0,482.6L817.5,482.1L817.0,482.0L816.5,482.7L816.0,483.9L815.5,482.6L815.0,482.5L814.5,483.9L814.0,484.0L813.5,484.7L813.0,485.0L812.5,483.9L812.0,485.0L811.5,484.5L811.0,484.4L810.5,485.0L810.0,483.7L809.5,484.9L809.0,486.1L808.5,486.1L808.0,485.5L807.5,483.5L807.0,483.1L806.5,483.5L806.0,485.2L805.5,487.7L805.0,487.5L804.5,483.0L804.0,486.1L803.5,486.8L803.0,483.7L802.5,483.3L802.0,487.0L801.5,486.8L801.0,486.9L800.5,487.9L800.0,487.9L799.5,488.0L799.0,486.9L798.5,487.9L798.0,488.2L797.5,487.8L797.0,487.0L796.5,482.9L796.0,482.9L795.5,487.9L795.0,485.6L794.5,485.6L794.0,488.4L793.5,486.0L793.0,485.1L792.5,485.0L792.0,485.1L791.5,483.8L791.0,486.9L790.5,486.7L790.0,484.9L789.5,486.6L789.0,485.8L788.5,487.4L788.0,487.6L787.5,487.8L787.0,488.2L786.5,488.4L786.0,487.5L785.5,487.0L785.0,488.1L784.5,489.5L784.0,488.4L783.5,487.5L783.0,488.3L782.5,488.2L782.0,489.1L781.5,488.8L781.0,488.3L780.5,488.1L780.0,487.2L779.5,483.6L779.0,483.9L778.5,487.5L778.0,487.8L777.5,488.1L777.0,487.5L776.5,487.1L776.0,488.0L775.5,486.0L775.0,487.0L774.5,486.8L774.0,487.7L773.5,486.6L773.0,487.2L772.5,487.8L772.0,485.7L771.5,486.1L771.0,489.1L770.5,489.7L770.0,488.9L769.5,487.4L769.0,485.5L768.5,486.3L768.0,488.0L767.5,486.8L767.0,481.2L766.5,482.5L766.0,486.7L765.5,487.6L765.0,487.0L764.5,486.2L764.0,486.9L763.5,485.7L763.0,484.5L762.5,486.6L762.0,486.8L761.5,485.9L761.0,486.4L760.5,487.0L760.0,487.5L759.5,486.5L759.0,487.4L758.5,486.6L758.0,480.8L757.5,481.6L757.0,487.0L756.5,486.4L756.0,486.9L755.5,484.5L755.0,484.6L754.5,486.5L754.0,486.6L753.5,487.3L753.0,486.5L752.5,485.6L752.0,487.4L751.5,487.9L751.0,487.8L750.5,487.9L750.0,488.2L749.5,487.3L749.0,487.7L748.5,488.1L748.0,487.5L747.5,486.7L747.0,486.8L746.5,489.0L746.0,489.2L745.5,488.6L745.0,488.1L744.5,488.5L744.0,488.3L743.5,488.3L743.0,488.6L742.5,487.9L742.0,488.1L741.5,486.5L741.0,485.7L740.5,485.9L740.0,487.6L739.5,487.0L739.0,486.8L738.5,487.3L738.0,486.5L737.5,486.4L737.0,487.6L736.5,488.3L736.0,488.3L735.5,487.0L735.0,486.4L734.5,485.8L734.0,486.0L733.5,488.2L733.0,488.4L732.5,486.8L732.0,486.9L731.5,486.8L731.0,486.8L730.5,486.7L730.0,481.5L729.5,487.2L729.0,485.8L728.5,485.4L728.0,487.0L727.5,487.4L727.0,486.8L726.5,486.5L726.0,486.9L725.5,487.6L725.0,487.6L724.5,486.6L724.0,487.3L723.5,488.4L723.0,488.2L722.5,486.8L722.0,481.7L721.5,479.5L721.0,486.4L720.5,487.0L720.0,487.0L719.5,484.6L719.0,484.1L718.5,484.0L718.0,485.4L717.5,484.9L717.0,484.9L716.5,484.2L716.0,482.5L715.5,482.1L715.0,482.1L714.5,482.7L714.0,480.3L713.5,479.3L713.0,483.6L712.5,483.6L712.0,485.1L711.5,483.6L711.0,485.7L710.5,487.6L710.0,487.8L709.5,487.5L709.0,487.5L708.5,487.2L708.0,487.2L707.5,487.2L707.0,488.2L706.5,486.8L706.0,487.4L705.5,487.7L705.0,487.4L704.5,488.6L704.0,488.1L703.5,486.7L703.0,485.8L702.5,487.0L702.0,486.2L701.5,488.9L701.0,488.9L700.5,485.7L700.0,485.8L699.5,486.6L699.0,481.9L698.5,483.6L698.0,486.0L697.5,485.9L697.0,485.5L696.5,485.8L696.0,486.6L695.5,483.1L695.0,483.8L694.5,487.0L694.0,486.7L693.5,487.2L693.0,487.7L692.5,487.5L692.0,487.1L691.5,487.5L691.0,487.8L690.5,483.6L690.0,490.6L689.5,488.9L689.0,488.8L688.5,489.8L688.0,490.7L687.5,491.1L687.0,490.1L686.5,489.8L686.0,487.8L685.5,488.6L685.0,488.9L684.5,490.2L684.0,491.3L683.5,490.8L683.0,490.4L682.5,490.4L682.0,490.2L681.5,489.9L681.0,490.0L680.5,489.9L680.0,489.9L679.5,490.1L679.0,490.9L678.5,490.9L678.0,490.7L677.5,491.1L677.0,491.0L676.5,491.8L676.0,491.5L675.5,490.8L675.0,490.6L674.5,490.5L674.0,490.9L673.5,490.7L673.0,489.9L672.5,490.2L672.0,490.4L671.5,490.1L671.0,490.5L670.5,490.2L670.0,486.5L669.5,486.2L669.0,489.4L668.5,489.4L668.0,488.0L667.5,488.0L667.0,490.1L666.5,491.1L666.0,490.9L665.5,489.9L665.0,490.5L664.5,491.2L664.0,490.2L663.5,489.6L663.0,489.8L662.5,490.1L662.0,483.7L661.5,484.0L661.0,484.4L660.5,489.3L660.0,488.6L659.5,489.2L659.0,490.0L658.5,489.8L658.0,488.8L657.5,490.0L657.0,489.9L656.5,488.4L656.0,488.9L655.5,489.3L655.0,489.5L654.5,489.7L654.0,489.5L653.5,489.6L653.0,488.7L652.5,489.1L652.0,488.4L651.5,488.6L651.0,488.6L650.5,488.0L650.0,485.0L649.5,486.2L649.0,488.5L648.5,486.4L648.0,485.8L647.5,486.5L647.0,489.9L646.5,484.7L646.0,484.0L645.5,483.8L645.0,487.9L644.5,487.7L644.0,488.7L643.5,486.1L643.0,486.1L642.5,488.2L642.0,487.2L641.5,487.8L641.0,489.4L640.5,489.4L640.0,488.7L639.5,488.8L639.0,486.5L638.5,487.5L638.0,489.7L637.5,488.3L637.0,484.5L636.5,487.7L636.0,487.3L635.5,485.2L635.0,484.6L634.5,487.2L634.0,487.0L633.5,486.4L633.0,487.3L632.5,487.2L632.0,486.3L631.5,486.7L631.0,487.0L630.5,485.6L630.0,485.7L629.5,486.4L629.0,486.5L628.5,486.9L628.0,484.8L627.5,485.7L627.0,485.9L626.5,485.7L626.0,487.0L625.5,487.0L625.0,487.1L624.5,484.6L624.0,487.1L623.5,487.6L623.0,485.9L622.5,485.9L622.0,486.9L621.5,487.1L621.0,487.2L620.5,486.1L620.0,485.0L619.5,481.5L619.0,481.5L618.5,482.2L618.0,485.8L617.5,486.4L617.0,479.5L616.5,478.1L616.0,484.7L615.5,479.9L615.0,482.7L614.5,482.4L614.0,483.3L613.5,482.3L613.0,479.8L612.5,481.3L612.0,482.9L611.5,479.6L611.0,479.4L610.5,480.7L610.0,479.3L609.5,478.3L609.0,477.2L608.5,476.7L608.0,476.4L607.5,475.6L607.0,474.7L606.5,469.8L606.0,467.9L605.5,469.9L605.0,468.3L604.5,460.9L604.0,465.4L603.5,463.7L603.0,459.5L602.5,457.8L602.0,459.4L601.5,461.5L601.0,461.6L600.5,457.6L600.0,466.9L599.5,466.9L599.0,468.1L598.5,466.5L598.0,467.2L597.5,471.9L597.0,470.9L596.5,470.4L596.0,471.7L595.5,471.6L595.0,464.7L594.5,467.1L594.0,473.1L593.5,472.8L593.0,473.6L592.5,469.4L592.0,470.8L591.5,475.7L591.0,473.0L590.5,474.1L590.0,478.5L589.5,479.1L589.0,480.1L588.5,479.4L588.0,478.1L587.5,476.6L587.0,477.2L586.5,476.4L586.0,478.9L585.5,479.9L585.0,479.0L584.5,477.3L584.0,469.6L583.5,470.6L583.0,476.1L582.5,475.6L582.0,469.2L581.5,467.9L581.0,472.7L580.5,471.6L580.0,464.5L579.5,464.0L579.0,469.8L578.5,468.3L578.0,462.2L577.5,462.1L577.0,464.4L576.5,462.9L576.0,455.2L575.5,453.0L575.0,463.5L574.5,462.3L574.0,463.7L573.5,466.2L573.0,471.4L572.5,473.4L572.0,470.6L571.5,470.2L571.0,469.2L570.5,473.2L570.0,473.3L569.5,473.3L569.0,474.0L568.5,475.6L568.0,470.2L567.5,468.0L567.0,471.4L566.5,472.2L566.0,471.4L565.5,470.2L565.0,463.5L564.5,462.9L564.0,461.0L563.5,465.8L563.0,458.5L562.5,459.5L562.0,466.1L561.5,465.3L561.0,469.7L560.5,470.7L560.0,470.3L559.5,470.8L559.0,473.4L558.5,474.2L558.0,474.1L557.5,474.4L557.0,474.7L556.5,475.1L556.0,475.2L555.5,476.3L555.0,477.1L554.5,474.2L554.0,474.1L553.5,475.0L553.0,478.2L552.5,478.0L552.0,478.7L551.5,479.5L551.0,476.6L550.5,477.6L550.0,475.1L549.5,478.7L549.0,475.4L548.5,473.8L548.0,478.6L547.5,480.0L547.0,474.4L546.5,475.1L546.0,480.6L545.5,477.6L545.0,480.7L544.5,481.2L544.0,480.7L543.5,477.3L543.0,477.6L542.5,478.7L542.0,482.0L541.5,476.8L541.0,477.2L540.5,475.6L540.0,482.4L539.5,481.9L539.0,480.8L538.5,475.8L538.0,477.4L537.5,476.0L537.0,481.6L536.5,480.9L536.0,480.0L535.5,478.9L535.0,471.5L534.5,467.7L534.0,471.1L533.5,477.8L533.0,474.6L532.5,480.0L532.0,480.6L531.5,478.6L531.0,481.4L530.5,482.7L530.0,483.2L529.5,482.3L529.0,482.2L528.5,483.5L528.0,483.7L527.5,484.5L527.0,484.3L526.5,485.5L526.0,482.4L525.5,484.9L525.0,484.2L524.5,484.7L524.0,485.0L523.5,485.6L523.0,481.6L522.5,480.1L522.0,486.4L521.5,486.2L521.0,484.4L520.5,484.8L520.0,486.8L519.5,486.8L519.0,487.9L518.5,483.1L518.0,487.0L517.5,487.4L517.0,488.7L516.5,487.8L516.0,488.2L515.5,487.0L515.0,487.2L514.5,487.2L514.0,486.9L513.5,485.2L513.0,488.2L512.5,487.9L512.0,484.9L511.5,484.0L511.0,484.7L510.5,486.9L510.0,486.0L509.5,487.2L509.0,486.8L508.5,485.3L508.0,484.4L507.5,485.4L507.0,487.2L506.5,486.7L506.0,486.4L505.5,487.9L505.0,487.3L504.5,484.3L504.0,485.8L503.5,485.1L503.0,485.4L502.5,486.7L502.0,485.8L501.5,486.4L501.0,486.2L500.5,480.7L500.0,480.6L499.5,485.6L499.0,484.9L498.5,479.3L498.0,480.5L497.5,478.4L497.0,482.5L496.5,483.1L496.0,479.6L495.5,481.8L495.0,480.3L494.5,479.7L494.0,478.5L493.5,478.0L493.0,477.9L492.5,478.1L492.0,474.7L491.5,475.0L491.0,475.1L490.5,481.2L490.0,482.2L489.5,484.1L489.0,484.7L488.5,479.8L488.0,478.5L487.5,483.5L487.0,479.3L486.5,484.9L486.0,484.6L485.5,483.6L485.0,476.2L484.5,478.3L484.0,486.3L483.5,484.3L483.0,482.4L482.5,484.3L482.0,485.0L481.5,486.6L481.0,486.1L480.5,485.8L480.0,482.6L479.5,483.4L479.0,483.8L478.5,484.9L478.0,484.8L477.5,485.0L477.0,482.1L476.5,481.1L476.0,483.9L475.5,484.4L475.0,484.6L474.5,481.7L474.0,481.3L473.5,482.6L473.0,483.0L472.5,484.0L472.0,484.4L471.5,477.6L471.0,483.8L470.5,483.8L470.0,479.4L469.5,479.3L469.0,479.6L468.5,485.7L468.0,484.5L467.5,483.4L467.0,482.8L466.5,485.7L466.0,486.3L465.5,484.8L465.0,484.4L464.5,485.0L464.0,485.4L463.5,485.6L463.0,484.7L462.5,485.2L462.0,486.5L461.5,486.2L461.0,480.9L460.5,482.7L460.0,486.3L459.5,486.1L459.0,486.1L458.5,486.9L458.0,486.6L457.5,484.9L457.0,483.1L456.5,485.6L456.0,486.4L455.5,485.9L455.0,483.8L454.5,482.2L454.0,485.6L453.5,486.9L453.0,485.9L452.5,484.9L452.0,485.5L451.5,484.9L451.0,484.8L450.5,485.3L450.0,475.6L449.5,472.0L449.0,472.3L448.5,480.5L448.0,477.4L447.5,483.4L447.0,479.0L446.5,480.5L446.0,480.3L445.5,486.3L445.0,487.8L444.5,486.6L444.0,486.7L443.5,488.7L443.0,487.7L442.5,486.1L442.0,487.6L441.5,488.1L441.0,487.3L440.5,487.0L440.0,484.6L439.5,484.3L439.0,487.3L438.5,487.5L438.0,487.0L437.5,487.5L437.0,487.7L436.5,488.2L436.0,487.6L435.5,488.1L435.0,488.3L434.5,488.0L434.0,487.8L433.5,488.0L433.0,487.3L432.5,488.2L432.0,487.4L431.5,486.3L431.0,486.7L430.5,485.3L430.0,488.8L429.5,488.7L429.0,488.4L428.5,487.7L428.0,489.6L427.5,491.2L427.0,481.8L426.5,482.4L426.0,489.7L425.5,489.1L425.0,489.3L424.5,489.4L424.0,488.8L423.5,488.7L423.0,489.1L422.5,489.5L422.0,488.8L421.5,488.3L421.0,489.6L420.5,490.2L420.0,490.1L419.5,490.5L419.0,490.9L418.5,490.5L418.0,490.2L417.5,489.7L417.0,490.0L416.5,490.5L416.0,489.8L415.5,490.9L415.0,490.6L414.5,491.0L414.0,491.2L413.5,491.2L413.0,491.2L412.5,491.1L412.0,491.4L411.5,491.0L411.0,490.9L410.5,489.8L410.0,490.5L409.5,491.5L409.0,491.2L408.5,491.0L408.0,490.8L407.5,490.8L407.0,491.0L406.5,489.0L406.0,489.8L405.5,489.7L405.0,491.6L404.5,491.1L404.0,491.4L403.5,490.0L403.0,488.4L402.5,488.0L402.0,491.1L401.5,491.5L401.0,487.8L400.5,488.3L400.0,491.4L399.5,491.5L399.0,491.1L398.5,491.2L398.0,491.6L397.5,491.4L397.0,490.8L396.5,490.9L396.0,491.1L395.5,491.3L395.0,491.2L394.5,490.8L394.0,491.2L393.5,490.8L393.0,490.6L392.5,490.1L392.0,490.1L391.5,490.5L391.0,490.5L390.5,490.8L390.0,491.2L389.5,491.0L389.0,490.6L388.5,491.0L388.0,491.6L387.5,491.4L387.0,491.3L386.5,490.9L386.0,490.2L385.5,489.0L385.0,488.7L384.5,489.2L384.0,490.1L383.5,490.1L383.0,490.0L382.5,489.3L382.0,489.7L381.5,490.2L381.0,489.4L380.5,489.4L380.0,489.9L379.5,490.0L379.0,490.2L378.5,490.0L378.0,489.9L377.5,490.2L377.0,490.1L376.5,487.9L376.0,489.1L375.5,490.6L375.0,490.7L374.5,490.9L374.0,490.9L373.5,490.9L373.0,491.0L372.5,490.3L372.0,490.0L371.5,490.5L371.0,490.6L370.5,489.5L370.0,490.5L369.5,490.5L369.0,489.3L368.5,489.3L368.0,490.3L367.5,490.8L367.0,487.6L366.5,488.8L366.0,487.3L365.5,489.4L365.0,490.0L364.5,489.9L364.0,488.2L363.5,487.9L363.0,488.4L362.5,489.9L362.0,489.7L361.5,490.1L361.0,490.4L360.5,490.3L360.0,490.8L359.5,491.0L359.0,490.8L358.5,489.7L358.0,491.1L357.5,487.3L357.0,486.9L356.5,484.6L356.0,489.4L355.5,489.7L355.0,490.2L354.5,490.8L354.0,490.2L353.5,490.2L353.0,489.3L352.5,489.4L352.0,490.1L351.5,490.7L351.0,490.3L350.5,489.8L350.0,490.0L349.5,490.3L349.0,490.2L348.5,490.8L348.0,490.9L347.5,490.5L347.0,490.2L346.5,489.4L346.0,489.1L345.5,489.8L345.0,490.6L344.5,492.0L344.0,491.3L343.5,490.1L343.0,491.1L342.5,491.0L342.0,490.9L341.5,491.1L341.0,490.4L340.5,490.7L340.0,490.7L339.5,490.4L339.0,490.3L338.5,489.5L338.0,487.8L337.5,489.8L337.0,489.2L336.5,489.2L336.0,489.4L335.5,490.5L335.0,489.7L334.5,488.5L334.0,487.5L333.5,488.7L333.0,488.9L332.5,488.0L332.0,488.5L331.5,486.3L331.0,485.8L330.5,487.7L330.0,488.8L329.5,488.6L329.0,488.2L328.5,488.4L328.0,488.4L327.5,486.1L327.0,485.4L326.5,486.6L326.0,482.7L325.5,485.9L325.0,482.7L324.5,484.6L324.0,488.4L323.5,484.1L323.0,488.0L322.5,486.3L322.0,486.8L321.5,487.5L321.0,486.7L320.5,485.5L320.0,485.3L319.5,479.5L319.0,479.4L318.5,484.4L318.0,483.9L317.5,482.9L317.0,483.5L316.5,485.1L316.0,483.6L315.5,483.1L315.0,483.0L314.5,477.1L314.0,482.8L313.5,475.0L313.0,474.9L312.5,473.5L312.0,478.3L311.5,475.8L311.0,474.7L310.5,473.3L310.0,469.4L309.5,466.3L309.0,462.6L308.5,459.2L308.0,456.1L307.5,452.5L307.0,449.1L306.5,449.2L306.0,454.1L305.5,459.7L305.0,458.2L304.5,460.7L304.0,467.4L303.5,470.0L303.0,463.9L302.5,464.6L302.0,472.4L301.5,470.1L301.0,470.7L300.5,476.1L300.0,475.4L299.5,476.6L299.0,478.1L298.5,472.1L298.0,474.3L297.5,473.1L297.0,481.0L296.5,480.9L296.0,481.0L295.5,482.4L295.0,482.3L294.5,480.1L294.0,479.5L293.5,481.6L293.0,478.8L292.5,477.2L292.0,477.2L291.5,481.2L291.0,481.1L290.5,481.9L290.0,481.9L289.5,479.1L289.0,480.6L288.5,480.5L288.0,482.3L287.5,483.4L287.0,482.8L286.5,483.2L286.0,483.5L285.5,483.5L285.0,483.5L284.5,483.4L284.0,484.0L283.5,484.7L283.0,484.5L282.5,483.1L282.0,484.2L281.5,486.4L281.0,486.9L280.5,486.2L280.0,485.7L279.5,484.9L279.0,485.0L278.5,484.7L278.0,484.3L277.5,484.8L277.0,484.7L276.5,483.6L276.0,482.7L275.5,482.9L275.0,482.3L274.5,476.2L274.0,476.9L273.5,477.5L273.0,480.4L272.5,481.4L272.0,478.3L271.5,478.7L271.0,473.4L270.5,476.5L270.0,479.3L269.5,477.3L269.0,472.5L268.5,471.7L268.0,477.6L267.5,478.0L267.0,474.9L266.5,474.8L266.0,473.6L265.5,471.9L265.0,468.7L264.5,466.4L264.0,464.5L263.5,458.2L263.0,456.3L262.5,455.1L262.0,450.1L261.5,442.6L261.0,443.3L260.5,428.3L260.0,422.1L259.5,430.8L259.0,432.5L258.5,439.5L258.0,436.1L257.5,443.8L257.0,439.9L256.5,445.3L256.0,447.2L255.5,446.2L255.0,447.2L254.5,448.4L254.0,451.9L253.5,447.4L253.0,445.7L252.5,448.0L252.0,455.1L251.5,456.1L251.0,455.1L250.5,454.8L250.0,453.6L249.5,455.1L249.0,459.1L248.5,459.1L248.0,452.0L247.5,454.1L247.0,460.4L246.5,457.1L246.0,463.2L245.5,454.5L245.0,458.3L244.5,466.4L244.0,461.9L243.5,462.2L243.0,463.4L242.5,472.1L242.0,473.6L241.5,473.3L241.0,474.1L240.5,475.0L240.0,476.0L239.5,476.5L239.0,476.5L238.5,477.8L238.0,473.0L237.5,473.8L237.0,480.3L236.5,479.6L236.0,478.1L235.5,479.2L235.0,480.8L234.5,481.3L234.0,481.8L233.5,482.3L233.0,482.5L232.5,483.4L232.0,479.5L231.5,478.6L231.0,476.9L230.5,479.7L230.0,473.2L229.5,474.3L229.0,474.3L228.5,481.0L228.0,479.1L227.5,476.6L227.0,477.2L226.5,479.1L226.0,478.2L225.5,469.7L225.0,468.4L224.5,475.7L224.0,475.1L223.5,472.7L223.0,466.6L222.5,463.6L222.0,468.3L221.5,462.5L221.0,460.4L220.5,470.3L220.0,471.7L219.5,468.0L219.0,474.9L218.5,473.7L218.0,472.5L217.5,472.7L217.0,472.2L216.5,471.4L216.0,467.2L215.5,465.1L215.0,462.3L214.5,465.2L214.0,460.4L213.5,459.4L213.0,461.8L212.5,466.6L212.0,469.7L211.5,472.2L211.0,471.8L210.5,473.3L210.0,475.4L209.5,476.1L209.0,476.8L208.5,477.2L208.0,478.2L207.5,479.3L207.0,479.6L206.5,478.7L206.0,478.3L205.5,480.3L205.0,477.9L204.5,478.4L204.0,481.6L203.5,482.0L203.0,482.2L202.5,481.6L202.0,481.6L201.5,482.8L201.0,483.5L200.5,483.7L200.0,483.4L199.5,482.5L199.0,483.2L198.5,484.5L198.0,485.7L197.5,486.4L197.0,486.7L196.5,485.9L196.0,485.9L195.5,486.7L195.0,483.7L194.5,484.3L194.0,487.4L193.5,486.5L193.0,487.0L192.5,485.6L192.0,484.7L191.5,485.4L191.0,486.9L190.5,487.6L190.0,488.6L189.5,485.5L189.0,485.4L188.5,488.6L188.0,483.3L187.5,482.4L187.0,482.4L186.5,486.5L186.0,487.8L185.5,488.3L185.0,487.6L184.5,486.0L184.0,483.8L183.5,482.6L183.0,486.9L182.5,487.5L182.0,487.2L181.5,487.9L181.0,484.0L180.5,486.5L180.0,486.8L179.5,485.5L179.0,486.1L178.5,488.8L178.0,489.3L177.5,488.4L177.0,487.0L176.5,488.0L176.0,485.7L175.5,486.3L175.0,486.1L174.5,489.2L174.0,488.8L173.5,487.5L173.0,489.2L172.5,489.4L172.0,489.5L171.5,489.3L171.0,489.2L170.5,488.9L170.0,484.4L169.5,485.1L169.0,487.6L168.5,484.6L168.0,484.9L167.5,486.3L167.0,481.8L166.5,482.8L166.0,481.2L165.5,482.7L165.0,481.8L164.5,476.6L164.0,475.1L163.5,481.7L163.0,481.5L162.5,480.2L162.0,479.6L161.5,479.1L161.0,479.9L160.5,479.9L160.0,480.1L159.5,474.1L159.0,473.9L158.5,481.6L158.0,485.3L157.5,487.8L157.0,490.2L156.5,492.1L156.0,491.8L155.5,490.8L155.0,490.9L154.5,490.1L154.0,491.3L153.5,491.7L153.0,491.8L152.5,491.5L152.0,490.9L151.5,490.7L151.0,491.1L150.5,490.9L150.0,491.0L149.5,491.2L149.0,490.7L148.5,490.5L148.0,491.2L147.5,491.5L147.0,489.5L146.5,488.2L146.0,489.1L145.5,490.5L145.0,489.5L144.5,489.2L144.0,489.0L143.5,487.8L143.0,487.8L142.5,487.8L142.0,485.8L141.5,485.6L141.0,486.8L140.5,487.1L140.0,485.1L139.5,486.5L139.0,483.0L138.5,487.4L138.0,487.2L137.5,481.4L137.0,478.8L136.5,480.2L136.0,483.9L135.5,483.4L135.0,482.8L134.5,479.4L134.0,478.7L133.5,481.1L133.0,477.4L132.5,479.6L132.0,476.9L131.5,476.1L131.0,474.6L130.5,471.8L130.0,469.3L129.5,466.6L129.0,463.8L128.5,461.5L128.0,456.2L127.5,449.6L127.0,444.2L126.5,445.3L126.0,446.5L125.5,448.1L125.0,447.3L124.5,450.7L124.0,458.3L123.5,459.2L123.0,462.6L122.5,466.2L122.0,467.1L121.5,469.4L121.0,468.1L120.5,472.1L120.0,469.5L119.5,470.7L119.0,474.0L118.5,469.4L118.0,471.2L117.5,477.3L117.0,477.0L116.5,477.9L116.0,475.6L115.5,475.2L115.0,481.6L114.5,479.9L114.0,479.0L113.5,483.6L113.0,485.1L112.5,486.2L112.0,482.0L111.5,481.5L111.0,486.2L110.5,485.6L110.0,485.6L109.5,485.4L109.0,485.7L108.5,485.1L108.0,481.3L107.5,481.5L107.0,485.4L106.5,485.0L106.0,483.1L105.5,481.4L105.0,479.6L104.5,473.1L104.0,477.3L103.5,477.3L103.0,477.8L102.5,471.8L102.0,473.1L101.5,479.4L101.0,480.3L100.5,481.0L100.0,478.3L99.5,476.9L99.0,481.4L98.5,478.0L98.0,478.6L97.5,484.2L97.0,484.0L96.5,484.1L96.0,486.8L95.5,488.7L95.0,488.2L94.5,486.2L94.0,486.1L93.5,487.4L93.0,487.5L92.5,488.5L92.0,488.1L91.5,484.5L91.0,485.4L90.5,484.1L90.0,489.3L89.5,487.1L89.0,486.1L88.5,487.5L88.0,486.8L87.5,486.6L87.0,487.3L86.5,487.7L86.0,487.4L85.5,486.4L85.0,486.7L84.5,484.9L84.0,485.6L83.5,486.2L83.0,485.0L82.5,482.8L82.0,482.3L81.5,482.5L81.0,482.8L80.5,480.8L80.0,479.6L79.5,481.2L79.0,482.2L78.5,482.5L78.0,483.3L77.5,483.9L77.0,484.8L76.5,486.0L76.0,486.9L75.5,486.5L75.0,486.9L74.5,487.4L74.0,488.4L73.5,489.4L73.0,489.7L72.5,490.3L72.0,489.4L71.5,489.3L71.0,488.3L70.5,488.0L70.0,487.8L69.5,489.3L69.0,489.9L68.5,490.3L68.0,489.8L67.5,489.3L67.0,490.0L66.5,490.7L66.0,490.1L65.5,487.1L65.0,487.7L64.5,489.2L64.0,486.3L63.5,489.0L63.0,487.7L62.5,487.8L62.0,489.0L61.5,489.3Z"/>
<path fill="#9E0142" d="M61.5,489.3L62.0,489.0L62.5,487.8L63.0,487.7L63.5,489.0L64.0,486.3L64.5,489.2L65.0,487.7L65.5,487.1L66.0,490.1L66.5,490.7L67.0,490.0L67.5,489.3L68.0,489.8L68.5,490.3L69.0,489.9L69.5,489.3L70.0,487.8L70.5,488.0L71.0,488.3L71.5,489.3L72.0,489.4L72.5,490.3L73.0,489.7L73.5,489.4L74.0,488.4L74.5,487.4L75.0,486.9L75.5,486.5L76.0,486.9L76.5,486.0L77.0,484.8L77.5,483.9L78.0,483.3L78.5,482.5L79.0,482.2L79.5,481.2L80.0,479.6L80.5,480.8L81.0,482.8L81.5,482.5L82.0,482.3L82.5,482.8L83.0,485.0L83.5,486.2L84.0,485.6L84.5,484.9L85.0,486.7L85.5,486.4L86.0,487.4L86.5,487.7L87.0,487.3L87.5,486.6L88.0,486.8L88.5,487.5L89.0,486.1L89.5,487.1L90.0,489.3L90.5,484.1L91.0,485.4L91.5,484.5L92.0,488.1L92.5,488.5L93.0,487.5L93.5,487.4L94.0,486.1L94.5,486.2L95.0,488.2L95.5,488.7L96.0,486.8L96.5,484.1L97.0,484.0L97.5,484.2L98.0,478.6L98.5,478.0L99.0,481.4L99.5,476.9L100.0,478.3L100.5,481.0L101.0,480.3L101.5,479.4L102.0,473.1L102.5,471.8L103.0,477.8L103.5,477.3L104.0,477.3L104.5,473.1L105.0,479.6L105.5,481.4L106.0,483.1L106.5,485.0L107.0,485.4L107.5,481.5L108.0,481.3L108.5,485.1L109.0,485.7L109.5,485.4L110.0,485.6L110.5,485.6L111.0,486.2L111.5,481.5L112.0,482.0L112.5,486.2L113.0,485.1L113.5,483.6L114.0,479.0L114.5,479.9L115.0,481.6L115.5,475.2L116.0,475.6L116.5,477.9L117.0,477.0L117.5,477.3L118.0,471.2L118.5,469.4L119.0,474.0L119.5,470.7L120.0,469.5L120.5,472.1L121.0,468.1L121.5,469.4L122.0,467.1L122.5,466.2L123.0,462.6L123.5,459.2L124.0,458.3L124.5,450.7L125.0,447.3L125.5,448.1L126.0,446.5L126.5,445.3L127.0,444.2L127.5,449.6L128.0,456.2L128.5,461.5L129.0,463.8L129.5,466.6L130.0,469.3L130.5,471.8L131.0,474.6L131.5,476.1L132.0,476.9L132.5,479.6L133.0,477.4L133.5,481.1L134.0,478.7L134.5,479.4L135.0,482.8L135.5,483.4L136.0,483.9L136.5,480.2L137.0,478.8L137.5,481.4L138.0,487.2L138.5,487.4L139.0,483.0L139.5,486.5L140.0,485.1L140.5,487.1L141.0,486.8L141.5,485.6L142.0,485.8L142.5,487.8L143.0,487.8L143.5,487.8L144.0,489.0L144.5,489.2L145.0,489.5L145.5,490.5L146.0,489.1L146.5,488.2L147.0,489.5L147.5,491.5L148.0,491.2L148.5,490.5L149.0,490.7L149.5,491.2L150.0,491.0L150.5,490.9L151.0,491.1L151.5,490.7L152.0,490.9L152.5,491.5L153.0,491.8L153.5,491.7L154.0,491.3L154.5,490.1L155.0,490.9L155.5,490.8L156.0,491.8L156.5,492.1L157.0,490.2L157.5,487.8L158.0,485.3L158.5,481.6L159.0,473.9L159.5,474.1L160.0,480.1L160.5,479.9L161.0,479.9L161.5,479.1L162.0,479.6L162.5,480.2L163.0,481.5L163.5,481.7L164.0,475.1L164.5,476.6L165.0,481.8L165.5,482.7L166.0,481.2L166.5,482.8L167.0,481.8L167.5,486.3L168.0,484.9L168.5,484.6L169.0,487.6L169.5,485.1L170.0,484.4L170.5,488.9L171.0,489.2L171.5,489.3L172.0,489.5L172.5,489.4L173.0,489.2L173.5,487.5L174.0,488.8L174.5,489.2L175.0,486.1L175.5,486.3L176.0,485.7L176.5,488.0L177.0,487.0L177.5,488.4L178.0,489.3L178.5,488.8L179.0,486.1L179.5,485.5L180.0,486.8L180.5,486.5L181.0,484.0L181.5,487.9L182.0,487.2L182.5,487.5L183.0,486.9L183.5,482.6L184.0,483.8L184.5,486.0L185.0,487.6L185.5,488.3L186.0,487.8L186.5,486.5L187.0,482.4L187.5,482.4L188.0,483.3L188.5,488.6L189.0,485.4L189.5,485.5L190.0,488.6L190.5,487.6L191.0,486.9L191.5,485.4L192.0,484.7L192.5,485.6L193.0,487.0L193.5,486.5L194.0,487.4L194.5,484.3L195.0,483.7L195.5,486.7L196.0,485.9L196.5,485.9L197.0,486.7L197.5,486.4L198.0,485.7L198.5,484.5L199.0,483.2L199.5,482.5L200.0,483.4L200.5,483.7L201.0,483.5L201.5,482.8L202.0,481.6L202.5,481.6L203.0,482.2L203.5,482.0L204.0,481.6L204.5,478.4L205.0,477.9L205.5,480.3L206.0,478.3L206.5,478.7L207.0,479.6L207.5,479.3L208.0,478.2L208.5,477.2L209.0,476.8L209.5,476.1L210.0,475.4L210.5,473.3L211.0,471.8L211.5,472.2L212.0,469.7L212.5,466.6L213.0,461.8L213.5,459.4L214.0,460.4L214.5,465.2L215.0,462.3L215.5,465.1L216.0,467.2L216.5,471.4L217.0,472.2L217.5,472.7L218.0,472.5L218.5,473.7L219.0,474.9L219.5,468.0L220.0,471.7L220.5,470.3L221.0,460.4L221.5,462.5L222.0,468.3L222.5,463.6L223.0,466.6L223.5,472.7L224.0,475.1L224.5,475.7L225.0,468.4L225.5,469.7L226.0,478.2L226.5,479.1L227.0,477.2L227.5,476.6L228.0,479.1L228.5,481.0L229.0,474.3L229.5,474.3L230.0,473.2L230.5,479.7L231.0,476.9L231.5,478.6L232.0,479.5L232.5,483.4L233.0,482.5L233.5,482.3L234.0,481.8L234.5,481.3L235.0,480.8L235.5,479.2L236.0,478.1L236.5,479.6L237.0,480.3L237.5,473.8L238.0,473.0L238.5,477.8L239.0,476.5L239.5,476.5L240.0,476.0L240.5,475.0L241.0,474.1L241.5,473.3L242.0,473.6L242.5,472.1L243.0,463.4L243.5,462.2L244.0,461.9L244.5,466.4L245.0,458.3L245.5,454.5L246.0,463.2L246.5,457.1L247.0,460.4L247.5,454.1L248.0,452.0L248.5,459.1L249.0,459.1L249.5,455.1L250.0,453.6L250.5,454.8L251.0,455.1L251.5,456.1L252.0,455.1L252.5,448.0L253.0,445.7L253.5,447.4L254.0,451.9L254.5,448.4L255.0,447.2L255.5,446.2L256.0,447.2L256.5,445.3L257.0,439.9L257.5,443.8L258.0,436.1L258.5,439.5L259.0,432.5L259.5,430.8L260.0,422.1L260.5,428.3L261.0,443.3L261.5,442.6L262.0,450.1L262.5,455.1L263.0,456.3L263.5,458.2L264.0,464.5L264.5,466.4L265.0,468.7L265.5,471.9L266.0,473.6L266.5,474.8L267.0,474.9L267.5,478.0L268.0,477.6L268.5,471.7L269.0,472.5L269.5,477.3L270.0,479.3L270.5,476.5L271.0,473.4L271.5,478.7L272.0,478.3L272.5,481.4L273.0,480.4L273.5,477.5L274.0,476.9L274.5,476.2L275.0,482.3L275.5,482.9L276.0,482.7L276.5,483.6L277.0,484.7L277.5,484.8L278.0,484.3L278.5,484.7L279.0,485.0L279.5,484.9L280.0,485.7L280.5,486.2L281.0,486.9L281.5,486.4L282.0,484.2L282.5,483.1L283.0,484.5L283.5,484.7L284.0,484.0L284.5,483.4L285.0,483.5L285.5,483.5L286.0,483.5L286.5,483.2L287.0,482.8L287.5,483.4L288.0,482.3L288.5,480.5L289.0,480.6L289.5,479.1L290.0,481.9L290.5,481.9L291.0,481.1L291.5,481.2L292.0,477.2L292.5,477.2L293.0,478.8L293.5,481.6L294.0,479.5L294.5,480.1L295.0,482.3L295.5,482.4L296.0,481.0L296.5,480.9L297.0,481.0L297.5,473.1L298.0,474.3L298.5,472.1L299.0,478.1L299.5,476.6L300.0,475.4L300.5,476.1L301.0,470.7L301.5,470.1L302.0,472.4L302.5,464.6L303.0,463.9L303.5,470.0L304.0,467.4L304.5,460.7L305.0,458.2L305.5,459.7L306.0,454.1L306.5,449.2L307.0,449.1L307.5,452.5L308.0,456.1L308.5,459.2L309.0,462.6L309.5,466.3L310.0,469.4L310.5,473.3L311.0,474.7L311.5,475.8L312.0,478.3L312.5,473.5L313.0,474.9L313.5,475.0L314.0,482.8L314.5,477.1L315.0,483.0L315.5,483.1L316.0,483.6L316.5,485.1L317.0,483.5L317.5,482.9L318.0,483.9L318.5,484.4L319.0,479.4L319.5,479.5L320.0,485.3L320.5,485.5L321.0,486.7L321.5,487.5L322.0,486.8L322.5,486.3L323.0,488.0L323.5,484.1L324.0,488.4L324.5,484.6L325.0,482.7L325.5,485.9L326.0,482.7L326.5,486.6L327.0,485.4L327.5,486.1L328.0,488.4L328.5,488.4L329.0,488.2L329.5,488.6L330.0,488.8L330.5,487.7L331.0,485.8L331.5,486.3L332.0,488.5L332.5,488.0L333.0,488.9L333.5,488.7L334.0,487.5L334.5,488.5L335.0,489.7L335.5,490.5L336.0,489.4L336.5,489.2L337.0,489.2L337.5,489.8L338.0,487.8L338.5,489.5L339.0,490.3L339.5,490.4L340.0,490.7L340.5,490.7L341.0,490.4L341.5,491.1L342.0,490.9L342.5,491.0L343.0,491.1L343.5,490.1L344.0,491.3L344.5,492.0L345.0,490.6L345.5,489.8L346.0,489.1L346.5,489.4L347.0,490.2L347.5,490.5L348.0,490.9L348.5,490.8L349.0,490.2L349.5,490.3L350.0,490.0L350.5,489.8L351.0,490.3L351.5,490.7L352.0,490.1L352.5,489.4L353.0,489.3L353.5,490.2L354.0,490.2L354.5,490.8L355.0,490.2L355.5,489.7L356.0,489.4L356.5,484.6L357.0,486.9L357.5,487.3L358.0,491.1L358.5,489.7L359.0,490.8L359.5,491.0L360.0,490.8L360.5,490.3L361.0,490.4L361.5,490.1L362.0,489.7L362.5,489.9L363.0,488.4L363.5,487.9L364.0,488.2L364.5,489.9L365.0,490.0L365.5,489.4L366.0,487.3L366.5,488.8L367.0,487.6L367.5,490.8L368.0,490.3L368.5,489.3L369.0,489.3L369.5,490.5L370.0,490.5L370.5,489.5L371.0,490.6L371.5,490.5L372.0,490.0L372.5,490.3L373.0,491.0L373.5,490.9L374.0,490.9L374.5,490.9L375.0,490.7L375.5,490.6L376.0,489.1L376.5,487.9L377.0,490.1L377.5,490.2L378.0,489.9L378.5,490.0L379.0,490.2L379.5,490.0L380.0,489.9L380.5,489.4L381.0,489.4L381.5,490.2L382.0,489.7L382.5,489.3L383.0,490.0L383.5,490.1L384.0,490.1L384.5,489.2L385.0,488.7L385.5,489.0L386.0,490.2L386.5,490.9L387.0,491.3L387.5,491.4L388.0,491.6L388.5,491.0L389.0,490.6L389.5,491.0L390.0,491.2L390.5,490.8L391.0,490.5L391.5,490.5L392.0,490.1L392.5,490.1L393.0,490.6L393.5,490.8L394.0,491.2L394.5,490.8L395.0,491.2L395.5,491.3L396.0,491.1L396.5,490.9L397.0,490.8L397.5,491.4L398.0,491.6L398.5,491.2L399.0,491.1L399.5,491.5L400.0,491.4L400.5,488.3L401.0,487.8L401.5,491.5L402.0,491.1L402.5,488.0L403.0,488.4L403.5,490.0L404.0,491.4L404.5,491.1L405.0,491.6L405.5,489.7L406.0,489.8L406.5,489.0L407.0,491.0L407.5,490.8L408.0,490.8L408.5,491.0L409.0,491.2L409.5,491.5L410.0,490.5L410.5,489.8L411.0,490.9L411.5,491.0L412.0,491.4L412.5,491.1L413.0,491.2L413.5,491.2L414.0,491.2L414.5,491.0L415.0,490.6L415.5,490.9L416.0,489.8L416.5,490.5L417.0,490.0L417.5,489.7L418.0,490.2L418.5,490.5L419.0,490.9L419.5,490.5L420.0,490.1L420.5,490.2L421.0,489.6L421.5,488.3L422.0,488.8L422.5,489.5L423.0,489.1L423.5,488.7L424.0,488.8L424.5,489.4L425.0,489.3L425.5,489.1L426.0,489.7L426.5,482.4L427.0,481.8L427.5,491.2L428.0,489.6L428.5,487.7L429.0,488.4L429.5,488.7L430.0,488.8L430.5,485.3L431.0,486.7L431.5,486.3L432.0,487.4L432.5,488.2L433.0,487.3L433.5,488.0L434.0,487.8L434.5,488.0L435.0,488.3L435.5,488.1L436.0,487.6L436.5,488.2L437.0,487.7L437.5,487.5L438.0,487.0L438.5,487.5L439.0,487.3L439.5,484.3L440.0,484.6L440.5,487.0L441.0,487.3L441.5,488.1L442.0,487.6L442.5,486.1L443.0,487.7L443.5,488.7L444.0,486.7L444.5,486.6L445.0,487.8L445.5,486.3L446.0,480.3L446.5,480.5L447.0,479.0L447.5,483.4L448.0,477.4L448.5,480.5L449.0,472.3L449.5,472.0L450.0,475.6L450.5,485.3L451.0,484.8L451.5,484.9L452.0,485.5L452.5,484.9L453.0,485.9L453.5,486.9L454.0,485.6L454.5,482.2L455.0,483.8L455.5,485.9L456.0,486.4L456.5,485.6L457.0,483.1L457.5,484.9L458.0,486.6L458.5,486.9L459.0,486.1L459.5,486.1L460.0,486.3L460.5,482.7L461.0,480.9L461.5,486.2L462.0,486.5L462.5,485.2L463.0,484.7L463.5,485.6L464.0,485.4L464.5,485.0L465.0,484.4L465.5,484.8L466.0,486.3L466.5,485.7L467.0,482.8L467.5,483.4L468.0,484.5L468.5,485.7L469.0,479.6L469.5,479.3L470.0,479.4L470.5,483.8L471.0,483.8L471.5,477.6L472.0,484.4L472.5,484.0L473.0,483.0L473.5,482.6L474.0,481.3L474.5,481.7L475.0,484.6L475.5,484.4L476.0,483.9L476.5,481.1L477.0,482.1L477.5,485.0L478.0,484.8L478.5,484.9L479.0,483.8L479.5,483.4L480.0,482.6L480.5,485.8L481.0,486.1L481.5,486.6L482.0,485.0L482.5,484.3L483.0,482.4L483.5,484.3L484.0,486.3L484.5,478.3L485.0,476.2L485.5,483.6L486.0,484.6L486.5,484.9L487.0,479.3L487.5,483.5L488.0,478.5L488.5,479.8L489.0,484.7L489.5,484.1L490.0,482.2L490.5,481.2L491.0,475.1L491.5,475.0L492.0,474.7L492.5,478.1L493.0,477.9L493.5,478.0L494.0,478.5L494.5,479.7L495.0,480.3L495.5,481.8L496.0,479.6L496.5,483.1L497.0,482.5L497.5,478.4L498.0,480.5L498.5,479.3L499.0,484.9L499.5,485.6L500.0,480.6L500.5,480.7L501.0,486.2L501.5,486.4L502.0,485.8L502.5,486.7L503.0,485.4L503.5,485.1L504.0,485.8L504.5,484.3L505.0,487.3L505.5,487.9L506.0,486.4L506.5,486.7L507.0,487.2L507.5,485.4L508.0,484.4L508.5,485.3L509.0,486.8L509.5,487.2L510.0,486.0L510.5,486.9L511.0,484.7L511.5,484.0L512.0,484.9L512.5,487.9L513.0,488.2L513.5,485.2L514.0,486.9L514.5,487.2L515.0,487.2L515.5,487.0L516.0,488.2L516.5,487.8L517.0,488.7L517.5,487.4L518.0,487.0L518.5,483.1L519.0,487.9L519.5,486.8L520.0,486.8L520.5,484.8L521.0,484.4L521.5,486.2L522.0,486.4L522.5,480.1L523.0,481.6L523.5,485.6L524.0,485.0L524.5,484.7L525.0,484.2L525.5,484.9L526.0,482.4L526.5,485.5L527.0,484.3L527.5,484.5L528.0,483.7L528.5,483.5L529.0,482.2L529.5,482.3L530.0,483.2L530.5,482.7L531.0,481.4L531.5,478.6L532.0,480.6L532.5,480.0L533.0,474.6L533.5,477.8L534.0,471.1L534.5,467.7L535.0,471.5L535.5,478.9L536.0,480.0L536.5,480.9L537.0,481.6L537.5,476.0L538.0,477.4L538.5,475.8L539.0,480.8L539.5,481.9L540.0,482.4L540.5,475.6L541.0,477.2L541.5,476.8L542.0,482.0L542.5,478.7L543.0,477.6L543.5,477.3L544.0,480.7L544.5,481.2L545.0,480.7L545.5,477.6L546.0,480.6L546.5,475.1L547.0,474.4L547.5,480.0L548.0,478.6L548.5,473.8L549.0,475.4L549.5,478.7L550.0,475.1L550.5,477.6L551.0,476.6L551.5,479.5L552.0,478.7L552.5,478.0L553.0,478.2L553.5,475.0L554.0,474.1L554.5,474.2L555.0,477.1L555.5,476.3L556.0,475.2L556.5,475.1L557.0,474.7L557.5,474.4L558.0,474.1L558.5,474.2L559.0,473.4L559.5,470.8L560.0,470.3L560.5,470.7L561.0,469.7L561.5,465.3L562.0,466.1L562.5,459.5L563.0,458.5L563.5,465.8L564.0,461.0L564.5,462.9L565.0,463.5L565.5,470.2L566.0,471.4L566.5,472.2L567.0,471.4L567.5,468.0L568.0,470.2L568.5,475.6L569.0,474.0L569.5,473.3L570.0,473.3L570.5,473.2L571.0,469.2L571.5,470.2L572.0,470.6L572.5,473.4L573.0,471.4L573.5,466.2L574.0,463.7L574.5,462.3L575.0,463.5L575.5,453.0L576.0,455.2L576.5,462.9L577.0,464.4L577.5,462.1L578.0,462.2L578.5,468.3L579.0,469.8L579.5,464.0L580.0,464.5L580.5,471.6L581.0,472.7L581.5,467.9L582.0,469.2L582.5,475.6L583.0,476.1L583.5,470.6L584.0,469.6L584.5,477.3L585.0,479.0L585.5,479.9L586.0,478.9L586.5,476.4L587.0,477.2L587.5,476.6L588.0,478.1L588.5,479.4L589.0,480.1L589.5,479.1L590.0,478.5L590.5,474.1L591.0,473.0L591.5,475.7L592.0,470.8L592.5,469.4L593.0,473.6L593.5,472.8L594.0,473.1L594.5,467.1L595.0,464.7L595.5,471.6L596.0,471.7L596.5,470.4L597.0,470.9L597.5,471.9L598.0,467.2L598.5,466.5L599.0,468.1L599.5,466.9L600.0,466.9L600.5,457.6L601.0,461.6L601.5,461.5L602.0,459.4L602.5,457.8L603.0,459.5L603.5,463.7L604.0,465.4L604.5,460.9L605.0,468.3L605.5,469.9L606.0,467.9L606.5,469.8L607.0,474.7L607.5,475.6L608.0,476.4L608.5,476.7L609.0,477.2L609.5,478.3L610.0,479.3L610.5,480.7L611.0,479.4L611.5,479.6L612.0,482.9L612.5,481.3L613.0,479.8L613.5,482.3L614.0,483.3L614.5,482.4L615.0,482.7L615.5,479.9L616.0,484.7L616.5,478.1L617.0,479.5L617.5,486.4L618.0,485.8L618.5,482.2L619.0,481.5L619.5,481.5L620.0,485.0L620.5,486.1L621.0,487.2L621.5,487.1L622.0,486.9L622.5,485.9L623.0,485.9L623.5,487.6L624.0,487.1L624.5,484.6L625.0,487.1L625.5,487.0L626.0,487.0L626.5,485.7L627.0,485.9L627.5,485.7L628.0,484.8L628.5,486.9L629.0,486.5L629.5,486.4L630.0,485.7L630.5,485.6L631.0,487.0L631.5,486.7L632.0,486.3L632.5,487.2L633.0,487.3L633.5,486.4L634.0,487.0L634.5,487.2L635.0,484.6L635.5,485.2L636.0,487.3L636.5,487.7L637.0,484.5L637.5,488.3L638.0,489.7L638.5,487.5L639.0,486.5L639.5,488.8L640.0,488.7L640.5,489.4L641.0,489.4L641.5,487.8L642.0,487.2L642.5,488.2L643.0,486.1L643.5,486.1L644.0,488.7L644.5,487.7L645.0,487.9L645.5,483.8L646.0,484.0L646.5,484.7L647.0,489.9L647.5,486.5L648.0,485.8L648.5,486.4L649.0,488.5L649.5,486.2L650.0,485.0L650.5,488.0L651.0,488.6L651.5,488.6L652.0,488.4L652.5,489.1L653.0,488.7L653.5,489.6L654.0,489.5L654.5,489.7L655.0,489.5L655.5,489.3L656.0,488.9L656.5,488.4L657.0,489.9L657.5,490.0L658.0,488.8L658.5,489.8L659.0,490.0L659.5,489.2L660.0,488.6L660.5,489.3L661.0,484.4L661.5,484.0L662.0,483.7L662.5,490.1L663.0,489.8L663.5,489.6L664.0,490.2L664.5,491.2L665.0,490.5L665.5,489.9L666.0,490.9L666.5,491.1L667.0,490.1L667.5,488.0L668.0,488.0L668.5,489.4L669.0,489.4L669.5,486.2L670.0,486.5L670.5,490.2L671.0,490.5L671.5,490.1L672.0,490.4L672.5,490.2L673.0,489.9L673.5,490.7L674.0,490.9L674.5,490.5L675.0,490.6L675.5,490.8L676.0,491.5L676.5,491.8L677.0,491.0L677.5,491.1L678.0,490.7L678.5,490.9L679.0,490.9L679.5,490.1L680.0,489.9L680.5,489.9L681.0,490.0L681.5,489.9L682.0,490.2L682.5,490.4L683.0,490.4L683.5,490.8L684.0,491.3L684.5,490.2L685.0,488.9L685.5,488.6L686.0,487.8L686.5,489.8L687.0,490.1L687.5,491.1L688.0,490.7L688.5,489.8L689.0,488.8L689.5,488.9L690.0,490.6L690.5,483.6L691.0,487.8L691.5,487.5L692.0,487.1L692.5,487.5L693.0,487.7L693.5,487.2L694.0,486.7L694.5,487.0L695.0,483.8L695.5,483.1L696.0,486.6L696.5,485.8L697.0,485.5L697.5,485.9L698.0,486.0L698.5,483.6L699.0,481.9L699.5,486.6L700.0,485.8L700.5,485.7L701.0,488.9L701.5,488.9L702.0,486.2L702.5,487.0L703.0,485.8L703.5,486.7L704.0,488.1L704.5,488.6L705.0,487.4L705.5,487.7L706.0,487.4L706.5,486.8L707.0,488.2L707.5,487.2L708.0,487.2L708.5,487.2L709.0,487.5L709.5,487.5L710.0,487.8L710.5,487.6L711.0,485.7L711.5,483.6L712.0,485.1L712.5,483.6L713.0,483.6L713.5,479.3L714.0,480.3L714.5,482.7L715.0,482.1L715.5,482.1L716.0,482.5L716.5,484.2L717.0,484.9L717.5,484.9L718.0,485.4L718.5,484.0L719.0,484.1L719.5,484.6L720.0,487.0L720.5,487.0L721.0,486.4L721.5,479.5L722.0,481.7L722.5,486.8L723.0,488.2L723.5,488.4L724.0,487.3L724.5,486.6L725.0,487.6L725.5,487.6L726.0,486.9L726.5,486.5L727.0,486.8L727.5,487.4L728.0,487.0L728.5,485.4L729.0,485.8L729.5,487.2L730.0,481.5L730.5,486.7L731.0,486.8L731.5,486.8L732.0,486.9L732.5,486.8L733.0,488.4L733.5,488.2L734.0,486.0L734.5,485.8L735.0,486.4L735.5,487.0L736.0,488.3L736.5,488.3L737.0,487.6L737.5,486.4L738.0,486.5L738.5,487.3L739.0,486.8L739.5,487.0L740.0,487.6L740.5,485.9L741.0,485.7L741.5,486.5L742.0,488.1L742.5,487.9L743.0,488.6L743.5,488.3L744.0,488.3L744.5,488.5L745.0,488.1L745.5,488.6L746.0,489.2L746.5,489.0L747.0,486.8L747.5,486.7L748.0,487.5L748.5,488.1L749.0,487.7L749.5,487.3L750.0,488.2L750.5,487.9L751.0,487.8L751.5,487.9L752.0,487.4L752.5,485.6L753.0,486.5L753.5,487.3L754.0,486.6L754.5,486.5L755.0,484.6L755.5,484.5L756.0,486.9L756.5,486.4L757.0,487.0L757.5,481.6L758.0,480.8L758.5,486.6L759.0,487.4L759.5,486.5L760.0,487.5L760.5,487.0L761.0,486.4L761.5,485.9L762.0,486.8L762.5,486.6L763.0,484.5L763.5,485.7L764.0,486.9L764.5,486.2L765.0,487.0L765.5,487.6L766.0,486.7L766.5,482.5L767.0,481.2L767.5,486.8L768.0,488.0L768.5,486.3L769.0,485.5L769.5,487.4L770.0,488.9L770.5,489.7L771.0,489.1L771.5,486.1L772.0,485.7L772.5,487.8L773.0,487.2L773.5,486.6L774.0,487.7L774.5,486.8L775.0,487.0L775.5,486.0L776.0,488.0L776.5,487.1L777.0,487.5L777.5,488.1L778.0,487.8L778.5,487.5L779.0,483.9L779.5,483.6L780.0,487.2L780.5,488.1L781.0,488.3L781.5,488.8L782.0,489.1L782.5,488.2L783.0,488.3L783.5,487.5L784.0,488.4L784.5,489.5L785.0,488.1L785.5,487.0L786.0,487.5L786.5,488.4L787.0,488.2L787.5,487.8L788.0,487.6L788.5,487.4L789.0,485.8L789.5,486.6L790.0,484.9L790.5,486.7L791.0,486.9L791.5,483.8L792.0,485.1L792.5,485.0L793.0,485.1L793.5,486.0L794.0,488.4L794.5,485.6L795.0,485.6L795.5,487.9L796.0,482.9L796.5,482.9L797.0,487.0L797.5,487.8L798.0,488.2L798.5,487.9L799.0,486.9L799.5,488.0L800.0,487.9L800.5,487.9L801.0,486.9L801.5,486.8L802.0,487.0L802.5,483.3L803.0,483.7L803.5,486.8L804.0,486.1L804.5,483.0L805.0,487.5L805.5,487.7L806.0,485.2L806.5,483.5L807.0,483.1L807.5,483.5L808.0,485.5L808.5,486.1L809.0,486.1L809.5,484.9L810.0,483.7L810.5,485.0L811.0,484.4L811.5,484.5L812.0,485.0L812.5,483.9L813.0,485.0L813.5,484.7L814.0,484.0L814.5,483.9L815.0,482.5L815.5,482.6L816.0,483.9L816.5,482.7L817.0,482.0L817.5,482.1L818.0,482.6L818.5,482.1L819.0,481.9L819.5,480.4L820.0,479.6L820.5,479.2L821.0,479.0L821.5,479.7L822.0,475.6L822.5,474.0L823.0,478.4L823.5,477.5L824.0,476.6L824.5,475.9L825.0,471.2L825.5,468.9L826.0,472.4L826.5,471.9L827.0,471.4L827.5,471.6L828.0,469.1L828.5,476.5L829.0,479.2L829.5,475.6L830.0,479.3L830.5,479.5L831.0,479.5L831.5,478.9L832.0,477.5L832.5,476.7L833.0,472.6L833.5,475.6L834.0,471.7L834.5,469.7L835.0,475.2L835.5,474.5L836.0,468.2L836.5,468.2L837.0,473.5L837.5,474.9L838.0,476.8L838.5,478.1L839.0,478.5L839.5,479.4L840.0,480.3L840.5,476.6L841.0,481.1L841.5,477.9L842.0,478.5L842.5,481.3L843.0,477.8L843.5,477.8L844.0,481.2L844.5,474.1L845.0,474.9L845.5,481.4L846.0,480.2L846.5,479.0L847.0,480.4L847.5,480.2L848.0,482.8L848.5,481.6L849.0,481.3L849.5,482.8L850.0,482.5L850.5,478.1L851.0,479.2L851.5,484.5L852.0,483.3L852.5,483.1L853.0,486.0L853.5,485.8L854.0,484.8L854.5,486.0L855.0,486.0L855.5,486.5L856.0,487.5L856.5,486.3L857.0,484.9L857.5,486.5L858.0,487.0L858.5,487.0L859.0,485.5L859.5,485.9L860.0,486.5L860.5,488.0L861.0,488.5L861.5,487.2L862.0,488.0L862.5,488.2L863.0,487.3L863.5,486.6L864.0,487.5L864.5,489.6L865.0,489.4L865.5,487.2L866.0,487.1L866.5,486.7L867.0,487.8L867.5,487.6L868.0,486.8L868.5,483.4L869.0,485.3L869.5,484.3L870.0,482.6L870.5,485.9L871.0,486.0L871.5,485.6L872.0,485.0L872.5,481.2L873.0,482.2L873.5,484.9L874.0,486.5L874.5,486.2L875.0,478.6L875.5,484.8L876.0,484.9L876.5,484.3L877.0,480.2L877.5,479.5L878.0,482.9L878.5,484.8L879.0,482.3L879.5,482.6L880.0,479.5L880.5,481.9L881.0,476.6L881.5,481.4L882.0,482.1L882.5,475.7L883.0,474.5L883.5,481.0L884.0,480.7L884.5,480.0L885.0,480.9L885.5,479.8L886.0,478.5L886.5,477.7L887.0,478.5L887.5,474.0L888.0,474.2L888.5,475.7L889.0,480.3L889.5,480.2L890.0,480.0L890.5,481.4L891.0,481.1L891.5,479.9L892.0,479.9L892.5,481.4L893.0,482.3L893.5,481.7L894.0,480.7L894.5,481.7L895.0,484.0L895.5,484.7L896.0,484.3L896.5,483.7L897.0,483.6L897.5,480.8L898.0,480.5L898.5,482.1L899.0,486.1L899.5,486.4L900.0,481.0L900.5,484.3L901.0,485.5L901.5,486.0L902.0,484.8L902.5,480.8L903.0,482.1L903.5,485.6L904.0,482.8L904.5,485.3L905.0,485.6L905.5,487.2L906.0,479.6L906.5,481.2L907.0,480.3L907.5,486.3L908.0,486.3L908.5,484.7L909.0,485.3L909.5,482.5L910.0,485.3L910.5,485.5L911.0,484.9L911.5,482.1L912.0,481.9L912.5,485.0L913.0,484.6L913.5,484.3L914.0,483.8L914.5,484.4L915.0,485.8L915.5,483.5L916.0,484.0L916.5,486.6L917.0,481.6L917.5,482.0L918.0,480.2L918.5,484.1L919.0,484.1L919.5,484.2L920.0,484.6L920.5,485.8L921.0,483.2L921.5,483.1L922.0,486.0L922.5,486.4L923.0,481.6L923.5,485.3L924.0,487.3L924.5,487.0L925.0,486.6L925.5,488.0L926.0,487.6L926.5,487.6L927.0,488.3L927.5,486.1L928.0,485.6L928.5,487.2L929.0,486.6L929.5,486.0L930.0,487.4L930.5,487.6L931.0,486.2L931.5,486.9L932.0,489.2L932.5,489.2L933.0,488.5L933.5,488.6L934.0,487.6L934.5,488.0L935.0,489.7L935.5,488.5L936.0,489.3L936.5,489.5L937.0,488.7L937.5,489.8L938.0,490.6L938.5,490.0L939.0,488.2L939.5,487.9L940.0,489.2L940.5,490.8L941.0,489.9L941.5,490.2L942.0,490.9L942.5,490.5L943.0,490.6L943.5,490.5L944.0,490.6L944.5,490.4L945.0,489.9L945.5,489.9L946.0,490.1L946.5,490.3L947.0,490.4L947.5,490.7L948.0,491.0L948.5,491.0L949.0,491.0L949.5,488.3L950.0,489.1L950.5,487.8L951.0,490.8L951.5,491.2L952.0,491.0L952.5,491.3L953.0,491.0L953.5,490.8L954.0,490.9L954.5,491.1L955.0,491.0L955.5,491.3L956.0,491.4L956.5,491.3L957.0,491.4L957.5,491.0L958.0,491.2L958.5,491.3L959.0,491.3L959.5,491.9L959.5,493.7L61.5,493.7Z"/>
</g>
<rect x="158.2" y="127.5" width="12.0" height="366.2" fill="#3478F6" fill-opacity="0.2"/>
<rect x="417.3" y="127.5" width="11.8" height="366.2" fill="#3478F6" fill-opacity="0.2"/>
<rect x="690.9" y="127.5" width="11.8" height="366.2" fill="#3478F6" fill-opacity="0.2"/>
<rect x="951.8" y="127.5" width="11.8" height="366.2" fill="#FF0A5C" fill-opacity="0.17"/>
<path d="M61.8,459.7L62.4,459.9L62.9,460.5L63.5,459.6L64.0,462.3L64.5,462.7L64.8,463.2L65.1,463.6L65.7,463.8L66.2,462.9L66.8,463.1L67.3,463.6L67.8,464.6L68.4,464.6L68.7,464.1L69.0,463.6L69.5,465.1L70.0,466.0L70.6,465.0L71.2,464.7L71.7,466.2L72.0,465.4L72.2,466.0L72.8,466.5L73.3,465.8L73.9,465.3L74.5,465.7L75.0,464.6L75.5,465.0L75.5,464.4L76.1,463.2L76.7,461.4L77.2,460.1L77.5,459.3L77.8,458.4L78.3,456.2L78.8,454.1L79.4,451.9L80.0,447.2L80.5,446.1L81.0,441.7L81.4,439.6L81.6,437.9L82.2,433.3L82.7,429.2L83.2,422.8L83.3,423.2L83.8,426.7L84.3,429.7L84.3,429.2L84.9,431.7L85.5,432.9L86.0,434.3L86.2,434.1L86.5,433.8L87.1,432.6L87.7,432.5L88.0,430.8L88.2,431.8L88.8,434.6L89.3,435.5L89.8,439.1L89.8,438.2L90.4,437.0L91.0,437.1L91.5,433.2L92.0,431.8L92.1,432.3L92.6,430.5L93.2,430.3L93.7,430.3L94.2,429.6L94.8,429.0L95.3,428.1L95.9,428.1L96.0,427.2L96.5,426.4L97.0,424.2L97.5,422.9L98.1,420.7L98.7,421.4L98.9,420.0L99.2,419.2L99.8,416.7L100.3,411.3L100.8,408.4L100.9,408.5L101.4,406.5L102.0,402.3L102.5,399.9L102.9,397.8L103.0,397.9L103.6,399.6L104.2,398.4L104.7,399.8L105.2,400.5L105.8,401.0L106.3,400.1L106.9,402.1L107.5,401.8L108.0,402.3L108.5,401.9L109.1,400.9L109.7,401.8L110.2,403.1L110.7,402.7L110.8,402.8L111.3,405.2L111.8,406.6L112.4,406.0L113.0,408.6L113.2,407.2L113.5,404.9L114.0,405.0L114.6,402.0L115.2,400.6L115.5,398.9L115.7,397.4L116.2,394.1L116.8,389.9L117.3,384.9L117.5,385.0L117.9,382.0L118.5,379.0L119.0,372.5L119.5,369.5L119.5,368.8L120.1,365.1L120.7,362.5L121.2,357.6L121.4,355.8L121.8,354.0L122.3,351.2L122.4,349.8L122.8,348.1L123.4,346.6L124.0,343.4L124.5,339.2L124.9,336.5L125.0,334.5L125.6,326.1L126.2,320.7L126.3,318.1L126.7,324.0L126.9,326.6L127.2,328.3L127.8,332.1L128.3,331.7L128.9,330.6L129.2,330.8L129.4,331.7L130.0,331.3L130.6,332.1L131.1,332.6L131.7,333.1L132.1,334.7L132.2,335.0L132.8,335.3L133.3,334.5L133.8,335.0L134.4,336.1L134.9,336.2L135.1,336.6L135.5,337.2L136.1,339.6L136.6,342.0L137.2,343.3L137.7,344.8L138.0,344.4L138.2,345.4L138.8,345.2L139.3,347.0L139.5,346.4L139.9,344.4L140.4,341.9L140.9,340.6L141.0,341.0L141.6,342.8L142.1,343.7L142.7,346.6L142.9,347.0L143.2,350.1L143.8,351.9L144.3,355.2L144.8,357.8L144.8,356.6L145.4,357.2L145.9,358.5L146.5,360.1L147.1,358.5L147.6,359.1L147.8,359.8L148.2,359.2L148.7,360.3L149.2,362.4L149.8,363.8L150.3,364.6L150.7,365.9L150.9,366.1L151.4,368.1L152.0,370.6L152.6,372.3L152.7,371.2L153.1,374.7L153.6,379.5L153.7,377.9L154.2,373.9L154.6,371.3L154.8,370.8L155.3,372.0L155.8,374.1L156.4,376.0L156.6,375.7L156.9,376.7L157.5,377.1L158.1,380.5L158.5,382.1L158.6,382.2L159.2,380.6L159.7,378.0L160.2,378.4L160.8,375.3L161.3,375.0L161.4,375.5L161.9,374.7L162.4,374.5L163.0,370.5L163.6,371.4L164.1,370.6L164.4,369.4L164.7,369.3L165.2,366.5L165.8,366.4L166.3,364.8L166.8,362.2L167.3,361.6L167.4,361.1L167.9,358.4L168.5,357.3L169.1,354.2L169.3,353.2L169.6,354.3L170.2,354.3L170.7,355.0L171.2,355.7L171.2,355.3L171.8,355.7L172.3,356.9L172.9,356.4L173.4,357.4L174.0,357.9L174.1,357.7L174.6,358.7L175.1,361.2L175.7,362.5L176.2,362.0L176.8,363.7L177.1,364.5L177.3,364.1L177.8,364.7L178.4,363.4L178.9,363.1L179.5,362.7L180.0,360.6L180.1,360.6L180.6,360.9L181.2,361.8L181.7,361.1L182.2,361.8L182.8,362.3L183.3,362.4L183.9,361.8L184.4,361.0L185.0,360.4L185.6,362.3L186.1,361.8L186.7,360.6L187.2,360.9L187.8,360.9L188.3,359.9L188.8,361.3L189.4,360.4L189.9,360.7L190.5,361.4L191.1,360.7L191.6,361.1L191.7,360.8L192.2,360.7L192.7,360.6L193.2,361.9L193.8,360.3L194.3,361.5L194.9,359.5L195.4,360.7L196.0,360.2L196.6,359.4L197.1,357.9L197.6,360.1L197.7,358.9L198.2,358.3L198.8,358.5L199.3,357.7L199.8,357.2L200.4,356.1L200.9,354.5L201.5,355.1L202.1,353.9L202.6,354.5L203.2,354.5L203.7,354.7L204.2,353.3L204.8,353.0L205.3,352.8L205.4,352.6L205.9,351.6L206.4,350.5L207.0,349.6L207.3,350.0L207.6,349.3L208.1,349.7L208.7,348.6L209.2,345.1L209.3,346.3L209.8,344.6L210.3,344.7L210.8,343.3L211.4,342.8L211.9,341.2L212.2,340.6L212.5,339.1L213.1,335.3L213.2,336.4L213.6,338.7L214.2,342.7L214.2,343.2L214.7,344.3L215.2,342.5L215.8,343.3L216.3,341.7L216.9,342.8L217.1,341.2L217.4,341.6L218.0,339.7L218.6,340.7L219.1,341.1L219.7,338.3L220.2,338.4L220.8,338.9L221.0,338.5L221.3,337.6L221.8,339.8L222.4,339.3L222.9,340.5L223.5,340.0L224.1,339.2L224.6,340.0L224.9,340.8L225.2,339.7L225.7,340.9L226.2,342.3L226.8,343.1L227.3,343.5L227.9,343.1L228.4,344.6L229.0,342.5L229.6,342.3L230.1,341.9L230.7,341.3L230.8,341.2L231.2,340.8L231.8,341.6L232.3,339.1L232.8,337.9L233.4,339.6L233.9,339.0L234.5,338.9L235.1,339.2L235.6,336.9L236.2,337.1L236.6,336.7L236.7,337.5L237.2,337.4L237.8,336.0L238.3,335.7L238.9,336.5L239.4,335.6L240.0,337.0L240.6,336.1L241.1,335.8L241.7,335.0L242.2,336.4L242.8,335.1L242.9,334.7L243.3,334.2L243.8,332.3L244.4,331.3L244.9,330.5L245.5,327.8L245.9,327.1L246.1,327.1L246.6,326.5L247.2,324.9L247.7,323.4L248.2,321.8L248.8,321.4L249.3,319.3L249.8,319.3L249.9,319.0L250.4,318.0L251.0,315.8L251.6,314.2L252.1,312.8L252.7,312.9L253.2,310.6L253.7,309.5L253.8,308.0L254.3,307.4L254.8,303.0L255.4,304.8L255.9,301.7L256.5,300.1L256.6,299.4L257.1,296.2L257.6,294.3L258.1,290.5L258.6,288.1L258.7,287.9L259.2,281.8L259.8,274.2L260.4,269.2L260.5,268.2L260.9,276.1L261.4,286.7L261.9,297.3L262.0,295.5L262.6,286.8L263.0,280.1L263.1,280.0L263.6,282.7L264.2,281.6L264.8,283.3L265.3,285.9L265.4,285.9L265.9,284.8L266.4,285.6L266.9,285.2L267.5,284.8L268.1,283.0L268.6,282.7L269.1,282.3L269.3,282.0L269.7,283.3L270.2,282.8L270.8,284.2L271.4,283.0L271.9,285.9L272.4,287.3L273.0,286.7L273.2,287.2L273.6,286.2L274.1,287.9L274.6,287.7L275.2,289.8L275.8,290.6L276.3,289.9L276.9,290.9L277.1,291.8L277.4,295.5L277.9,296.8L278.1,297.7L278.5,296.7L279.1,295.0L279.6,292.9L280.0,291.7L280.1,291.3L280.7,292.9L281.2,291.6L281.8,290.9L282.4,290.0L282.9,290.7L283.4,290.6L284.0,289.9L284.6,290.8L284.9,289.9L285.1,289.6L285.6,289.6L286.2,288.3L286.8,288.2L287.3,286.4L287.9,285.5L288.4,285.4L288.9,284.4L289.5,284.3L289.8,283.1L290.1,283.0L290.6,283.3L291.1,283.5L291.7,282.2L292.2,282.9L292.8,282.7L293.4,283.9L293.9,282.6L294.4,283.8L295.0,282.1L295.6,283.0L295.7,283.2L296.1,284.6L296.6,287.2L296.6,285.2L297.2,284.1L297.8,281.5L298.3,278.6L298.6,276.9L298.9,277.1L299.4,273.6L299.9,274.7L300.5,273.0L301.1,272.2L301.5,270.4L301.6,269.1L302.1,266.8L302.7,264.2L303.2,262.3L303.5,260.5L303.8,259.1L304.4,255.8L304.9,253.1L305.4,248.6L305.4,248.1L306.0,242.6L306.4,237.5L306.6,236.3L307.1,234.0L307.6,231.6L308.0,230.0L308.2,231.0L308.8,235.0L309.3,239.2L309.9,240.7L310.4,243.5L310.7,243.1L310.9,243.7L311.5,243.7L312.1,241.7L312.5,241.4L312.6,240.7L313.1,240.9L313.7,238.5L314.2,236.5L314.8,236.6L315.2,235.9L315.4,235.2L315.9,236.6L316.4,236.0L317.0,236.7L317.6,238.2L318.1,238.4L318.6,238.6L319.2,238.8L319.8,236.7L320.1,237.3L320.3,237.8L320.9,240.4L321.4,239.4L321.9,240.2L322.5,241.8L323.0,242.7L323.1,242.0L323.6,242.7L324.1,243.4L324.7,244.5L325.2,246.1L325.8,244.0L325.9,244.7L326.4,245.6L326.9,246.5L327.4,245.0L328.0,246.8L328.6,248.5L329.1,247.9L329.6,249.3L329.8,249.0L330.2,250.3L330.8,251.2L331.3,252.2L331.9,254.0L332.4,253.7L332.9,255.3L333.5,257.1L333.8,256.6L334.1,255.7L334.6,254.1L335.1,252.6L335.7,252.2L336.2,252.4L336.8,253.6L337.4,252.9L337.9,252.5L338.4,252.4L339.0,252.9L339.6,252.8L339.6,253.0L340.1,251.3L340.6,251.0L341.2,250.2L341.8,248.7L342.3,247.7L342.9,247.2L343.4,246.2L343.5,245.5L343.9,245.5L344.5,245.0L345.1,245.7L345.6,245.1L346.1,244.0L346.7,244.8L347.2,245.4L347.8,245.1L348.4,244.1L348.9,245.2L349.4,244.6L349.4,245.0L350.0,245.6L350.6,244.2L351.1,244.8L351.6,244.1L352.2,244.9L352.8,245.0L353.0,244.1L353.3,244.8L353.9,244.0L354.4,245.5L354.9,244.5L355.5,247.4L356.1,247.1L356.6,245.5L357.1,245.0L357.2,247.3L357.7,246.9L358.2,248.5L358.8,247.7L359.4,249.2L359.9,249.2L360.4,250.7L361.0,250.6L361.1,251.2L361.6,250.6L362.1,252.4L362.6,251.7L363.2,252.3L363.8,251.0L364.3,251.2L364.9,253.5L365.4,252.1L365.9,253.0L366.5,253.3L367.0,253.6L367.1,254.1L367.6,254.0L368.1,255.2L368.7,257.9L369.2,257.7L369.8,260.0L369.9,259.7L370.4,260.3L370.9,258.9L371.4,256.7L372.0,257.0L372.6,256.6L372.8,256.9L373.1,256.7L373.6,255.7L374.2,256.0L374.8,255.0L375.3,255.3L375.9,254.5L376.4,254.9L376.7,253.9L376.9,254.7L377.5,254.4L378.1,255.3L378.6,255.1L379.1,256.1L379.7,256.2L380.2,256.3L380.6,256.6L380.8,256.6L381.4,257.6L381.9,255.9L382.4,259.0L383.0,256.7L383.6,258.8L384.1,259.1L384.5,259.7L384.6,260.0L385.2,260.4L385.8,261.2L386.3,262.6L386.9,264.3L387.4,263.5L387.9,262.4L388.4,264.4L388.5,265.5L389.1,271.5L389.6,272.3L389.8,274.2L390.1,273.2L390.7,270.7L391.2,267.1L391.4,267.7L391.8,266.4L392.4,267.1L392.9,268.2L393.4,266.1L394.0,266.7L394.6,268.1L395.1,266.5L395.6,265.8L396.2,266.1L396.2,266.7L396.8,264.9L397.3,265.2L397.9,264.1L398.4,263.9L398.9,265.3L399.5,263.8L400.1,263.1L400.6,263.3L401.1,262.5L401.1,261.7L401.7,264.1L402.2,264.4L402.8,263.7L403.4,265.4L403.9,266.5L404.4,266.3L405.0,266.9L405.6,266.1L406.0,267.5L406.1,266.1L406.6,268.7L407.2,268.0L407.8,269.3L408.3,268.0L408.9,269.5L409.4,268.0L409.9,269.3L409.9,269.8L410.5,269.6L411.1,269.2L411.6,267.9L412.1,270.0L412.7,269.4L413.2,269.7L413.8,269.6L414.4,268.4L414.9,268.8L415.4,270.5L415.8,268.2L416.0,268.6L416.6,267.6L417.1,269.1L417.6,267.6L418.2,266.4L418.8,266.5L419.3,265.6L419.9,264.6L420.4,264.0L420.9,265.3L421.5,264.7L421.6,265.5L422.1,264.4L422.6,264.7L423.1,265.3L423.7,262.5L424.2,261.9L424.8,263.0L425.4,263.5L425.5,261.4L425.9,260.5L426.4,261.9L427.0,262.0L427.6,263.2L428.1,262.1L428.6,263.0L429.2,263.2L429.5,263.3L429.8,262.7L430.3,264.8L430.9,265.5L431.4,265.1L431.9,267.5L432.5,267.7L433.1,268.0L433.4,268.1L433.6,268.2L434.1,268.3L434.7,268.3L435.2,267.5L435.8,265.8L436.4,267.1L436.9,266.4L437.0,266.8L437.4,267.3L438.0,265.4L438.6,267.2L439.1,266.0L439.6,265.4L440.2,265.5L440.8,267.8L441.3,267.0L441.9,265.5L442.4,266.4L442.9,266.8L443.5,264.6L444.1,264.9L444.6,265.2L445.1,264.3L445.7,262.7L446.2,263.2L446.8,261.3L447.4,260.5L447.6,259.9L447.9,258.6L448.4,258.1L448.6,255.6L449.0,256.4L449.6,258.0L450.1,260.0L450.5,260.5L450.6,260.4L451.2,258.1L451.8,257.5L452.3,257.3L452.9,257.2L453.4,256.8L453.9,253.0L454.5,253.8L455.1,252.7L455.4,252.5L455.6,252.7L456.1,251.8L456.7,251.5L457.2,253.3L457.8,253.1L458.4,252.2L458.9,252.4L459.4,252.0L460.0,251.4L460.3,252.6L460.6,252.2L461.1,252.4L461.6,253.4L462.2,255.6L462.8,255.3L463.3,255.7L463.9,256.1L464.2,256.6L464.4,256.8L464.9,255.0L465.5,255.6L466.1,255.0L466.6,255.3L467.1,254.9L467.7,253.1L468.2,255.2L468.8,254.3L469.4,252.5L469.9,254.4L470.0,253.5L470.4,253.9L471.0,253.7L471.6,253.9L472.1,253.5L472.6,252.7L473.2,253.6L473.8,254.4L474.3,254.4L474.9,255.0L474.9,254.5L475.4,252.6L475.9,254.6L476.5,253.2L477.1,252.6L477.6,253.2L478.1,252.2L478.7,253.3L479.2,252.1L479.8,254.1L480.4,252.2L480.9,251.8L481.4,251.5L482.0,250.2L482.6,250.9L482.7,251.4L483.1,251.3L483.6,249.8L484.2,251.6L484.8,252.5L485.3,251.2L485.9,251.5L486.4,251.9L486.9,250.9L487.5,251.2L488.1,252.3L488.6,251.6L489.1,249.1L489.7,247.2L490.2,248.8L490.8,245.9L491.4,242.9L491.5,243.8L491.9,243.4L492.4,241.9L493.0,239.3L493.5,240.1L493.6,240.3L494.1,240.6L494.6,242.1L495.2,242.3L495.4,242.7L495.8,243.5L496.3,241.3L496.9,243.6L497.4,243.1L497.9,243.4L498.5,243.5L499.1,244.0L499.3,243.1L499.6,243.8L500.1,243.4L500.7,244.7L501.2,244.4L501.8,244.6L502.4,246.2L502.9,246.7L503.2,246.9L503.4,245.0L504.0,247.0L504.6,247.0L505.1,246.4L505.6,247.4L506.2,245.4L506.8,246.3L507.3,245.6L507.9,245.8L508.1,245.5L508.4,245.6L508.9,246.1L509.5,245.6L510.1,245.7L510.6,244.7L511.1,246.4L511.7,244.6L512.2,245.0L512.8,245.4L513.4,244.7L513.9,245.3L514.0,244.7L514.5,245.8L515.0,244.6L515.5,244.1L516.1,242.9L516.6,243.6L517.2,243.7L517.8,242.9L518.3,241.6L518.9,241.5L519.4,241.5L520.0,241.3L520.5,239.9L520.8,241.2L521.0,240.7L521.6,240.8L522.1,240.2L522.7,240.4L523.2,241.8L523.8,239.5L524.4,239.8L524.9,239.3L525.5,239.5L526.0,241.0L526.5,239.3L527.1,239.3L527.6,238.2L527.7,239.4L528.2,239.2L528.8,238.2L529.3,237.8L529.9,238.2L530.4,237.5L531.0,236.5L531.5,235.5L531.6,235.7L532.0,236.1L532.6,232.2L533.1,232.4L533.5,231.0L533.7,231.2L534.2,234.3L534.8,234.9L535.4,238.4L535.5,237.7L535.9,237.8L536.5,237.7L537.0,235.3L537.5,236.9L538.1,235.3L538.6,232.3L539.2,234.3L539.4,233.4L539.8,232.6L540.3,232.2L540.9,232.2L541.4,230.0L542.0,231.2L542.5,231.3L543.0,229.8L543.3,230.2L543.6,231.4L544.1,227.7L544.7,227.3L545.2,227.5L545.8,228.0L546.2,227.2L546.4,226.7L546.9,227.7L547.5,229.2L548.0,232.2L548.5,231.3L549.1,232.7L549.5,234.2L549.6,233.5L550.2,231.9L550.8,232.7L551.3,230.9L551.9,229.1L552.1,229.0L552.4,229.7L553.0,228.4L553.5,228.6L554.0,228.8L554.6,228.6L555.1,226.2L555.7,226.9L556.0,227.0L556.2,226.6L556.8,225.8L557.4,224.8L557.9,222.3L558.5,220.6L558.9,220.3L559.0,219.6L559.5,219.9L560.1,217.4L560.6,215.7L561.2,214.9L561.8,212.2L561.8,212.4L562.3,211.6L562.9,211.3L563.4,210.9L564.0,209.6L564.5,208.7L564.8,207.6L565.0,208.2L565.6,208.3L566.1,209.9L566.7,209.1L567.2,210.0L567.7,210.6L567.8,211.2L568.4,210.2L568.9,210.7L569.5,210.4L570.0,210.1L570.5,212.1L571.1,211.8L571.6,211.2L571.6,211.0L572.2,214.1L572.8,215.1L573.0,216.2L573.3,216.3L573.9,213.1L574.4,211.2L575.0,210.0L575.5,207.5L576.0,206.0L576.6,204.4L577.1,203.2L577.7,200.4L578.2,200.1L578.4,198.9L578.8,199.8L579.4,198.1L579.9,197.0L580.5,196.4L581.0,195.5L581.4,195.9L581.5,196.2L582.1,198.0L582.6,198.5L583.2,198.9L583.8,201.4L584.3,201.7L584.9,201.4L585.4,201.7L586.0,201.0L586.5,199.0L587.0,198.9L587.2,199.1L587.6,198.6L588.1,197.1L588.7,196.1L589.2,192.5L589.8,192.7L590.2,191.7L590.4,191.4L590.9,191.0L591.5,191.1L592.0,191.0L592.5,190.2L593.1,189.0L593.6,188.2L594.2,188.9L594.8,187.5L595.3,185.4L595.9,186.2L596.0,186.2L596.4,184.4L597.0,184.0L597.5,183.7L598.0,181.1L598.6,179.9L598.9,179.3L599.1,177.4L599.7,175.3L600.2,172.4L600.8,170.5L601.4,167.6L601.5,167.8L601.9,166.3L602.5,165.4L603.0,162.2L603.4,162.0L603.5,163.1L604.1,165.7L604.6,167.3L604.8,168.5L605.2,168.1L605.8,167.2L606.3,166.6L606.9,166.8L607.4,164.9L607.7,165.2L608.0,165.9L608.5,168.1L609.0,167.8L609.6,172.2L609.7,171.5L610.1,172.8L610.7,172.8L611.2,174.5L611.8,177.0L612.4,178.2L612.6,177.4L612.9,179.7L613.5,184.7L613.6,186.3L614.0,183.5L614.5,180.5L615.1,178.3L615.5,176.6L615.6,175.4L616.2,176.2L616.8,175.8L617.3,175.2L617.9,174.7L618.4,175.1L618.5,174.5L619.0,174.3L619.5,177.9L620.0,178.3L620.6,179.5L621.1,180.3L621.4,181.2L621.7,179.8L622.2,182.5L622.8,184.1L623.4,185.1L623.9,185.6L624.5,182.9L625.0,182.8L625.5,182.5L626.1,182.7L626.6,179.5L627.2,179.8L627.8,179.2L627.8,178.9L628.3,178.5L628.9,176.3L629.4,178.6L630.0,178.1L630.5,178.2L630.7,177.6L631.0,177.8L631.6,180.0L632.1,179.5L632.7,180.3L633.2,180.4L633.8,182.6L634.4,181.1L634.6,182.6L634.9,183.3L635.5,183.4L636.0,184.7L636.5,184.9L637.1,186.2L637.6,185.4L638.2,186.1L638.6,186.6L638.8,185.4L639.3,188.4L639.9,187.2L640.4,189.3L641.0,190.1L641.5,189.8L642.0,189.3L642.6,188.3L643.1,186.8L643.7,188.5L644.2,187.5L644.4,187.9L644.8,186.5L645.4,186.1L645.9,184.2L646.5,183.8L647.0,182.1L647.3,181.7L647.5,180.7L648.1,182.6L648.6,184.0L649.2,186.0L649.8,186.2L650.3,186.0L650.9,189.1L651.2,188.7L651.4,189.3L652.0,187.4L652.5,185.2L653.0,186.7L653.6,186.1L654.1,186.7L654.7,184.9L655.2,185.5L655.2,184.7L655.8,186.3L656.4,186.0L656.9,188.2L657.5,188.2L658.0,188.7L658.1,188.2L658.5,188.3L659.1,188.7L659.6,187.4L660.2,188.9L660.8,187.8L661.3,188.8L661.9,189.4L662.4,188.9L663.0,186.8L663.0,187.8L663.5,187.4L664.0,187.4L664.6,187.6L665.1,186.9L665.7,188.1L666.2,187.4L666.8,188.8L667.4,188.3L667.9,186.1L668.5,187.4L668.8,188.0L669.0,188.1L669.5,189.2L670.1,191.0L670.4,191.5L670.6,191.7L671.2,195.1L671.8,197.7L672.3,199.3L672.9,201.0L673.4,201.2L674.0,201.2L674.5,202.2L675.0,203.3L675.6,204.5L675.7,204.2L676.1,203.8L676.7,202.5L677.2,199.4L677.6,199.1L677.8,199.3L678.4,199.9L678.9,200.4L679.5,200.4L680.0,200.6L680.5,200.1L680.5,200.6L681.1,200.2L681.6,201.4L682.2,202.1L682.8,201.3L683.3,202.0L683.5,202.8L683.9,201.8L684.4,202.2L685.0,201.9L685.5,201.8L686.0,203.8L686.4,203.1L686.6,202.6L687.1,202.0L687.7,200.1L688.2,202.4L688.8,201.0L689.4,201.0L689.9,201.6L690.3,200.3L690.5,200.4L691.0,200.4L691.5,201.1L692.1,199.1L692.6,199.6L693.2,198.3L693.8,200.0L694.2,200.0L694.3,199.5L694.9,201.1L695.4,200.0L696.0,200.5L696.5,198.8L697.0,199.8L697.1,198.3L697.6,196.3L698.1,193.5L698.1,193.2L698.7,194.6L699.2,194.2L699.8,192.5L700.4,193.4L700.9,192.8L701.5,192.7L702.0,192.9L702.5,191.9L703.0,192.1L703.1,192.1L703.6,189.9L704.2,188.5L704.8,188.0L705.0,186.6L705.3,187.8L705.9,186.3L706.4,182.9L706.9,182.4L707.0,180.8L707.5,181.6L708.0,181.2L708.6,181.1L709.1,179.8L709.7,181.4L710.2,181.1L710.8,180.6L711.4,179.7L711.9,179.4L712.5,178.8L712.8,176.6L713.0,177.6L713.5,173.7L714.1,172.9L714.6,171.8L714.7,172.3L715.2,173.4L715.8,174.5L716.3,176.3L716.7,175.9L716.9,175.4L717.4,176.3L718.0,174.4L718.5,173.0L718.6,173.6L719.0,174.9L719.6,177.3L720.1,177.5L720.6,177.9L720.7,178.6L721.2,175.8L721.8,176.5L722.4,175.1L722.9,175.8L723.5,173.3L723.5,174.1L724.0,174.6L724.5,175.0L725.1,176.1L725.6,176.0L726.2,177.8L726.4,176.9L726.8,175.2L727.3,178.0L727.9,177.9L728.4,177.3L729.0,178.0L729.5,177.4L730.0,176.3L730.6,175.3L731.1,176.1L731.3,176.8L731.7,178.3L732.2,178.1L732.8,179.8L733.3,182.0L733.4,181.2L733.9,181.3L734.5,181.2L735.0,183.2L735.5,182.7L736.1,182.8L736.6,183.5L737.2,182.5L737.8,182.4L738.3,180.8L738.9,180.3L739.1,179.3L739.4,179.9L740.0,178.8L740.5,179.8L741.0,180.0L741.6,180.0L742.1,180.8L742.1,182.2L742.7,182.3L743.2,182.4L743.8,183.3L744.4,184.9L744.9,183.6L745.0,184.8L745.5,186.1L746.0,186.4L746.5,186.0L747.1,185.9L747.6,184.3L748.2,185.4L748.8,186.1L749.3,186.6L749.9,186.9L749.9,186.2L750.4,185.7L751.0,185.7L751.5,184.4L752.0,184.3L752.6,184.3L753.1,183.6L753.7,182.9L753.8,182.8L754.2,183.1L754.8,181.5L755.4,180.3L755.9,180.1L756.5,179.7L757.0,179.4L757.5,177.8L757.7,178.7L758.1,178.4L758.6,179.3L759.2,178.4L759.8,177.7L760.3,178.2L760.9,177.4L761.4,177.2L761.6,177.1L762.0,177.5L762.5,177.8L763.0,178.7L763.6,178.3L764.1,179.2L764.7,178.1L765.2,179.9L765.5,180.7L765.8,183.1L766.4,189.0L766.9,194.4L767.5,191.9L768.0,191.3L768.4,189.6L768.5,190.3L769.1,188.5L769.6,188.8L770.2,188.1L770.8,187.6L771.3,188.5L771.4,187.5L771.9,186.7L772.4,188.8L773.0,186.4L773.5,185.9L774.0,186.0L774.6,184.5L775.1,185.1L775.3,184.5L775.7,183.4L776.2,182.0L776.8,182.2L777.4,180.3L777.8,179.1L777.9,180.0L778.5,178.1L779.0,178.9L779.5,178.1L780.1,177.8L780.6,179.1L781.2,179.1L781.8,178.0L782.1,177.9L782.3,178.1L782.9,178.3L783.4,178.4L784.0,177.5L784.5,178.9L785.0,178.1L785.6,177.8L786.0,178.8L786.1,179.0L786.7,179.5L787.2,179.2L787.8,179.1L788.4,178.5L788.9,179.3L789.5,179.2L790.0,179.3L790.5,178.6L791.1,180.4L791.6,179.8L791.9,179.3L792.2,178.8L792.8,177.7L793.3,177.8L793.9,175.3L794.4,175.1L794.8,174.8L795.0,175.2L795.5,174.3L796.0,175.3L796.6,172.6L797.1,174.9L797.7,173.5L798.2,174.2L798.8,173.2L799.4,174.4L799.9,173.5L800.5,174.0L800.7,173.6L801.0,174.6L801.5,175.0L802.1,174.1L802.6,176.0L802.9,176.3L803.2,176.9L803.8,175.7L804.3,176.3L804.9,177.0L805.4,175.2L806.0,177.2L806.5,175.8L807.0,175.4L807.6,174.4L807.8,175.1L808.1,175.8L808.7,174.1L809.2,173.5L809.8,174.2L810.4,173.4L810.7,172.5L810.9,171.1L811.5,170.0L812.0,171.5L812.5,170.1L813.1,169.2L813.6,170.1L813.7,168.5L814.2,168.0L814.8,168.4L815.3,166.4L815.9,164.5L816.4,163.4L816.6,163.9L817.0,162.5L817.5,163.7L818.0,163.9L818.6,162.3L819.1,162.6L819.5,161.8L819.7,162.9L820.2,162.3L820.8,161.8L821.4,162.9L821.5,162.7L821.9,161.3L822.5,160.3L823.0,158.3L823.5,157.3L824.1,157.1L824.4,155.6L824.6,155.1L825.2,152.8L825.8,150.1L826.3,149.5L826.4,148.1L826.9,146.6L827.4,146.0L827.7,145.4L828.0,144.5L828.5,146.8L829.0,147.4L829.3,148.1L829.6,149.9L830.1,148.4L830.7,149.2L831.2,149.8L831.8,148.3L832.4,146.6L832.9,142.4L833.2,143.5L833.5,143.8L834.0,139.3L834.5,138.9L835.1,139.1L835.6,137.5L836.1,136.6L836.2,136.3L836.8,138.3L837.3,137.1L837.9,139.3L838.1,139.2L838.4,138.2L839.0,135.8L839.5,135.4L840.0,134.7L840.0,134.0L840.6,134.7L841.1,135.3L841.7,134.8L842.2,136.1L842.8,136.7L843.0,136.4L843.4,134.7L843.9,136.7L844.5,135.0L845.0,134.3L845.5,133.6L845.9,133.3L846.1,132.4L846.6,134.4L847.2,135.3L847.8,136.7L848.3,137.9L848.8,137.2L848.9,138.5L849.4,136.8L850.0,136.7L850.5,134.9L851.0,135.4L851.2,134.8L851.6,137.2L852.1,138.1L852.7,141.3L853.2,142.3L853.8,144.2L854.4,145.5L854.7,146.1L854.9,145.7L855.5,146.6L856.0,146.3L856.5,145.1L857.1,146.2L857.6,145.0L858.2,145.4L858.6,145.2L858.8,145.4L859.3,146.9L859.9,145.7L860.4,148.9L860.5,147.7L861.0,148.8L861.5,148.0L862.0,146.2L862.5,147.2L862.6,147.1L863.1,147.1L863.7,149.7L864.2,150.4L864.8,150.6L865.4,152.3L865.4,151.0L865.9,149.4L866.5,149.0L867.0,145.9L867.4,145.4L867.5,145.9L868.1,144.5L868.6,143.7L869.2,143.2L869.8,142.3L870.3,141.1L870.9,138.4L871.4,140.4L872.0,139.4L872.5,141.0L873.0,139.6L873.6,139.9L874.1,140.0L874.2,139.5L874.7,138.9L875.2,141.4L875.8,140.6L876.4,140.6L876.9,139.6L877.1,140.7L877.5,141.3L878.0,142.3L878.5,141.8L879.1,144.1L879.6,144.4L879.7,143.2L880.2,143.3L880.8,139.4L881.3,139.2L881.9,137.4L882.0,136.6L882.4,135.4L883.0,134.9L883.5,135.1L884.0,134.4L884.4,133.0L884.6,132.9L885.1,132.9L885.7,134.5L886.2,133.5L886.8,133.4L886.9,133.5L887.4,132.2L887.9,132.3L888.5,131.3L888.9,132.4L889.0,132.4L889.5,132.7L890.1,134.0L890.6,135.1L890.8,135.1L891.2,136.5L891.8,134.6L892.3,138.9L892.9,137.0L893.4,138.9L893.8,139.2L894.0,139.6L894.5,138.6L895.0,139.5L895.6,137.9L896.1,139.5L896.7,138.8L897.2,139.6L897.8,140.6L898.4,139.3L898.9,140.2L899.5,140.6L899.6,141.2L900.0,141.8L900.5,142.8L901.1,142.9L901.6,143.2L902.2,144.3L902.5,144.4L902.8,145.4L903.3,147.4L903.9,146.5L903.9,147.1L904.4,145.1L905.0,144.5L905.5,144.4L906.0,143.8L906.4,142.1L906.6,142.8L907.1,143.0L907.7,143.9L908.2,144.2L908.8,144.2L909.4,143.4L909.4,144.9L909.9,145.0L910.5,144.0L911.0,145.1L911.5,143.0L912.1,143.1L912.3,142.0L912.6,141.5L913.2,143.3L913.8,145.0L914.2,144.3L914.3,143.9L914.9,143.6L915.4,142.9L916.0,141.9L916.5,140.8L916.8,140.1L917.0,139.6L917.6,140.6L918.1,141.3L918.7,140.9L919.1,142.5L919.2,142.8L919.8,142.4L920.4,143.9L920.9,145.6L921.5,144.4L922.0,144.9L922.1,145.0L922.5,144.3L923.1,145.6L923.6,146.1L924.0,147.2L924.2,146.5L924.8,150.0L925.3,151.3L925.4,151.9L925.9,151.3L926.4,152.5L927.0,150.5L927.5,149.9L928.0,150.7L928.6,149.7L928.9,150.1L929.1,150.3L929.7,151.2L930.2,152.1L930.8,151.6L930.9,152.6L931.4,157.1L931.9,157.9L932.4,161.8L932.5,160.9L933.0,161.4L933.5,161.1L934.1,162.1L934.6,160.7L935.2,159.4L935.7,160.1L935.8,160.6L936.3,160.5L936.9,160.9L937.4,160.6L938.0,157.4L938.5,157.9L938.7,157.6L939.0,157.9L939.6,158.2L940.1,156.0L940.7,157.8L941.2,157.6L941.6,156.9L941.8,156.4L942.4,158.0L942.9,156.6L943.5,155.8L944.0,156.6L944.1,156.7L944.5,157.6L945.1,156.4L945.6,157.6L946.2,159.1L946.5,159.8L946.8,160.1L947.3,159.4L947.9,161.4L948.4,161.4L949.0,160.3L949.4,161.6L949.5,161.4L950.0,158.7L950.4,158.8L950.6,159.3L951.1,159.8L951.7,161.6L952.2,163.6L952.3,162.2L952.8,162.6L953.4,161.8L953.9,163.2L954.5,162.8L955.0,161.8L955.3,161.6L955.5,162.3L956.1,161.6L956.6,160.6L957.2,160.6L957.8,161.2L958.2,161.6L958.3,161.9L958.9,161.7L959.4,160.9L959.8,160.1" fill="none" stroke="#242424" stroke-width="1.85" stroke-linejoin="round"/>
<path d="M61.3,448.9H963.8" stroke="#0755FF" stroke-width="2.6" stroke-dasharray="2.9,2.465" stroke-dashoffset="0.98" fill="none"/>
<text x="343.3" y="440.6" font-size="15.3" fill="#0755FF" font-weight="bold" textLength="376.0" lengthAdjust="spacingAndGlyphs">Coins &lt; 3M Account for 12% of the Realized Cap</text>
<path d="M720.5,62H967V83H963.5V102H961V122H730.5V102H728V83H720.5Z" fill="#fff"/>
<rect x="963.6" y="106" width="1.75" height="387.7" fill="#2e2e2e"/>
<text x="721.2" y="79.3" font-size="16.4" fill="#FF0A5C" font-weight="bold" textLength="244.6" lengthAdjust="spacingAndGlyphs">USD Wealth Held Across Young</text>
<text x="728.7" y="98.8" font-size="16.4" fill="#FF0A5C" font-weight="bold" textLength="233.8" lengthAdjust="spacingAndGlyphs">Coins Has Reached New ATLs</text>
<text x="731.2" y="118.6" font-size="17.4" fill="#FF0A5C" font-style="italic" textLength="228.8" lengthAdjust="spacingAndGlyphs">HODLing is Occurring at Scale</text>
<path d="M733.5,126.9H959" stroke="#FF0A5C" stroke-opacity="0.9" stroke-width="1" stroke-dasharray="2,2.3" fill="none"/>
<circle cx="63.0" cy="91.3" r="3" fill="#5E4FA2" fill-opacity="0.9"/>
<text x="70.0" y="94.3" font-size="8.6" fill="#c6c6c6" font-weight="bold" textLength="20.0" lengthAdjust="spacingAndGlyphs">&gt;10y</text>
<circle cx="108.0" cy="91.3" r="3" fill="#3682BA" fill-opacity="0.9"/>
<text x="114.5" y="94.3" font-size="8.6" fill="#c6c6c6" font-weight="bold" textLength="29.2" lengthAdjust="spacingAndGlyphs">7y-10y</text>
<circle cx="162.0" cy="91.3" r="3" fill="#5CB7AA" fill-opacity="0.9"/>
<text x="168.0" y="94.3" font-size="8.6" fill="#c6c6c6" font-weight="bold" textLength="23.7" lengthAdjust="spacingAndGlyphs">5y-7y</text>
<circle cx="209.0" cy="91.3" r="3" fill="#98D5A4" fill-opacity="0.9"/>
<text x="215.7" y="94.3" font-size="8.6" fill="#c6c6c6" font-weight="bold" textLength="23.8" lengthAdjust="spacingAndGlyphs">3y-5y</text>
<circle cx="258.0" cy="91.3" r="3" fill="#BEE5A0" fill-opacity="0.9"/>
<text x="264.5" y="94.3" font-size="8.6" fill="#c6c6c6" font-weight="bold" textLength="23.5" lengthAdjust="spacingAndGlyphs">2y-3y</text>
<circle cx="305.7" cy="91.3" r="3" fill="#EDF8A3" fill-opacity="0.9"/>
<text x="312.5" y="94.3" font-size="8.6" fill="#c6c6c6" font-weight="bold" textLength="23.5" lengthAdjust="spacingAndGlyphs">1y-2y</text>
<circle cx="354.0" cy="91.3" r="3" fill="#FEE593" fill-opacity="0.9"/>
<text x="360.5" y="94.3" font-size="8.6" fill="#c6c6c6" font-weight="bold" textLength="34.5" lengthAdjust="spacingAndGlyphs">6m-12m</text>
<circle cx="413.0" cy="91.3" r="3" fill="#FDBF6F" fill-opacity="0.9"/>
<text x="419.5" y="94.3" font-size="8.6" fill="#c6c6c6" font-weight="bold" textLength="29.2" lengthAdjust="spacingAndGlyphs">3m-6m</text>
<circle cx="466.5" cy="91.3" r="3" fill="#FA9B58"/>
<text x="473.0" y="94.3" font-size="8.6" fill="#303030" font-weight="bold" textLength="29.0" lengthAdjust="spacingAndGlyphs">1m-3m</text>
<circle cx="520.0" cy="91.3" r="3" fill="#EE6445"/>
<text x="526.5" y="94.3" font-size="8.6" fill="#303030" font-weight="bold" textLength="28.5" lengthAdjust="spacingAndGlyphs">1w-1m</text>
<circle cx="572.5" cy="91.3" r="3" fill="#D0384E"/>
<text x="579.0" y="94.3" font-size="8.6" fill="#303030" font-weight="bold" textLength="26.5" lengthAdjust="spacingAndGlyphs">1d-1w</text>
<circle cx="623.0" cy="91.3" r="3" fill="#9E0142"/>
<text x="629.7" y="94.3" font-size="8.6" fill="#303030" font-weight="bold" textLength="15.3" lengthAdjust="spacingAndGlyphs">24h</text>
<circle cx="662.7" cy="91.3" r="3" fill="#333"/>
<text x="669.0" y="94.3" font-size="8.6" fill="#303030" font-weight="bold" textLength="46.0" lengthAdjust="spacingAndGlyphs">Price [USD]</text>
<text x="50.6" y="191.4" font-size="8.3" fill="#8a8a8a" text-anchor="end" textLength="15.6" lengthAdjust="spacingAndGlyphs">80%</text>
<text x="50.6" y="266.9" font-size="8.3" fill="#8a8a8a" text-anchor="end" textLength="15.6" lengthAdjust="spacingAndGlyphs">60%</text>
<text x="50.6" y="342.4" font-size="8.3" fill="#8a8a8a" text-anchor="end" textLength="15.6" lengthAdjust="spacingAndGlyphs">40%</text>
<text x="50.6" y="417.9" font-size="8.3" fill="#8a8a8a" text-anchor="end" textLength="15.6" lengthAdjust="spacingAndGlyphs">20%</text>
<text x="50.6" y="492.9" font-size="8.3" fill="#8a8a8a" text-anchor="end" textLength="10.4" lengthAdjust="spacingAndGlyphs">0%</text>
<text x="971.0" y="121.0" font-size="8.5" fill="#8a8a8a">$100k</text>
<text x="971.0" y="133.4" font-size="8.5" fill="#8a8a8a">$60k</text>
<text x="971.0" y="160.0" font-size="8.5" fill="#8a8a8a">$20k</text>
<text x="971.0" y="181.7" font-size="8.5" fill="#8a8a8a">$8k</text>
<text x="971.0" y="198.6" font-size="8.5" fill="#8a8a8a">$4k</text>
<text x="971.0" y="232.6" font-size="8.5" fill="#8a8a8a">$1k</text>
<text x="971.0" y="244.8" font-size="8.5" fill="#8a8a8a">$600</text>
<text x="971.0" y="271.1" font-size="8.5" fill="#8a8a8a">$200</text>
<text x="971.0" y="293.0" font-size="8.5" fill="#8a8a8a">$80</text>
<text x="971.0" y="310.0" font-size="8.5" fill="#8a8a8a">$40</text>
<text x="971.0" y="343.1" font-size="8.5" fill="#8a8a8a">$10</text>
<text x="971.0" y="355.3" font-size="8.5" fill="#8a8a8a">$6</text>
<text x="971.0" y="381.3" font-size="8.5" fill="#8a8a8a">$2</text>
<text x="971.0" y="403.9" font-size="8.5" fill="#8a8a8a">$0.80</text>
<text x="971.0" y="421.0" font-size="8.5" fill="#8a8a8a">$0.40</text>
<text x="971.0" y="454.3" font-size="8.5" fill="#8a8a8a">$0.10</text>
<text x="971.0" y="466.2" font-size="8.5" fill="#8a8a8a">$0.06</text>
<text x="971.0" y="492.8" font-size="8.5" fill="#8a8a8a">$0.02</text>
<path d="M94.5,494V498.5" stroke="#ebebeb" stroke-width="1"/>
<text x="94.5" y="508.2" font-size="9" fill="#6e6e6e" text-anchor="middle" textLength="20.5" lengthAdjust="spacingAndGlyphs">2011</text>
<path d="M168.5,494V498.5" stroke="#ebebeb" stroke-width="1"/>
<text x="167.6" y="508.2" font-size="9" fill="#6e6e6e" text-anchor="middle" textLength="20.5" lengthAdjust="spacingAndGlyphs">2012</text>
<path d="M241.5,494V498.5" stroke="#ebebeb" stroke-width="1"/>
<text x="240.7" y="508.2" font-size="9" fill="#6e6e6e" text-anchor="middle" textLength="20.5" lengthAdjust="spacingAndGlyphs">2013</text>
<path d="M314.5,494V498.5" stroke="#ebebeb" stroke-width="1"/>
<text x="313.8" y="508.2" font-size="9" fill="#6e6e6e" text-anchor="middle" textLength="20.5" lengthAdjust="spacingAndGlyphs">2014</text>
<path d="M387.5,494V498.5" stroke="#ebebeb" stroke-width="1"/>
<text x="386.9" y="508.2" font-size="9" fill="#6e6e6e" text-anchor="middle" textLength="20.5" lengthAdjust="spacingAndGlyphs">2015</text>
<path d="M460.5,494V498.5" stroke="#ebebeb" stroke-width="1"/>
<text x="460.0" y="508.2" font-size="9" fill="#6e6e6e" text-anchor="middle" textLength="20.5" lengthAdjust="spacingAndGlyphs">2016</text>
<path d="M533.5,494V498.5" stroke="#ebebeb" stroke-width="1"/>
<text x="533.1" y="508.2" font-size="9" fill="#6e6e6e" text-anchor="middle" textLength="20.5" lengthAdjust="spacingAndGlyphs">2017</text>
<path d="M606.5,494V498.5" stroke="#ebebeb" stroke-width="1"/>
<text x="606.2" y="508.2" font-size="9" fill="#6e6e6e" text-anchor="middle" textLength="20.5" lengthAdjust="spacingAndGlyphs">2018</text>
<path d="M679.5,494V498.5" stroke="#ebebeb" stroke-width="1"/>
<text x="679.3" y="508.2" font-size="9" fill="#6e6e6e" text-anchor="middle" textLength="20.5" lengthAdjust="spacingAndGlyphs">2019</text>
<path d="M752.5,494V498.5" stroke="#ebebeb" stroke-width="1"/>
<text x="752.4" y="508.2" font-size="9" fill="#6e6e6e" text-anchor="middle" textLength="20.5" lengthAdjust="spacingAndGlyphs">2020</text>
<path d="M826.5,494V498.5" stroke="#ebebeb" stroke-width="1"/>
<text x="825.5" y="508.2" font-size="9" fill="#6e6e6e" text-anchor="middle" textLength="20.5" lengthAdjust="spacingAndGlyphs">2021</text>
<path d="M899.5,494V498.5" stroke="#ebebeb" stroke-width="1"/>
<text x="898.6" y="508.2" font-size="9" fill="#6e6e6e" text-anchor="middle" textLength="20.5" lengthAdjust="spacingAndGlyphs">2022</text>
<rect x="349.5" y="543.4" width="36.4" height="18.7" fill="#0755FF"/>
<text x="449.5" y="549.0" font-size="13.6" fill="#0755FF" text-anchor="middle" font-weight="bold" textLength="79.0" lengthAdjust="spacingAndGlyphs">Cycle Low in</text>
<text x="449.7" y="565.6" font-size="13.6" fill="#0755FF" text-anchor="middle" font-weight="bold" textLength="108.2" lengthAdjust="spacingAndGlyphs">&lt; 3M USD Wealth</text>
<rect x="542" y="543.4" width="36.4" height="18.7" fill="#FF0A5C"/>
<text x="649.0" y="549.0" font-size="13.6" fill="#FF0A5C" text-anchor="middle" font-weight="bold" textLength="116.0" lengthAdjust="spacingAndGlyphs">Current Cycle Low</text>
<text x="648.8" y="565.6" font-size="13.6" fill="#FF0A5C" text-anchor="middle" font-weight="bold" textLength="120.4" lengthAdjust="spacingAndGlyphs">in &lt;3M USD Wealth</text>
<text x="23.0" y="567.2" font-size="9.7" fill="#7d7d7d" textLength="182.5" lengthAdjust="spacingAndGlyphs">© 2022 Glassnode. All Rights Reserved.</text>
<text x="1011.0" y="567.2" font-size="9.7" fill="#7d7d7d" text-anchor="end" textLength="47.5" lengthAdjust="spacingAndGlyphs">Glassnode</text>
</svg>
</body></html>
